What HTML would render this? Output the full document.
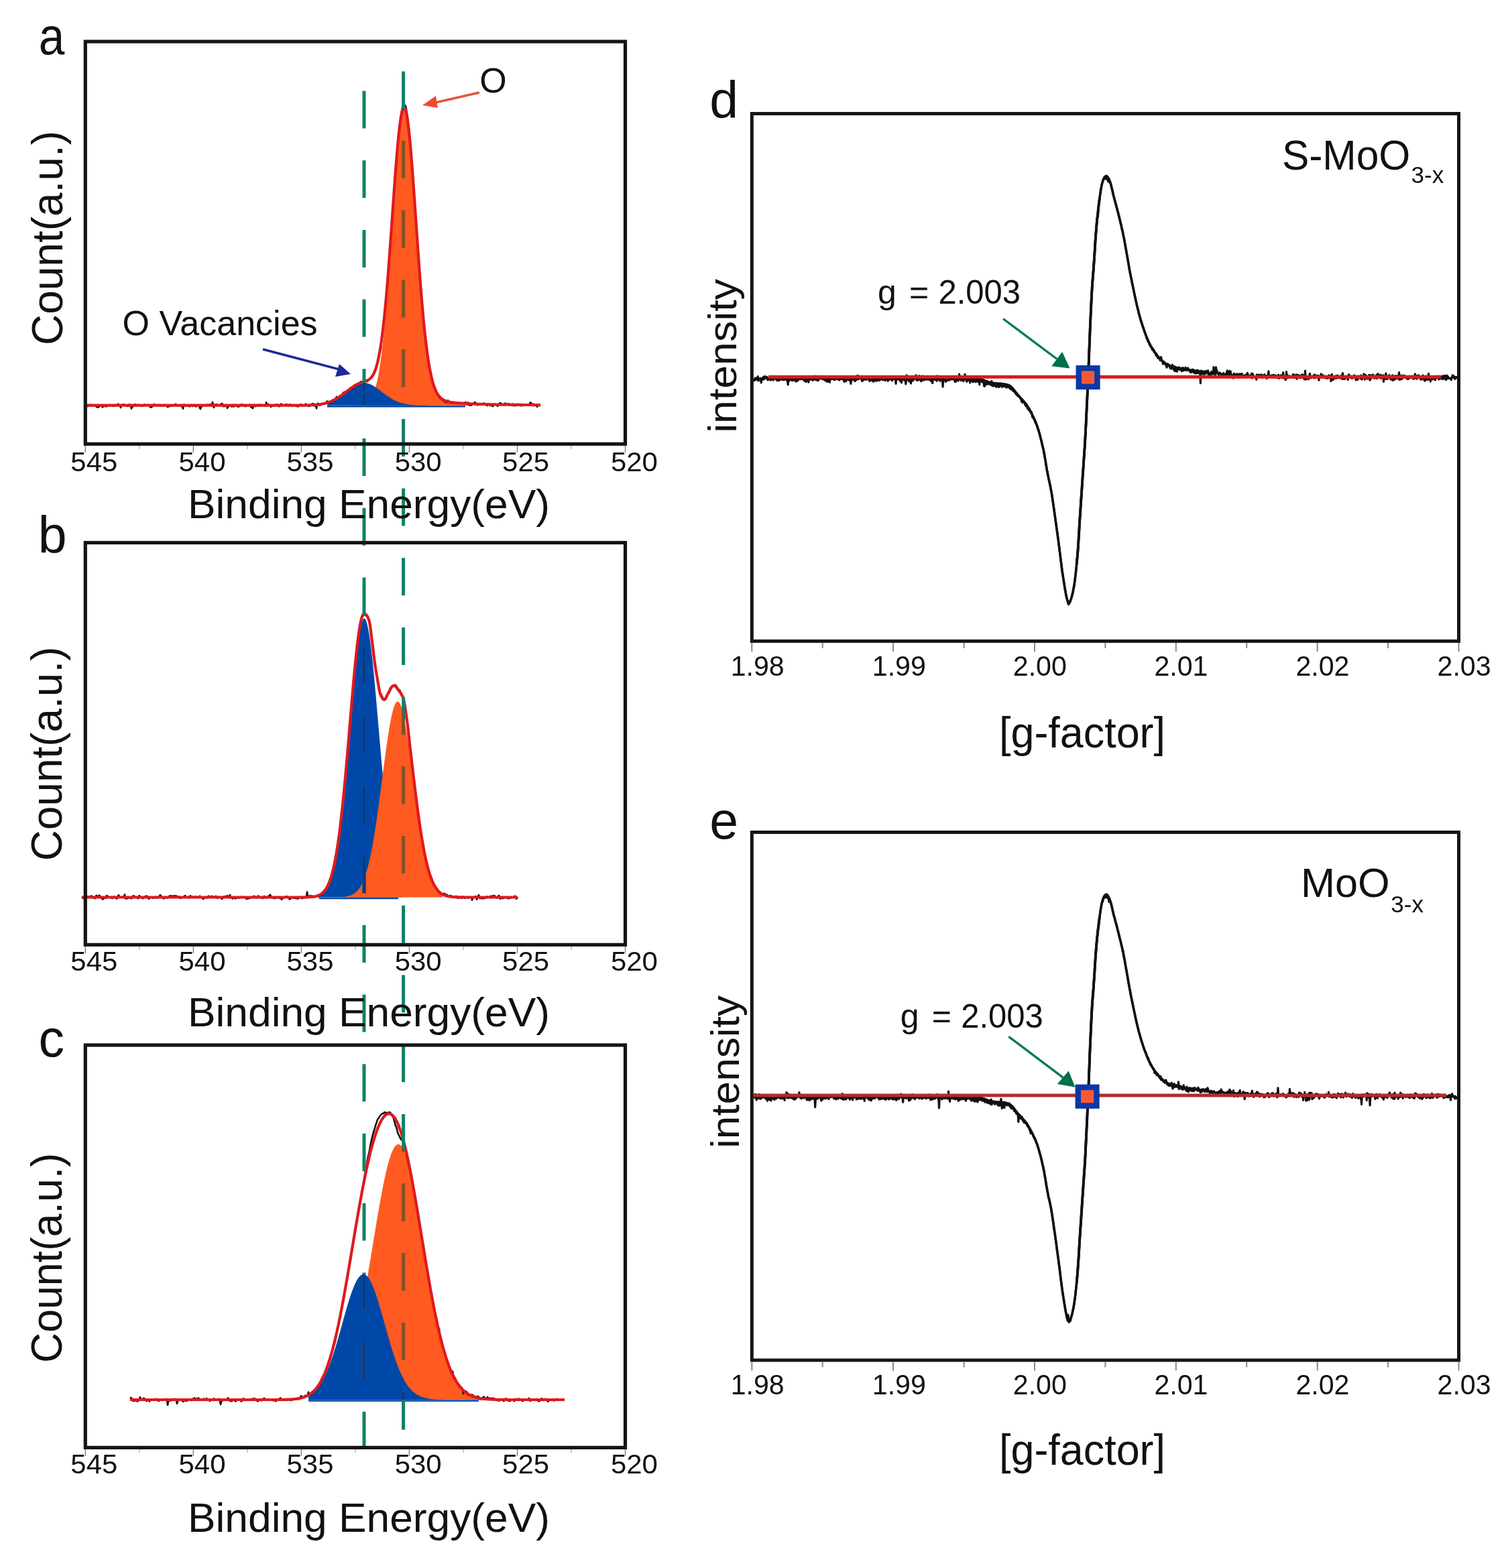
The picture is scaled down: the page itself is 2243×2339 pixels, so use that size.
<!DOCTYPE html><html><head><meta charset="utf-8"><title>XPS and EPR spectra</title><style>html,body{margin:0;padding:0;background:#fff;overflow:hidden;}svg{display:block;}</style></head><body><svg width="2243" height="2339" viewBox="0 0 2243 2339" font-family="'Liberation Sans', Arial, Helvetica, sans-serif">
<rect x="0" y="0" width="2243" height="2339" fill="#fff"/>
<defs><clipPath id="clipOa"><path d="M530.0,604.7 L530.0,604.6 L531.0,604.5 L532.0,604.5 L533.0,604.5 L534.0,604.4 L535.0,604.3 L536.0,604.2 L537.0,604.1 L538.0,604.0 L539.0,603.8 L540.0,603.7 L541.0,603.4 L542.0,603.2 L543.0,602.9 L544.0,602.5 L545.0,602.1 L546.0,601.6 L547.0,601.0 L548.0,600.3 L549.0,599.5 L550.0,598.6 L551.0,597.5 L552.0,596.3 L553.0,594.9 L554.0,593.3 L555.0,591.4 L556.0,589.4 L557.0,587.0 L558.0,584.4 L559.0,581.4 L560.0,578.1 L561.0,574.5 L562.0,570.4 L563.0,565.8 L564.0,560.9 L565.0,555.4 L566.0,549.4 L567.0,542.9 L568.0,535.8 L569.0,528.2 L570.0,519.9 L571.0,511.1 L572.0,501.7 L573.0,491.6 L574.0,481.0 L575.0,469.7 L576.0,457.9 L577.0,445.6 L578.0,432.7 L579.0,419.4 L580.0,405.7 L581.0,391.6 L582.0,377.2 L583.0,362.6 L584.0,347.8 L585.0,332.9 L586.0,318.1 L587.0,303.4 L588.0,288.9 L589.0,274.7 L590.0,261.0 L591.0,247.8 L592.0,235.2 L593.0,223.3 L594.0,212.2 L595.0,202.1 L596.0,193.0 L597.0,184.9 L598.0,178.1 L599.0,172.4 L600.0,168.0 L601.0,164.9 L602.0,163.1 L603.0,162.7 L604.0,163.7 L605.0,166.1 L606.0,169.9 L607.0,175.1 L608.0,181.5 L609.0,189.1 L610.0,197.9 L611.0,207.7 L612.0,218.5 L613.0,230.0 L614.0,242.4 L615.0,255.3 L616.0,268.7 L617.0,282.6 L618.0,296.8 L619.0,311.2 L620.0,325.7 L621.0,340.2 L622.0,354.6 L623.0,368.9 L624.0,383.0 L625.0,396.8 L626.0,410.2 L627.0,423.3 L628.0,435.9 L629.0,448.0 L630.0,459.7 L631.0,470.7 L632.0,481.3 L633.0,491.2 L634.0,500.6 L635.0,509.4 L636.0,517.7 L637.0,525.3 L638.0,532.5 L639.0,539.1 L640.0,545.2 L641.0,550.8 L642.0,555.9 L643.0,560.6 L644.0,564.8 L645.0,568.7 L646.0,572.2 L647.0,575.4 L648.0,578.2 L649.0,580.7 L650.0,583.0 L651.0,585.1 L652.0,586.9 L653.0,588.5 L654.0,589.9 L655.0,591.2 L656.0,592.4 L657.0,593.4 L658.0,594.2 L659.0,595.0 L660.0,595.7 L661.0,596.3 L662.0,596.9 L663.0,597.3 L664.0,597.8 L665.0,598.1 L666.0,598.5 L667.0,598.8 L668.0,599.0 L669.0,599.3 L670.0,599.5 L671.0,599.7 L672.0,599.9 L673.0,600.0 L674.0,600.2 L675.0,600.3 L676.0,600.5 L677.0,600.6 L678.0,600.7 L679.0,600.8 L680.0,600.9 L681.0,601.0 L682.0,601.1 L683.0,601.2 L684.0,601.3 L685.0,601.4 L686.0,601.4 L687.0,601.5 L688.0,601.6 L689.0,601.7 L690.0,601.7 L691.0,601.8 L692.0,601.8 L693.0,601.9 L694.0,602.0 L695.0,602.0 L696.0,602.1 L697.0,602.1 L698.0,602.2 L699.0,602.2 L700.0,602.3 L700.0,604.7 Z"/></clipPath><clipPath id="clipBa"><path d="M488.0,604.7 L488.0,600.8 L489.0,600.4 L490.0,600.1 L491.0,599.7 L492.0,599.4 L493.0,599.0 L494.0,598.6 L495.0,598.1 L496.0,597.7 L497.0,597.2 L498.0,596.7 L499.0,596.2 L500.0,595.6 L501.0,595.0 L502.0,594.5 L503.0,593.9 L504.0,593.2 L505.0,592.6 L506.0,591.9 L507.0,591.2 L508.0,590.6 L509.0,589.8 L510.0,589.1 L511.0,588.4 L512.0,587.7 L513.0,586.9 L514.0,586.1 L515.0,585.4 L516.0,584.6 L517.0,583.8 L518.0,583.1 L519.0,582.3 L520.0,581.6 L521.0,580.8 L522.0,580.1 L523.0,579.4 L524.0,578.7 L525.0,578.0 L526.0,577.3 L527.0,576.7 L528.0,576.0 L529.0,575.4 L530.0,574.9 L531.0,574.4 L532.0,573.9 L533.0,573.4 L534.0,573.0 L535.0,572.6 L536.0,572.3 L537.0,572.0 L538.0,571.7 L539.0,571.5 L540.0,571.4 L541.0,571.3 L542.0,571.2 L543.0,571.2 L544.0,571.2 L545.0,571.3 L546.0,571.4 L547.0,571.6 L548.0,571.8 L549.0,572.1 L550.0,572.4 L551.0,572.8 L552.0,573.2 L553.0,573.6 L554.0,574.1 L555.0,574.6 L556.0,575.1 L557.0,575.7 L558.0,576.3 L559.0,576.9 L560.0,577.6 L561.0,578.2 L562.0,578.9 L563.0,579.6 L564.0,580.4 L565.0,581.1 L566.0,581.9 L567.0,582.6 L568.0,583.4 L569.0,584.2 L570.0,584.9 L571.0,585.7 L572.0,586.4 L573.0,587.2 L574.0,587.9 L575.0,588.7 L576.0,589.4 L577.0,590.1 L578.0,590.8 L579.0,591.5 L580.0,592.2 L581.0,592.8 L582.0,593.5 L583.0,594.1 L584.0,594.7 L585.0,595.3 L586.0,595.8 L587.0,596.4 L588.0,596.9 L589.0,597.4 L590.0,597.8 L591.0,598.3 L592.0,598.7 L593.0,599.1 L594.0,599.5 L595.0,599.9 L596.0,600.2 L597.0,600.6 L598.0,600.9 L599.0,601.2 L600.0,601.4 L601.0,601.7 L602.0,601.9 L603.0,602.2 L604.0,602.4 L605.0,602.6 L606.0,602.8 L607.0,602.9 L608.0,603.1 L609.0,603.2 L610.0,603.4 L611.0,603.5 L612.0,603.6 L613.0,603.7 L614.0,603.8 L615.0,603.9 L616.0,604.0 L617.0,604.0 L618.0,604.1 L619.0,604.2 L620.0,604.2 L621.0,604.3 L622.0,604.3 L623.0,604.4 L624.0,604.4 L625.0,604.4 L626.0,604.5 L627.0,604.5 L628.0,604.5 L629.0,604.5 L630.0,604.6 L631.0,604.6 L632.0,604.6 L633.0,604.6 L634.0,604.6 L635.0,604.6 L636.0,604.6 L637.0,604.6 L638.0,604.6 L639.0,604.7 L640.0,604.7 L641.0,604.7 L642.0,604.7 L643.0,604.7 L644.0,604.7 L645.0,604.7 L646.0,604.7 L647.0,604.7 L648.0,604.7 L649.0,604.7 L650.0,604.7 L651.0,604.7 L652.0,604.7 L653.0,604.7 L654.0,604.7 L655.0,604.7 L656.0,604.7 L657.0,604.7 L658.0,604.7 L659.0,604.7 L660.0,604.7 L661.0,604.7 L662.0,604.7 L663.0,604.7 L664.0,604.7 L665.0,604.7 L666.0,604.7 L667.0,604.7 L668.0,604.7 L669.0,604.7 L670.0,604.7 L671.0,604.7 L672.0,604.7 L673.0,604.7 L674.0,604.7 L675.0,604.7 L676.0,604.7 L677.0,604.7 L678.0,604.7 L679.0,604.7 L680.0,604.7 L681.0,604.7 L682.0,604.7 L683.0,604.7 L684.0,604.7 L685.0,604.7 L686.0,604.7 L687.0,604.7 L688.0,604.7 L689.0,604.7 L690.0,604.7 L691.0,604.7 L692.0,604.7 L693.0,604.7 L694.0,604.7 L695.0,604.7 L696.0,604.7 L697.0,604.7 L698.0,604.7 L699.0,604.7 L700.0,604.7 L700.0,604.7 Z"/></clipPath><clipPath id="clipOb"><path d="M515.0,1338.5 L515.0,1337.6 L516.0,1337.4 L517.0,1337.3 L518.0,1337.1 L519.0,1336.8 L520.0,1336.6 L521.0,1336.3 L522.0,1336.0 L523.0,1335.7 L524.0,1335.3 L525.0,1334.8 L526.0,1334.3 L527.0,1333.7 L528.0,1333.1 L529.0,1332.4 L530.0,1331.6 L531.0,1330.8 L532.0,1329.8 L533.0,1328.8 L534.0,1327.6 L535.0,1326.4 L536.0,1325.0 L537.0,1323.4 L538.0,1321.8 L539.0,1319.9 L540.0,1318.0 L541.0,1315.8 L542.0,1313.5 L543.0,1311.0 L544.0,1308.3 L545.0,1305.4 L546.0,1302.3 L547.0,1299.0 L548.0,1295.4 L549.0,1291.7 L550.0,1287.6 L551.0,1283.4 L552.0,1278.9 L553.0,1274.1 L554.0,1269.2 L555.0,1263.9 L556.0,1258.4 L557.0,1252.7 L558.0,1246.8 L559.0,1240.6 L560.0,1234.2 L561.0,1227.6 L562.0,1220.8 L563.0,1213.8 L564.0,1206.6 L565.0,1199.3 L566.0,1191.9 L567.0,1184.4 L568.0,1176.8 L569.0,1169.1 L570.0,1161.4 L571.0,1153.7 L572.0,1146.0 L573.0,1138.4 L574.0,1130.9 L575.0,1123.5 L576.0,1116.3 L577.0,1109.3 L578.0,1102.4 L579.0,1095.9 L580.0,1089.6 L581.0,1083.7 L582.0,1078.1 L583.0,1072.8 L584.0,1068.0 L585.0,1063.6 L586.0,1059.7 L587.0,1056.3 L588.0,1053.3 L589.0,1050.9 L590.0,1049.0 L591.0,1047.6 L592.0,1046.8 L593.0,1046.5 L594.0,1046.8 L595.0,1047.6 L596.0,1049.0 L597.0,1050.9 L598.0,1053.3 L599.0,1056.3 L600.0,1059.7 L601.0,1063.6 L602.0,1068.0 L603.0,1072.8 L604.0,1078.1 L605.0,1083.7 L606.0,1089.6 L607.0,1095.9 L608.0,1102.4 L609.0,1109.3 L610.0,1116.3 L611.0,1123.5 L612.0,1130.9 L613.0,1138.4 L614.0,1146.0 L615.0,1153.7 L616.0,1161.4 L617.0,1169.1 L618.0,1176.8 L619.0,1184.4 L620.0,1191.9 L621.0,1199.3 L622.0,1206.6 L623.0,1213.8 L624.0,1220.8 L625.0,1227.6 L626.0,1234.2 L627.0,1240.6 L628.0,1246.8 L629.0,1252.7 L630.0,1258.4 L631.0,1263.9 L632.0,1269.2 L633.0,1274.1 L634.0,1278.9 L635.0,1283.4 L636.0,1287.6 L637.0,1291.7 L638.0,1295.4 L639.0,1299.0 L640.0,1302.3 L641.0,1305.4 L642.0,1308.3 L643.0,1311.0 L644.0,1313.5 L645.0,1315.8 L646.0,1318.0 L647.0,1319.9 L648.0,1321.8 L649.0,1323.4 L650.0,1325.0 L651.0,1326.4 L652.0,1327.6 L653.0,1328.8 L654.0,1329.8 L655.0,1330.8 L656.0,1331.6 L657.0,1332.4 L658.0,1333.1 L659.0,1333.7 L660.0,1334.3 L660.0,1338.5 Z"/></clipPath><clipPath id="clipBb"><path d="M476.0,1338.5 L476.0,1335.4 L477.0,1334.9 L478.0,1334.3 L479.0,1333.7 L480.0,1333.0 L481.0,1332.2 L482.0,1331.3 L483.0,1330.2 L484.0,1329.1 L485.0,1327.8 L486.0,1326.4 L487.0,1324.8 L488.0,1323.1 L489.0,1321.2 L490.0,1319.0 L491.0,1316.7 L492.0,1314.1 L493.0,1311.3 L494.0,1308.2 L495.0,1304.8 L496.0,1301.1 L497.0,1297.2 L498.0,1292.9 L499.0,1288.2 L500.0,1283.2 L501.0,1277.9 L502.0,1272.2 L503.0,1266.1 L504.0,1259.6 L505.0,1252.7 L506.0,1245.4 L507.0,1237.7 L508.0,1229.6 L509.0,1221.1 L510.0,1212.2 L511.0,1203.0 L512.0,1193.4 L513.0,1183.4 L514.0,1173.1 L515.0,1162.5 L516.0,1151.6 L517.0,1140.5 L518.0,1129.2 L519.0,1117.7 L520.0,1106.1 L521.0,1094.4 L522.0,1082.7 L523.0,1070.9 L524.0,1059.3 L525.0,1047.8 L526.0,1036.4 L527.0,1025.3 L528.0,1014.5 L529.0,1004.0 L530.0,994.0 L531.0,984.4 L532.0,975.3 L533.0,966.8 L534.0,958.9 L535.0,951.7 L536.0,945.2 L537.0,939.4 L538.0,934.5 L539.0,930.4 L540.0,927.1 L541.0,924.7 L542.0,923.1 L543.0,922.5 L544.0,922.8 L545.0,924.0 L546.0,926.0 L547.0,928.9 L548.0,932.7 L549.0,937.4 L550.0,942.8 L551.0,949.0 L552.0,955.9 L553.0,963.5 L554.0,971.8 L555.0,980.7 L556.0,990.1 L557.0,999.9 L558.0,1010.3 L559.0,1020.9 L560.0,1031.9 L561.0,1043.2 L562.0,1054.7 L563.0,1066.3 L564.0,1078.0 L565.0,1089.7 L566.0,1101.4 L567.0,1113.1 L568.0,1124.6 L569.0,1136.0 L570.0,1147.2 L571.0,1158.2 L572.0,1168.9 L573.0,1179.3 L574.0,1189.4 L575.0,1199.2 L576.0,1208.6 L577.0,1217.6 L578.0,1226.2 L579.0,1234.5 L580.0,1242.4 L581.0,1249.8 L582.0,1256.9 L583.0,1263.5 L584.0,1269.8 L585.0,1275.6 L586.0,1281.1 L587.0,1286.3 L588.0,1291.0 L589.0,1295.5 L590.0,1299.6 L591.0,1303.4 L592.0,1306.8 L593.0,1310.1 L594.0,1313.0 L595.0,1315.7 L596.0,1318.1 L597.0,1320.3 L598.0,1322.3 L599.0,1324.2 L600.0,1325.8 L600.0,1338.5 Z"/></clipPath><clipPath id="clipOc"><path d="M500.0,2088.0 L500.0,2070.1 L501.0,2068.9 L502.0,2067.7 L503.0,2066.3 L504.0,2064.9 L505.0,2063.5 L506.0,2061.9 L507.0,2060.3 L508.0,2058.6 L509.0,2056.8 L510.0,2054.9 L511.0,2052.9 L512.0,2050.9 L513.0,2048.7 L514.0,2046.5 L515.0,2044.1 L516.0,2041.7 L517.0,2039.1 L518.0,2036.4 L519.0,2033.7 L520.0,2030.8 L521.0,2027.8 L522.0,2024.7 L523.0,2021.5 L524.0,2018.2 L525.0,2014.7 L526.0,2011.2 L527.0,2007.5 L528.0,2003.7 L529.0,1999.8 L530.0,1995.7 L531.0,1991.6 L532.0,1987.3 L533.0,1983.0 L534.0,1978.5 L535.0,1973.9 L536.0,1969.1 L537.0,1964.3 L538.0,1959.4 L539.0,1954.3 L540.0,1949.2 L541.0,1944.0 L542.0,1938.6 L543.0,1933.2 L544.0,1927.7 L545.0,1922.1 L546.0,1916.4 L547.0,1910.7 L548.0,1904.9 L549.0,1899.0 L550.0,1893.1 L551.0,1887.1 L552.0,1881.1 L553.0,1875.1 L554.0,1869.1 L555.0,1863.0 L556.0,1856.9 L557.0,1850.8 L558.0,1844.8 L559.0,1838.7 L560.0,1832.7 L561.0,1826.7 L562.0,1820.7 L563.0,1814.8 L564.0,1809.0 L565.0,1803.3 L566.0,1797.6 L567.0,1792.0 L568.0,1786.5 L569.0,1781.1 L570.0,1775.9 L571.0,1770.8 L572.0,1765.8 L573.0,1761.0 L574.0,1756.3 L575.0,1751.8 L576.0,1747.4 L577.0,1743.3 L578.0,1739.3 L579.0,1735.6 L580.0,1732.0 L581.0,1728.7 L582.0,1725.5 L583.0,1722.6 L584.0,1720.0 L585.0,1717.5 L586.0,1715.4 L587.0,1713.4 L588.0,1711.7 L589.0,1710.3 L590.0,1709.1 L591.0,1708.2 L592.0,1707.5 L593.0,1707.1 L594.0,1707.0 L595.0,1707.1 L596.0,1707.5 L597.0,1708.2 L598.0,1709.1 L599.0,1710.3 L600.0,1711.7 L601.0,1713.4 L602.0,1715.4 L603.0,1717.5 L604.0,1720.0 L605.0,1722.6 L606.0,1725.5 L607.0,1728.7 L608.0,1732.0 L609.0,1735.6 L610.0,1739.3 L611.0,1743.3 L612.0,1747.4 L613.0,1751.8 L614.0,1756.3 L615.0,1761.0 L616.0,1765.8 L617.0,1770.8 L618.0,1775.9 L619.0,1781.1 L620.0,1786.5 L621.0,1792.0 L622.0,1797.6 L623.0,1803.3 L624.0,1809.0 L625.0,1814.8 L626.0,1820.7 L627.0,1826.7 L628.0,1832.7 L629.0,1838.7 L630.0,1844.8 L631.0,1850.8 L632.0,1856.9 L633.0,1863.0 L634.0,1869.1 L635.0,1875.1 L636.0,1881.1 L637.0,1887.1 L638.0,1893.1 L639.0,1899.0 L640.0,1904.9 L641.0,1910.7 L642.0,1916.4 L643.0,1922.1 L644.0,1927.7 L645.0,1933.2 L646.0,1938.6 L647.0,1944.0 L648.0,1949.2 L649.0,1954.3 L650.0,1959.4 L651.0,1964.3 L652.0,1969.1 L653.0,1973.9 L654.0,1978.5 L655.0,1983.0 L656.0,1987.3 L657.0,1991.6 L658.0,1995.7 L659.0,1999.8 L660.0,2003.7 L661.0,2007.5 L662.0,2011.2 L663.0,2014.7 L664.0,2018.2 L665.0,2021.5 L666.0,2024.7 L667.0,2027.8 L668.0,2030.8 L669.0,2033.7 L670.0,2036.4 L671.0,2039.1 L672.0,2041.7 L673.0,2044.1 L674.0,2046.5 L675.0,2048.7 L676.0,2050.9 L677.0,2052.9 L678.0,2054.9 L679.0,2056.8 L680.0,2058.6 L681.0,2060.3 L682.0,2061.9 L683.0,2063.5 L684.0,2064.9 L685.0,2066.3 L686.0,2067.7 L687.0,2068.9 L688.0,2070.1 L689.0,2071.3 L690.0,2072.3 L691.0,2073.3 L692.0,2074.3 L693.0,2075.2 L694.0,2076.1 L695.0,2076.9 L696.0,2077.6 L697.0,2078.3 L698.0,2079.0 L699.0,2079.6 L700.0,2080.2 L701.0,2080.8 L702.0,2081.3 L703.0,2081.8 L704.0,2082.2 L705.0,2082.7 L706.0,2083.1 L707.0,2083.4 L708.0,2083.8 L709.0,2084.1 L710.0,2084.4 L711.0,2084.7 L712.0,2084.9 L713.0,2085.2 L714.0,2085.4 L715.0,2085.6 L716.0,2085.8 L717.0,2086.0 L718.0,2086.1 L719.0,2086.3 L720.0,2086.4 L721.0,2086.6 L722.0,2086.7 L722.0,2088.0 Z"/></clipPath><clipPath id="clipBc"><path d="M460.0,2088.0 L460.0,2081.5 L461.0,2081.0 L462.0,2080.4 L463.0,2079.8 L464.0,2079.1 L465.0,2078.4 L466.0,2077.6 L467.0,2076.8 L468.0,2075.9 L469.0,2075.0 L470.0,2074.1 L471.0,2073.0 L472.0,2071.9 L473.0,2070.8 L474.0,2069.5 L475.0,2068.2 L476.0,2066.9 L477.0,2065.5 L478.0,2063.9 L479.0,2062.4 L480.0,2060.7 L481.0,2059.0 L482.0,2057.2 L483.0,2055.3 L484.0,2053.3 L485.0,2051.2 L486.0,2049.1 L487.0,2046.9 L488.0,2044.6 L489.0,2042.2 L490.0,2039.7 L491.0,2037.2 L492.0,2034.5 L493.0,2031.8 L494.0,2029.0 L495.0,2026.1 L496.0,2023.2 L497.0,2020.2 L498.0,2017.1 L499.0,2013.9 L500.0,2010.7 L501.0,2007.4 L502.0,2004.1 L503.0,2000.7 L504.0,1997.3 L505.0,1993.8 L506.0,1990.3 L507.0,1986.7 L508.0,1983.2 L509.0,1979.6 L510.0,1976.0 L511.0,1972.4 L512.0,1968.8 L513.0,1965.3 L514.0,1961.7 L515.0,1958.2 L516.0,1954.7 L517.0,1951.2 L518.0,1947.9 L519.0,1944.5 L520.0,1941.2 L521.0,1938.1 L522.0,1934.9 L523.0,1931.9 L524.0,1929.0 L525.0,1926.2 L526.0,1923.5 L527.0,1920.9 L528.0,1918.5 L529.0,1916.2 L530.0,1914.0 L531.0,1912.0 L532.0,1910.1 L533.0,1908.4 L534.0,1906.9 L535.0,1905.5 L536.0,1904.3 L537.0,1903.3 L538.0,1902.5 L539.0,1901.8 L540.0,1901.4 L541.0,1901.1 L542.0,1901.0 L543.0,1901.1 L544.0,1901.4 L545.0,1901.8 L546.0,1902.5 L547.0,1903.3 L548.0,1904.3 L549.0,1905.5 L550.0,1906.9 L551.0,1908.4 L552.0,1910.1 L553.0,1912.0 L554.0,1914.0 L555.0,1916.2 L556.0,1918.5 L557.0,1920.9 L558.0,1923.5 L559.0,1926.2 L560.0,1929.0 L561.0,1931.9 L562.0,1934.9 L563.0,1938.1 L564.0,1941.2 L565.0,1944.5 L566.0,1947.9 L567.0,1951.2 L568.0,1954.7 L569.0,1958.2 L570.0,1961.7 L571.0,1965.3 L572.0,1968.8 L573.0,1972.4 L574.0,1976.0 L575.0,1979.6 L576.0,1983.2 L577.0,1986.7 L578.0,1990.3 L579.0,1993.8 L580.0,1997.3 L581.0,2000.7 L582.0,2004.1 L583.0,2007.4 L584.0,2010.7 L585.0,2013.9 L586.0,2017.1 L587.0,2020.2 L588.0,2023.2 L589.0,2026.1 L590.0,2029.0 L591.0,2031.8 L592.0,2034.5 L593.0,2037.2 L594.0,2039.7 L595.0,2042.2 L596.0,2044.6 L597.0,2046.9 L598.0,2049.1 L599.0,2051.2 L600.0,2053.3 L601.0,2055.3 L602.0,2057.2 L603.0,2059.0 L604.0,2060.7 L605.0,2062.4 L606.0,2063.9 L607.0,2065.5 L608.0,2066.9 L609.0,2068.2 L610.0,2069.5 L611.0,2070.8 L612.0,2071.9 L613.0,2073.0 L614.0,2074.1 L615.0,2075.0 L616.0,2075.9 L617.0,2076.8 L618.0,2077.6 L619.0,2078.4 L620.0,2079.1 L621.0,2079.8 L622.0,2080.4 L623.0,2081.0 L624.0,2081.5 L625.0,2082.1 L626.0,2082.5 L627.0,2083.0 L628.0,2083.4 L629.0,2083.8 L630.0,2084.1 L631.0,2084.5 L632.0,2084.8 L633.0,2085.0 L634.0,2085.3 L635.0,2085.5 L636.0,2085.8 L637.0,2086.0 L638.0,2086.1 L639.0,2086.3 L640.0,2086.5 L641.0,2086.6 L642.0,2086.7 L643.0,2086.9 L644.0,2087.0 L645.0,2087.1 L646.0,2087.2 L647.0,2087.3 L648.0,2087.3 L649.0,2087.4 L650.0,2087.5 L651.0,2087.5 L652.0,2087.6 L653.0,2087.6 L654.0,2087.7 L655.0,2087.7 L656.0,2087.7 L657.0,2087.8 L658.0,2087.8 L659.0,2087.8 L660.0,2087.8 L661.0,2087.8 L662.0,2087.9 L663.0,2087.9 L664.0,2087.9 L665.0,2087.9 L666.0,2087.9 L667.0,2087.9 L668.0,2087.9 L669.0,2087.9 L670.0,2087.9 L671.0,2088.0 L672.0,2088.0 L673.0,2088.0 L674.0,2088.0 L675.0,2088.0 L676.0,2088.0 L677.0,2088.0 L678.0,2088.0 L679.0,2088.0 L680.0,2088.0 L681.0,2088.0 L682.0,2088.0 L683.0,2088.0 L684.0,2088.0 L685.0,2088.0 L686.0,2088.0 L687.0,2088.0 L688.0,2088.0 L689.0,2088.0 L690.0,2088.0 L691.0,2088.0 L692.0,2088.0 L693.0,2088.0 L694.0,2088.0 L695.0,2088.0 L696.0,2088.0 L697.0,2088.0 L698.0,2088.0 L699.0,2088.0 L700.0,2088.0 L701.0,2088.0 L702.0,2088.0 L703.0,2088.0 L704.0,2088.0 L705.0,2088.0 L706.0,2088.0 L707.0,2088.0 L708.0,2088.0 L709.0,2088.0 L710.0,2088.0 L711.0,2088.0 L712.0,2088.0 L713.0,2088.0 L714.0,2088.0 L715.0,2088.0 L716.0,2088.0 L717.0,2088.0 L718.0,2088.0 L719.0,2088.0 L720.0,2088.0 L720.0,2088.0 Z"/></clipPath></defs>
<path d="M530.0,604.7 L530.0,604.6 L531.0,604.5 L532.0,604.5 L533.0,604.5 L534.0,604.4 L535.0,604.3 L536.0,604.2 L537.0,604.1 L538.0,604.0 L539.0,603.8 L540.0,603.7 L541.0,603.4 L542.0,603.2 L543.0,602.9 L544.0,602.5 L545.0,602.1 L546.0,601.6 L547.0,601.0 L548.0,600.3 L549.0,599.5 L550.0,598.6 L551.0,597.5 L552.0,596.3 L553.0,594.9 L554.0,593.3 L555.0,591.4 L556.0,589.4 L557.0,587.0 L558.0,584.4 L559.0,581.4 L560.0,578.1 L561.0,574.5 L562.0,570.4 L563.0,565.8 L564.0,560.9 L565.0,555.4 L566.0,549.4 L567.0,542.9 L568.0,535.8 L569.0,528.2 L570.0,519.9 L571.0,511.1 L572.0,501.7 L573.0,491.6 L574.0,481.0 L575.0,469.7 L576.0,457.9 L577.0,445.6 L578.0,432.7 L579.0,419.4 L580.0,405.7 L581.0,391.6 L582.0,377.2 L583.0,362.6 L584.0,347.8 L585.0,332.9 L586.0,318.1 L587.0,303.4 L588.0,288.9 L589.0,274.7 L590.0,261.0 L591.0,247.8 L592.0,235.2 L593.0,223.3 L594.0,212.2 L595.0,202.1 L596.0,193.0 L597.0,184.9 L598.0,178.1 L599.0,172.4 L600.0,168.0 L601.0,164.9 L602.0,163.1 L603.0,162.7 L604.0,163.7 L605.0,166.1 L606.0,169.9 L607.0,175.1 L608.0,181.5 L609.0,189.1 L610.0,197.9 L611.0,207.7 L612.0,218.5 L613.0,230.0 L614.0,242.4 L615.0,255.3 L616.0,268.7 L617.0,282.6 L618.0,296.8 L619.0,311.2 L620.0,325.7 L621.0,340.2 L622.0,354.6 L623.0,368.9 L624.0,383.0 L625.0,396.8 L626.0,410.2 L627.0,423.3 L628.0,435.9 L629.0,448.0 L630.0,459.7 L631.0,470.7 L632.0,481.3 L633.0,491.2 L634.0,500.6 L635.0,509.4 L636.0,517.7 L637.0,525.3 L638.0,532.5 L639.0,539.1 L640.0,545.2 L641.0,550.8 L642.0,555.9 L643.0,560.6 L644.0,564.8 L645.0,568.7 L646.0,572.2 L647.0,575.4 L648.0,578.2 L649.0,580.7 L650.0,583.0 L651.0,585.1 L652.0,586.9 L653.0,588.5 L654.0,589.9 L655.0,591.2 L656.0,592.4 L657.0,593.4 L658.0,594.2 L659.0,595.0 L660.0,595.7 L661.0,596.3 L662.0,596.9 L663.0,597.3 L664.0,597.8 L665.0,598.1 L666.0,598.5 L667.0,598.8 L668.0,599.0 L669.0,599.3 L670.0,599.5 L671.0,599.7 L672.0,599.9 L673.0,600.0 L674.0,600.2 L675.0,600.3 L676.0,600.5 L677.0,600.6 L678.0,600.7 L679.0,600.8 L680.0,600.9 L681.0,601.0 L682.0,601.1 L683.0,601.2 L684.0,601.3 L685.0,601.4 L686.0,601.4 L687.0,601.5 L688.0,601.6 L689.0,601.7 L690.0,601.7 L691.0,601.8 L692.0,601.8 L693.0,601.9 L694.0,602.0 L695.0,602.0 L696.0,602.1 L697.0,602.1 L698.0,602.2 L699.0,602.2 L700.0,602.3 L700.0,604.7 Z" fill="#ff5a1f"/>
<path d="M488.0,604.7 L488.0,600.8 L489.0,600.4 L490.0,600.1 L491.0,599.7 L492.0,599.4 L493.0,599.0 L494.0,598.6 L495.0,598.1 L496.0,597.7 L497.0,597.2 L498.0,596.7 L499.0,596.2 L500.0,595.6 L501.0,595.0 L502.0,594.5 L503.0,593.9 L504.0,593.2 L505.0,592.6 L506.0,591.9 L507.0,591.2 L508.0,590.6 L509.0,589.8 L510.0,589.1 L511.0,588.4 L512.0,587.7 L513.0,586.9 L514.0,586.1 L515.0,585.4 L516.0,584.6 L517.0,583.8 L518.0,583.1 L519.0,582.3 L520.0,581.6 L521.0,580.8 L522.0,580.1 L523.0,579.4 L524.0,578.7 L525.0,578.0 L526.0,577.3 L527.0,576.7 L528.0,576.0 L529.0,575.4 L530.0,574.9 L531.0,574.4 L532.0,573.9 L533.0,573.4 L534.0,573.0 L535.0,572.6 L536.0,572.3 L537.0,572.0 L538.0,571.7 L539.0,571.5 L540.0,571.4 L541.0,571.3 L542.0,571.2 L543.0,571.2 L544.0,571.2 L545.0,571.3 L546.0,571.4 L547.0,571.6 L548.0,571.8 L549.0,572.1 L550.0,572.4 L551.0,572.8 L552.0,573.2 L553.0,573.6 L554.0,574.1 L555.0,574.6 L556.0,575.1 L557.0,575.7 L558.0,576.3 L559.0,576.9 L560.0,577.6 L561.0,578.2 L562.0,578.9 L563.0,579.6 L564.0,580.4 L565.0,581.1 L566.0,581.9 L567.0,582.6 L568.0,583.4 L569.0,584.2 L570.0,584.9 L571.0,585.7 L572.0,586.4 L573.0,587.2 L574.0,587.9 L575.0,588.7 L576.0,589.4 L577.0,590.1 L578.0,590.8 L579.0,591.5 L580.0,592.2 L581.0,592.8 L582.0,593.5 L583.0,594.1 L584.0,594.7 L585.0,595.3 L586.0,595.8 L587.0,596.4 L588.0,596.9 L589.0,597.4 L590.0,597.8 L591.0,598.3 L592.0,598.7 L593.0,599.1 L594.0,599.5 L595.0,599.9 L596.0,600.2 L597.0,600.6 L598.0,600.9 L599.0,601.2 L600.0,601.4 L601.0,601.7 L602.0,601.9 L603.0,602.2 L604.0,602.4 L605.0,602.6 L606.0,602.8 L607.0,602.9 L608.0,603.1 L609.0,603.2 L610.0,603.4 L611.0,603.5 L612.0,603.6 L613.0,603.7 L614.0,603.8 L615.0,603.9 L616.0,604.0 L617.0,604.0 L618.0,604.1 L619.0,604.2 L620.0,604.2 L621.0,604.3 L622.0,604.3 L623.0,604.4 L624.0,604.4 L625.0,604.4 L626.0,604.5 L627.0,604.5 L628.0,604.5 L629.0,604.5 L630.0,604.6 L631.0,604.6 L632.0,604.6 L633.0,604.6 L634.0,604.6 L635.0,604.6 L636.0,604.6 L637.0,604.6 L638.0,604.6 L639.0,604.7 L640.0,604.7 L641.0,604.7 L642.0,604.7 L643.0,604.7 L644.0,604.7 L645.0,604.7 L646.0,604.7 L647.0,604.7 L648.0,604.7 L649.0,604.7 L650.0,604.7 L651.0,604.7 L652.0,604.7 L653.0,604.7 L654.0,604.7 L655.0,604.7 L656.0,604.7 L657.0,604.7 L658.0,604.7 L659.0,604.7 L660.0,604.7 L661.0,604.7 L662.0,604.7 L663.0,604.7 L664.0,604.7 L665.0,604.7 L666.0,604.7 L667.0,604.7 L668.0,604.7 L669.0,604.7 L670.0,604.7 L671.0,604.7 L672.0,604.7 L673.0,604.7 L674.0,604.7 L675.0,604.7 L676.0,604.7 L677.0,604.7 L678.0,604.7 L679.0,604.7 L680.0,604.7 L681.0,604.7 L682.0,604.7 L683.0,604.7 L684.0,604.7 L685.0,604.7 L686.0,604.7 L687.0,604.7 L688.0,604.7 L689.0,604.7 L690.0,604.7 L691.0,604.7 L692.0,604.7 L693.0,604.7 L694.0,604.7 L695.0,604.7 L696.0,604.7 L697.0,604.7 L698.0,604.7 L699.0,604.7 L700.0,604.7 L700.0,604.7 Z" fill="#0048a8"/>
<line x1="488" y1="606.2" x2="694" y2="606.2" stroke="#0048a8" stroke-width="2.5"/>
<path d="M127.0,604.6 L128.0,604.5 L129.0,605.2 L130.0,605.9 L131.0,606.0 L132.0,605.8 L133.0,604.5 L134.0,603.6 L135.0,604.8 L136.0,605.3 L137.0,604.4 L138.0,604.1 L139.0,604.9 L140.0,605.5 L141.0,604.8 L142.0,604.7 L143.0,605.9 L144.0,606.7 L145.0,607.3 L146.0,607.7 L147.0,607.2 L148.0,606.4 L149.0,605.9 L150.0,605.0 L151.0,604.5 L152.0,606.0 L153.0,607.4 L154.0,606.4 L155.0,604.9 L156.0,605.3 L157.0,606.3 L158.0,606.3 L159.0,606.2 L160.0,605.4 L161.0,604.5 L162.0,605.0 L163.0,604.7 L164.0,604.2 L165.0,604.9 L166.0,605.0 L167.0,604.6 L168.0,605.2 L169.0,605.8 L170.0,604.6 L171.0,604.1 L172.0,605.1 L173.0,604.6 L174.0,604.5 L175.0,604.3 L176.0,602.7 L177.0,603.6 L178.0,605.4 L179.0,604.9 L180.0,608.1 L181.0,604.3 L182.0,604.2 L183.0,604.1 L184.0,603.4 L185.0,603.3 L186.0,604.6 L187.0,605.0 L188.0,605.0 L189.0,605.4 L190.0,606.0 L191.0,605.9 L192.0,604.7 L193.0,603.4 L194.0,603.8 L195.0,605.8 L196.0,609.6 L197.0,605.4 L198.0,606.5 L199.0,606.1 L200.0,604.4 L201.0,603.2 L202.0,603.6 L203.0,604.9 L204.0,605.3 L205.0,604.4 L206.0,603.6 L207.0,604.5 L208.0,605.0 L209.0,604.6 L210.0,604.7 L211.0,605.5 L212.0,605.9 L213.0,605.5 L214.0,604.6 L215.0,603.5 L216.0,603.5 L217.0,604.1 L218.0,604.2 L219.0,604.2 L220.0,603.9 L221.0,603.9 L222.0,604.8 L223.0,605.5 L224.0,607.3 L225.0,607.1 L226.0,607.6 L227.0,606.4 L228.0,605.6 L229.0,603.9 L230.0,602.9 L231.0,604.7 L232.0,605.6 L233.0,604.6 L234.0,604.2 L235.0,604.7 L236.0,604.6 L237.0,603.9 L238.0,604.4 L239.0,605.5 L240.0,605.2 L241.0,605.2 L242.0,605.6 L243.0,605.4 L244.0,604.9 L245.0,604.1 L246.0,604.0 L247.0,604.8 L248.0,605.3 L249.0,606.0 L250.0,607.2 L251.0,606.6 L252.0,605.9 L253.0,606.1 L254.0,605.7 L255.0,605.6 L256.0,605.2 L257.0,604.8 L258.0,604.3 L259.0,604.9 L260.0,605.5 L261.0,603.6 L262.0,602.8 L263.0,604.2 L264.0,605.1 L265.0,605.4 L266.0,605.2 L267.0,604.4 L268.0,604.7 L269.0,605.4 L270.0,605.8 L271.0,606.3 L272.0,605.6 L273.0,609.7 L274.0,603.8 L275.0,603.8 L276.0,604.6 L277.0,605.5 L278.0,605.6 L279.0,605.4 L280.0,605.1 L281.0,605.2 L282.0,605.8 L283.0,606.5 L284.0,605.3 L285.0,603.8 L286.0,605.1 L287.0,605.9 L288.0,604.2 L289.0,603.9 L290.0,605.5 L291.0,605.9 L292.0,606.2 L293.0,606.3 L294.0,604.8 L295.0,604.3 L296.0,605.0 L297.0,605.2 L298.0,608.9 L299.0,610.0 L300.0,605.6 L301.0,606.4 L302.0,605.7 L303.0,604.2 L304.0,604.4 L305.0,604.1 L306.0,604.8 L307.0,605.4 L308.0,605.1 L309.0,604.5 L310.0,603.5 L311.0,605.0 L312.0,604.2 L313.0,603.2 L314.0,603.3 L315.0,604.3 L316.0,605.7 L317.0,599.8 L318.0,604.0 L319.0,607.9 L320.0,604.1 L321.0,603.9 L322.0,603.3 L323.0,603.1 L324.0,603.6 L325.0,604.0 L326.0,604.1 L327.0,604.8 L328.0,604.2 L329.0,603.4 L330.0,602.7 L331.0,601.8 L332.0,602.9 L333.0,605.9 L334.0,606.5 L335.0,605.2 L336.0,605.3 L337.0,604.8 L338.0,604.7 L339.0,608.9 L340.0,607.4 L341.0,605.4 L342.0,604.7 L343.0,604.9 L344.0,605.2 L345.0,606.2 L346.0,606.6 L347.0,606.0 L348.0,603.7 L349.0,606.5 L350.0,605.0 L351.0,604.3 L352.0,604.8 L353.0,605.8 L354.0,606.3 L355.0,606.4 L356.0,606.6 L357.0,605.3 L358.0,605.2 L359.0,604.6 L360.0,603.2 L361.0,603.3 L362.0,604.6 L363.0,604.6 L364.0,604.4 L365.0,605.4 L366.0,606.3 L367.0,605.5 L368.0,604.3 L369.0,604.4 L370.0,604.8 L371.0,604.4 L372.0,603.8 L373.0,605.2 L374.0,607.1 L375.0,607.3 L376.0,608.4 L377.0,609.0 L378.0,606.1 L379.0,603.7 L380.0,604.6 L381.0,606.2 L382.0,605.6 L383.0,604.0 L384.0,604.0 L385.0,604.6 L386.0,605.7 L387.0,604.3 L388.0,603.7 L389.0,603.7 L390.0,604.7 L391.0,605.3 L392.0,605.0 L393.0,604.6 L394.0,604.6 L395.0,605.5 L396.0,605.4 L397.0,600.3 L398.0,605.1 L399.0,603.0 L400.0,602.7 L401.0,604.1 L402.0,604.0 L403.0,605.2 L404.0,606.9 L405.0,605.7 L406.0,604.6 L407.0,605.2 L408.0,605.8 L409.0,605.6 L410.0,604.4 L411.0,603.5 L412.0,603.8 L413.0,603.8 L414.0,603.5 L415.0,604.7 L416.0,606.2 L417.0,605.9 L418.0,603.6 L419.0,602.6 L420.0,603.1 L421.0,603.6 L422.0,604.2 L423.0,604.6 L424.0,604.9 L425.0,605.0 L426.0,604.0 L427.0,603.0 L428.0,603.5 L429.0,604.8 L430.0,605.6 L431.0,604.8 L432.0,603.2 L433.0,603.4 L434.0,604.6 L435.0,605.5 L436.0,605.9 L437.0,604.9 L438.0,604.1 L439.0,604.8 L440.0,605.2 L441.0,604.9 L442.0,605.4 L443.0,606.2 L444.0,606.1 L445.0,606.2 L446.0,604.6 L447.0,604.7 L448.0,603.7 L449.0,603.1 L450.0,604.5 L451.0,605.2 L452.0,604.7 L453.0,605.0 L454.0,605.3 L455.0,603.6 L456.0,602.5 L457.0,603.9 L458.0,605.3 L459.0,605.4 L460.0,605.2 L461.0,606.0 L462.0,605.4 L463.0,604.1 L464.0,604.0 L465.0,602.9 L466.0,602.1 L467.0,602.9 L468.0,602.5 L469.0,605.5 L470.0,603.5 L471.0,605.1 L472.0,609.3 L473.0,603.6 L474.0,601.7 L475.0,602.3 L476.0,604.1 L477.0,604.7 L478.0,603.8 L479.0,602.9 L480.0,602.6 L481.0,602.2 L482.0,602.0 L483.0,602.2 L484.0,601.9 L485.0,601.5 L486.0,601.1 L487.0,599.7 L488.0,598.5 L489.0,599.0 L490.0,600.6 L491.0,601.1 L492.0,600.7 L493.0,601.3 L494.0,600.4 L495.0,597.6 L496.0,596.7 L497.0,597.8 L498.0,598.5 L499.0,597.6 L500.0,596.1 L501.0,593.7 L502.0,591.9 L503.0,592.9 L504.0,594.4 L505.0,594.1 L506.0,592.6 L507.0,592.0 L508.0,591.7 L509.0,590.8 L510.0,589.6 L511.0,587.4 L512.0,585.6 L513.0,585.6 L514.0,584.8 L515.0,585.2 L516.0,584.7 L517.0,584.4 L518.0,584.2 L519.0,584.4 L520.0,583.2 L521.0,580.8 L522.0,579.8 L523.0,578.7 L524.0,578.4 L525.0,579.5 L526.0,578.7 L527.0,576.6 L528.0,575.7 L529.0,574.1 L530.0,573.9 L531.0,574.1 L532.0,575.2 L533.0,574.2 L534.0,572.1 L535.0,572.3 L536.0,572.8 L537.0,570.8 L538.0,569.2 L539.0,569.3 L540.0,570.2 L541.0,571.0 L542.0,569.7 L543.0,567.6 L544.0,567.3 L545.0,567.6 L546.0,568.1 L547.0,568.9 L548.0,569.1 L549.0,567.6 L550.0,566.1 L551.0,565.8 L552.0,564.2 L553.0,563.4 L554.0,563.7 L555.0,562.5 L556.0,560.5 L557.0,558.5 L558.0,556.9 L559.0,554.8 L560.0,552.2 L561.0,549.7 L562.0,546.3 L563.0,541.0 L564.0,536.4 L565.0,532.8 L566.0,527.6 L567.0,521.9 L568.0,519.4 L569.0,507.5 L570.0,499.5 L571.0,491.3 L572.0,483.2 L573.0,474.2 L574.0,464.6 L575.0,454.3 L576.0,442.5 L577.0,430.6 L578.0,418.4 L579.0,406.5 L580.0,394.3 L581.0,380.3 L582.0,365.5 L583.0,351.4 L584.0,338.2 L585.0,324.8 L586.0,310.6 L587.0,295.8 L588.0,282.7 L589.0,269.7 L590.0,254.5 L591.0,241.0 L592.0,230.6 L593.0,219.7 L594.0,208.6 L595.0,198.1 L596.0,188.2 L597.0,180.3 L598.0,172.8 L599.0,165.8 L600.0,160.8 L601.0,157.2 L602.0,155.9 L603.0,156.7 L604.0,157.1 L605.0,158.2 L606.0,163.1 L607.0,170.1 L608.0,177.5 L609.0,186.1 L610.0,194.7 L611.0,204.7 L612.0,217.9 L613.0,231.4 L614.0,243.7 L615.0,255.8 L616.0,267.5 L617.0,281.3 L618.0,297.4 L619.0,312.6 L620.0,325.5 L621.0,339.9 L622.0,356.0 L623.0,369.9 L624.0,383.0 L625.0,396.6 L626.0,410.7 L627.0,424.6 L628.0,437.8 L629.0,448.9 L630.0,458.3 L631.0,469.4 L632.0,481.5 L633.0,493.0 L634.0,502.9 L635.0,510.6 L636.0,517.8 L637.0,525.4 L638.0,533.1 L639.0,540.2 L640.0,548.7 L641.0,550.2 L642.0,553.8 L643.0,558.2 L644.0,564.4 L645.0,569.5 L646.0,572.9 L647.0,576.3 L648.0,579.2 L649.0,581.6 L650.0,583.8 L651.0,585.0 L652.0,586.6 L653.0,588.4 L654.0,590.3 L655.0,592.4 L656.0,593.7 L657.0,594.3 L658.0,594.8 L659.0,595.1 L660.0,596.2 L661.0,597.6 L662.0,598.1 L663.0,598.9 L664.0,599.1 L665.0,599.7 L666.0,600.5 L667.0,599.6 L668.0,597.3 L669.0,599.6 L670.0,600.2 L671.0,600.7 L672.0,601.1 L673.0,601.0 L674.0,600.8 L675.0,601.1 L676.0,601.5 L677.0,600.9 L678.0,600.5 L679.0,601.1 L680.0,601.1 L681.0,601.5 L682.0,602.2 L683.0,601.4 L684.0,600.7 L685.0,600.8 L686.0,601.3 L687.0,602.1 L688.0,601.8 L689.0,601.0 L690.0,600.9 L691.0,602.1 L692.0,602.9 L693.0,601.6 L694.0,600.1 L695.0,600.4 L696.0,602.1 L697.0,603.1 L698.0,600.4 L699.0,603.1 L700.0,604.6 L701.0,603.9 L702.0,604.2 L703.0,604.7 L704.0,603.1 L705.0,601.8 L706.0,602.2 L707.0,601.7 L708.0,600.1 L709.0,600.4 L710.0,602.2 L711.0,603.6 L712.0,604.4 L713.0,603.9 L714.0,602.6 L715.0,602.2 L716.0,602.1 L717.0,602.3 L718.0,603.2 L719.0,603.1 L720.0,602.1 L721.0,601.6 L722.0,601.6 L723.0,602.4 L724.0,603.1 L725.0,603.4 L726.0,604.7 L727.0,604.9 L728.0,603.5 L729.0,602.9 L730.0,603.8 L731.0,604.9 L732.0,604.7 L733.0,604.5 L734.0,605.5 L735.0,606.1 L736.0,604.3 L737.0,602.5 L738.0,602.9 L739.0,603.8 L740.0,603.4 L741.0,604.1 L742.0,605.8 L743.0,604.7 L744.0,602.7 L745.0,601.8 L746.0,601.1 L747.0,601.5 L748.0,602.6 L749.0,602.8 L750.0,603.0 L751.0,603.8 L752.0,603.5 L753.0,601.9 L754.0,601.5 L755.0,602.9 L756.0,603.7 L757.0,602.9 L758.0,602.4 L759.0,602.4 L760.0,602.8 L761.0,604.1 L762.0,604.5 L763.0,603.7 L764.0,602.6 L765.0,603.2 L766.0,605.2 L767.0,605.3 L768.0,604.3 L769.0,605.0 L770.0,605.1 L771.0,603.4 L772.0,602.7 L773.0,603.4 L774.0,603.6 L775.0,603.3 L776.0,603.1 L777.0,605.4 L778.0,604.7 L779.0,605.1 L780.0,604.5 L781.0,604.2 L782.0,603.5 L783.0,603.8 L784.0,604.7 L785.0,604.5 L786.0,603.9 L787.0,603.6 L788.0,604.4 L789.0,604.2 L790.0,602.0 L791.0,600.4 L792.0,601.0 L793.0,602.9 L794.0,603.1 L795.0,602.6 L796.0,603.9 L797.0,605.0 L798.0,604.2 L799.0,604.0 L800.0,605.4 L801.0,606.7 L802.0,605.9 L803.0,604.5 L804.0,604.6 L805.0,604.5 L806.0,604.0" fill="none" stroke="#111" stroke-width="2.6" stroke-linejoin="round"/>
<path d="M127.0,604.7 L128.0,604.7 L129.0,604.7 L130.0,604.7 L131.0,604.7 L132.0,604.7 L133.0,604.7 L134.0,604.7 L135.0,604.7 L136.0,604.7 L137.0,604.7 L138.0,604.7 L139.0,604.7 L140.0,604.7 L141.0,604.7 L142.0,604.7 L143.0,604.7 L144.0,604.7 L145.0,604.7 L146.0,604.7 L147.0,604.7 L148.0,604.7 L149.0,604.7 L150.0,604.7 L151.0,604.7 L152.0,604.7 L153.0,604.7 L154.0,604.7 L155.0,604.7 L156.0,604.7 L157.0,604.7 L158.0,604.7 L159.0,604.7 L160.0,604.7 L161.0,604.7 L162.0,604.7 L163.0,604.7 L164.0,604.7 L165.0,604.7 L166.0,604.7 L167.0,604.7 L168.0,604.7 L169.0,604.7 L170.0,604.7 L171.0,604.7 L172.0,604.7 L173.0,604.7 L174.0,604.7 L175.0,604.7 L176.0,604.7 L177.0,604.7 L178.0,604.7 L179.0,604.7 L180.0,604.7 L181.0,604.7 L182.0,604.7 L183.0,604.7 L184.0,604.7 L185.0,604.7 L186.0,604.7 L187.0,604.7 L188.0,604.7 L189.0,604.7 L190.0,604.7 L191.0,604.7 L192.0,604.7 L193.0,604.7 L194.0,604.7 L195.0,604.7 L196.0,604.7 L197.0,604.7 L198.0,604.7 L199.0,604.7 L200.0,604.7 L201.0,604.7 L202.0,604.7 L203.0,604.7 L204.0,604.7 L205.0,604.7 L206.0,604.7 L207.0,604.7 L208.0,604.7 L209.0,604.7 L210.0,604.7 L211.0,604.7 L212.0,604.7 L213.0,604.7 L214.0,604.7 L215.0,604.7 L216.0,604.7 L217.0,604.7 L218.0,604.7 L219.0,604.7 L220.0,604.7 L221.0,604.7 L222.0,604.7 L223.0,604.7 L224.0,604.7 L225.0,604.7 L226.0,604.7 L227.0,604.7 L228.0,604.7 L229.0,604.7 L230.0,604.7 L231.0,604.7 L232.0,604.7 L233.0,604.7 L234.0,604.7 L235.0,604.7 L236.0,604.7 L237.0,604.7 L238.0,604.7 L239.0,604.7 L240.0,604.7 L241.0,604.7 L242.0,604.7 L243.0,604.7 L244.0,604.7 L245.0,604.7 L246.0,604.7 L247.0,604.7 L248.0,604.7 L249.0,604.7 L250.0,604.7 L251.0,604.7 L252.0,604.7 L253.0,604.7 L254.0,604.7 L255.0,604.7 L256.0,604.7 L257.0,604.7 L258.0,604.7 L259.0,604.7 L260.0,604.7 L261.0,604.7 L262.0,604.7 L263.0,604.7 L264.0,604.7 L265.0,604.7 L266.0,604.7 L267.0,604.7 L268.0,604.7 L269.0,604.7 L270.0,604.7 L271.0,604.7 L272.0,604.7 L273.0,604.7 L274.0,604.7 L275.0,604.7 L276.0,604.7 L277.0,604.7 L278.0,604.7 L279.0,604.7 L280.0,604.7 L281.0,604.7 L282.0,604.7 L283.0,604.7 L284.0,604.7 L285.0,604.7 L286.0,604.7 L287.0,604.7 L288.0,604.7 L289.0,604.7 L290.0,604.7 L291.0,604.7 L292.0,604.7 L293.0,604.7 L294.0,604.7 L295.0,604.7 L296.0,604.7 L297.0,604.7 L298.0,604.7 L299.0,604.7 L300.0,604.7 L301.0,604.7 L302.0,604.7 L303.0,604.7 L304.0,604.7 L305.0,604.7 L306.0,604.7 L307.0,604.7 L308.0,604.7 L309.0,604.7 L310.0,604.7 L311.0,604.7 L312.0,604.7 L313.0,604.7 L314.0,604.7 L315.0,604.7 L316.0,604.7 L317.0,604.7 L318.0,604.7 L319.0,604.7 L320.0,604.7 L321.0,604.7 L322.0,604.7 L323.0,604.7 L324.0,604.7 L325.0,604.7 L326.0,604.7 L327.0,604.7 L328.0,604.7 L329.0,604.7 L330.0,604.7 L331.0,604.7 L332.0,604.7 L333.0,604.7 L334.0,604.7 L335.0,604.7 L336.0,604.7 L337.0,604.7 L338.0,604.7 L339.0,604.7 L340.0,604.7 L341.0,604.7 L342.0,604.7 L343.0,604.7 L344.0,604.7 L345.0,604.7 L346.0,604.7 L347.0,604.7 L348.0,604.7 L349.0,604.7 L350.0,604.7 L351.0,604.7 L352.0,604.7 L353.0,604.7 L354.0,604.7 L355.0,604.7 L356.0,604.7 L357.0,604.7 L358.0,604.7 L359.0,604.7 L360.0,604.7 L361.0,604.7 L362.0,604.7 L363.0,604.7 L364.0,604.7 L365.0,604.7 L366.0,604.7 L367.0,604.7 L368.0,604.7 L369.0,604.7 L370.0,604.7 L371.0,604.7 L372.0,604.7 L373.0,604.7 L374.0,604.7 L375.0,604.7 L376.0,604.7 L377.0,604.7 L378.0,604.7 L379.0,604.7 L380.0,604.7 L381.0,604.7 L382.0,604.7 L383.0,604.7 L384.0,604.7 L385.0,604.7 L386.0,604.7 L387.0,604.7 L388.0,604.7 L389.0,604.7 L390.0,604.7 L391.0,604.7 L392.0,604.7 L393.0,604.7 L394.0,604.7 L395.0,604.7 L396.0,604.7 L397.0,604.7 L398.0,604.7 L399.0,604.7 L400.0,604.7 L401.0,604.7 L402.0,604.7 L403.0,604.7 L404.0,604.7 L405.0,604.7 L406.0,604.7 L407.0,604.7 L408.0,604.7 L409.0,604.7 L410.0,604.7 L411.0,604.7 L412.0,604.7 L413.0,604.7 L414.0,604.7 L415.0,604.7 L416.0,604.7 L417.0,604.7 L418.0,604.7 L419.0,604.7 L420.0,604.7 L421.0,604.7 L422.0,604.7 L423.0,604.7 L424.0,604.7 L425.0,604.7 L426.0,604.7 L427.0,604.7 L428.0,604.7 L429.0,604.7 L430.0,604.7 L431.0,604.7 L432.0,604.7 L433.0,604.7 L434.0,604.7 L435.0,604.7 L436.0,604.7 L437.0,604.7 L438.0,604.7 L439.0,604.7 L440.0,604.7 L441.0,604.7 L442.0,604.7 L443.0,604.7 L444.0,604.7 L445.0,604.7 L446.0,604.7 L447.0,604.7 L448.0,604.6 L449.0,604.6 L450.0,604.6 L451.0,604.6 L452.0,604.6 L453.0,604.6 L454.0,604.6 L455.0,604.6 L456.0,604.5 L457.0,604.5 L458.0,604.5 L459.0,604.5 L460.0,604.4 L461.0,604.4 L462.0,604.4 L463.0,604.3 L464.0,604.3 L465.0,604.2 L466.0,604.2 L467.0,604.1 L468.0,604.1 L469.0,604.0 L470.0,603.9 L471.0,603.8 L472.0,603.8 L473.0,603.7 L474.0,603.5 L475.0,603.4 L476.0,603.3 L477.0,603.2 L478.0,603.0 L479.0,602.9 L480.0,602.7 L481.0,602.5 L482.0,602.3 L483.0,602.1 L484.0,601.8 L485.0,601.6 L486.0,601.3 L487.0,601.1 L488.0,600.8 L489.0,600.4 L490.0,600.1 L491.0,599.7 L492.0,599.4 L493.0,599.0 L494.0,598.6 L495.0,598.1 L496.0,597.7 L497.0,597.2 L498.0,596.7 L499.0,596.2 L500.0,595.6 L501.0,595.0 L502.0,594.5 L503.0,593.9 L504.0,593.2 L505.0,592.6 L506.0,591.9 L507.0,591.2 L508.0,590.6 L509.0,589.8 L510.0,589.1 L511.0,588.4 L512.0,587.6 L513.0,586.9 L514.0,586.1 L515.0,585.4 L516.0,584.6 L517.0,583.8 L518.0,583.1 L519.0,582.3 L520.0,581.6 L521.0,580.8 L522.0,580.1 L523.0,579.3 L524.0,578.6 L525.0,577.9 L526.0,577.2 L527.0,576.6 L528.0,576.0 L529.0,575.3 L530.0,574.8 L531.0,574.2 L532.0,573.7 L533.0,573.2 L534.0,572.7 L535.0,572.2 L536.0,571.8 L537.0,571.4 L538.0,571.0 L539.0,570.7 L540.0,570.3 L541.0,570.0 L542.0,569.7 L543.0,569.4 L544.0,569.0 L545.0,568.7 L546.0,568.3 L547.0,567.9 L548.0,567.4 L549.0,566.9 L550.0,566.3 L551.0,565.6 L552.0,564.7 L553.0,563.8 L554.0,562.6 L555.0,561.3 L556.0,559.8 L557.0,558.0 L558.0,556.0 L559.0,553.7 L560.0,551.0 L561.0,548.0 L562.0,544.6 L563.0,540.8 L564.0,536.5 L565.0,531.8 L566.0,526.6 L567.0,520.8 L568.0,514.5 L569.0,507.6 L570.0,500.1 L571.0,492.1 L572.0,483.4 L573.0,474.1 L574.0,464.2 L575.0,453.7 L576.0,442.7 L577.0,431.0 L578.0,418.9 L579.0,406.2 L580.0,393.2 L581.0,379.7 L582.0,366.0 L583.0,352.0 L584.0,337.8 L585.0,323.5 L586.0,309.2 L587.0,295.1 L588.0,281.1 L589.0,267.4 L590.0,254.1 L591.0,241.3 L592.0,229.2 L593.0,217.7 L594.0,207.1 L595.0,197.3 L596.0,188.5 L597.0,180.8 L598.0,174.2 L599.0,168.9 L600.0,164.7 L601.0,161.9 L602.0,160.4 L603.0,160.2 L604.0,161.4 L605.0,164.0 L606.0,168.0 L607.0,173.3 L608.0,179.9 L609.0,187.7 L610.0,196.6 L611.0,206.5 L612.0,217.4 L613.0,229.0 L614.0,241.4 L615.0,254.5 L616.0,268.0 L617.0,281.9 L618.0,296.2 L619.0,310.6 L620.0,325.2 L621.0,339.7 L622.0,354.2 L623.0,368.6 L624.0,382.7 L625.0,396.5 L626.0,410.0 L627.0,423.1 L628.0,435.7 L629.0,447.9 L630.0,459.5 L631.0,470.6 L632.0,481.1 L633.0,491.1 L634.0,500.5 L635.0,509.3 L636.0,517.6 L637.0,525.3 L638.0,532.4 L639.0,539.0 L640.0,545.1 L641.0,550.7 L642.0,555.8 L643.0,560.5 L644.0,564.8 L645.0,568.7 L646.0,572.2 L647.0,575.3 L648.0,578.2 L649.0,580.7 L650.0,583.0 L651.0,585.1 L652.0,586.9 L653.0,588.5 L654.0,589.9 L655.0,591.2 L656.0,592.3 L657.0,593.3 L658.0,594.2 L659.0,595.0 L660.0,595.7 L661.0,596.3 L662.0,596.9 L663.0,597.3 L664.0,597.8 L665.0,598.1 L666.0,598.5 L667.0,598.8 L668.0,599.0 L669.0,599.3 L670.0,599.5 L671.0,599.7 L672.0,599.9 L673.0,600.0 L674.0,600.2 L675.0,600.3 L676.0,600.5 L677.0,600.6 L678.0,600.7 L679.0,600.8 L680.0,600.9 L681.0,601.0 L682.0,601.1 L683.0,601.2 L684.0,601.3 L685.0,601.4 L686.0,601.4 L687.0,601.5 L688.0,601.6 L689.0,601.7 L690.0,601.7 L691.0,601.8 L692.0,601.8 L693.0,601.9 L694.0,602.0 L695.0,602.0 L696.0,602.1 L697.0,602.1 L698.0,602.2 L699.0,602.2 L700.0,602.3 L701.0,602.3 L702.0,602.4 L703.0,602.4 L704.0,602.5 L705.0,602.5 L706.0,602.5 L707.0,602.6 L708.0,602.6 L709.0,602.7 L710.0,602.7 L711.0,602.7 L712.0,602.8 L713.0,602.8 L714.0,602.8 L715.0,602.9 L716.0,602.9 L717.0,602.9 L718.0,603.0 L719.0,603.0 L720.0,603.0 L721.0,603.0 L722.0,603.1 L723.0,603.1 L724.0,603.1 L725.0,603.1 L726.0,603.2 L727.0,603.2 L728.0,603.2 L729.0,603.2 L730.0,603.3 L731.0,603.3 L732.0,603.3 L733.0,603.3 L734.0,603.3 L735.0,603.4 L736.0,603.4 L737.0,603.4 L738.0,603.4 L739.0,603.4 L740.0,603.5 L741.0,603.5 L742.0,603.5 L743.0,603.5 L744.0,603.5 L745.0,603.5 L746.0,603.6 L747.0,603.6 L748.0,603.6 L749.0,603.6 L750.0,603.6 L751.0,603.6 L752.0,603.6 L753.0,603.7 L754.0,603.7 L755.0,603.7 L756.0,603.7 L757.0,603.7 L758.0,603.7 L759.0,603.7 L760.0,603.7 L761.0,603.8 L762.0,603.8 L763.0,603.8 L764.0,603.8 L765.0,603.8 L766.0,603.8 L767.0,603.8 L768.0,603.8 L769.0,603.8 L770.0,603.9 L771.0,603.9 L772.0,603.9 L773.0,603.9 L774.0,603.9 L775.0,603.9 L776.0,603.9 L777.0,603.9 L778.0,603.9 L779.0,603.9 L780.0,603.9 L781.0,604.0 L782.0,604.0 L783.0,604.0 L784.0,604.0 L785.0,604.0 L786.0,604.0 L787.0,604.0 L788.0,604.0 L789.0,604.0 L790.0,604.0 L791.0,604.0 L792.0,604.0 L793.0,604.0 L794.0,604.1 L795.0,604.1 L796.0,604.1 L797.0,604.1 L798.0,604.1 L799.0,604.1 L800.0,604.1 L801.0,604.1 L802.0,604.1 L803.0,604.1 L804.0,604.1 L805.0,604.1 L806.0,604.1" fill="none" stroke="#e0191e" stroke-width="4.2" stroke-linejoin="round"/>
<path d="M476.0,1338.5 L476.0,1335.4 L477.0,1334.9 L478.0,1334.3 L479.0,1333.7 L480.0,1333.0 L481.0,1332.2 L482.0,1331.3 L483.0,1330.2 L484.0,1329.1 L485.0,1327.8 L486.0,1326.4 L487.0,1324.8 L488.0,1323.1 L489.0,1321.2 L490.0,1319.0 L491.0,1316.7 L492.0,1314.1 L493.0,1311.3 L494.0,1308.2 L495.0,1304.8 L496.0,1301.1 L497.0,1297.2 L498.0,1292.9 L499.0,1288.2 L500.0,1283.2 L501.0,1277.9 L502.0,1272.2 L503.0,1266.1 L504.0,1259.6 L505.0,1252.7 L506.0,1245.4 L507.0,1237.7 L508.0,1229.6 L509.0,1221.1 L510.0,1212.2 L511.0,1203.0 L512.0,1193.4 L513.0,1183.4 L514.0,1173.1 L515.0,1162.5 L516.0,1151.6 L517.0,1140.5 L518.0,1129.2 L519.0,1117.7 L520.0,1106.1 L521.0,1094.4 L522.0,1082.7 L523.0,1070.9 L524.0,1059.3 L525.0,1047.8 L526.0,1036.4 L527.0,1025.3 L528.0,1014.5 L529.0,1004.0 L530.0,994.0 L531.0,984.4 L532.0,975.3 L533.0,966.8 L534.0,958.9 L535.0,951.7 L536.0,945.2 L537.0,939.4 L538.0,934.5 L539.0,930.4 L540.0,927.1 L541.0,924.7 L542.0,923.1 L543.0,922.5 L544.0,922.8 L545.0,924.0 L546.0,926.0 L547.0,928.9 L548.0,932.7 L549.0,937.4 L550.0,942.8 L551.0,949.0 L552.0,955.9 L553.0,963.5 L554.0,971.8 L555.0,980.7 L556.0,990.1 L557.0,999.9 L558.0,1010.3 L559.0,1020.9 L560.0,1031.9 L561.0,1043.2 L562.0,1054.7 L563.0,1066.3 L564.0,1078.0 L565.0,1089.7 L566.0,1101.4 L567.0,1113.1 L568.0,1124.6 L569.0,1136.0 L570.0,1147.2 L571.0,1158.2 L572.0,1168.9 L573.0,1179.3 L574.0,1189.4 L575.0,1199.2 L576.0,1208.6 L577.0,1217.6 L578.0,1226.2 L579.0,1234.5 L580.0,1242.4 L581.0,1249.8 L582.0,1256.9 L583.0,1263.5 L584.0,1269.8 L585.0,1275.6 L586.0,1281.1 L587.0,1286.3 L588.0,1291.0 L589.0,1295.5 L590.0,1299.6 L591.0,1303.4 L592.0,1306.8 L593.0,1310.1 L594.0,1313.0 L595.0,1315.7 L596.0,1318.1 L597.0,1320.3 L598.0,1322.3 L599.0,1324.2 L600.0,1325.8 L600.0,1338.5 Z" fill="#0048a8"/>
<path d="M515.0,1338.5 L515.0,1337.6 L516.0,1337.4 L517.0,1337.3 L518.0,1337.1 L519.0,1336.8 L520.0,1336.6 L521.0,1336.3 L522.0,1336.0 L523.0,1335.7 L524.0,1335.3 L525.0,1334.8 L526.0,1334.3 L527.0,1333.7 L528.0,1333.1 L529.0,1332.4 L530.0,1331.6 L531.0,1330.8 L532.0,1329.8 L533.0,1328.8 L534.0,1327.6 L535.0,1326.4 L536.0,1325.0 L537.0,1323.4 L538.0,1321.8 L539.0,1319.9 L540.0,1318.0 L541.0,1315.8 L542.0,1313.5 L543.0,1311.0 L544.0,1308.3 L545.0,1305.4 L546.0,1302.3 L547.0,1299.0 L548.0,1295.4 L549.0,1291.7 L550.0,1287.6 L551.0,1283.4 L552.0,1278.9 L553.0,1274.1 L554.0,1269.2 L555.0,1263.9 L556.0,1258.4 L557.0,1252.7 L558.0,1246.8 L559.0,1240.6 L560.0,1234.2 L561.0,1227.6 L562.0,1220.8 L563.0,1213.8 L564.0,1206.6 L565.0,1199.3 L566.0,1191.9 L567.0,1184.4 L568.0,1176.8 L569.0,1169.1 L570.0,1161.4 L571.0,1153.7 L572.0,1146.0 L573.0,1138.4 L574.0,1130.9 L575.0,1123.5 L576.0,1116.3 L577.0,1109.3 L578.0,1102.4 L579.0,1095.9 L580.0,1089.6 L581.0,1083.7 L582.0,1078.1 L583.0,1072.8 L584.0,1068.0 L585.0,1063.6 L586.0,1059.7 L587.0,1056.3 L588.0,1053.3 L589.0,1050.9 L590.0,1049.0 L591.0,1047.6 L592.0,1046.8 L593.0,1046.5 L594.0,1046.8 L595.0,1047.6 L596.0,1049.0 L597.0,1050.9 L598.0,1053.3 L599.0,1056.3 L600.0,1059.7 L601.0,1063.6 L602.0,1068.0 L603.0,1072.8 L604.0,1078.1 L605.0,1083.7 L606.0,1089.6 L607.0,1095.9 L608.0,1102.4 L609.0,1109.3 L610.0,1116.3 L611.0,1123.5 L612.0,1130.9 L613.0,1138.4 L614.0,1146.0 L615.0,1153.7 L616.0,1161.4 L617.0,1169.1 L618.0,1176.8 L619.0,1184.4 L620.0,1191.9 L621.0,1199.3 L622.0,1206.6 L623.0,1213.8 L624.0,1220.8 L625.0,1227.6 L626.0,1234.2 L627.0,1240.6 L628.0,1246.8 L629.0,1252.7 L630.0,1258.4 L631.0,1263.9 L632.0,1269.2 L633.0,1274.1 L634.0,1278.9 L635.0,1283.4 L636.0,1287.6 L637.0,1291.7 L638.0,1295.4 L639.0,1299.0 L640.0,1302.3 L641.0,1305.4 L642.0,1308.3 L643.0,1311.0 L644.0,1313.5 L645.0,1315.8 L646.0,1318.0 L647.0,1319.9 L648.0,1321.8 L649.0,1323.4 L650.0,1325.0 L651.0,1326.4 L652.0,1327.6 L653.0,1328.8 L654.0,1329.8 L655.0,1330.8 L656.0,1331.6 L657.0,1332.4 L658.0,1333.1 L659.0,1333.7 L660.0,1334.3 L660.0,1338.5 Z" fill="#ff5a1f"/>
<line x1="476" y1="1340.0" x2="594" y2="1340.0" stroke="#0048a8" stroke-width="2.5"/>
<path d="M122.0,1337.6 L123.0,1338.5 L124.0,1340.1 L125.0,1339.4 L126.0,1338.5 L127.0,1339.9 L128.0,1340.9 L129.0,1339.4 L130.0,1337.2 L131.0,1337.7 L132.0,1338.6 L133.0,1337.6 L134.0,1337.9 L135.0,1337.5 L136.0,1336.4 L137.0,1336.9 L138.0,1338.4 L139.0,1339.2 L140.0,1338.8 L141.0,1340.1 L142.0,1339.9 L143.0,1336.7 L144.0,1335.6 L145.0,1336.9 L146.0,1337.8 L147.0,1336.8 L148.0,1335.6 L149.0,1336.3 L150.0,1338.4 L151.0,1339.7 L152.0,1340.3 L153.0,1341.5 L154.0,1341.1 L155.0,1339.7 L156.0,1339.5 L157.0,1339.2 L158.0,1339.8 L159.0,1336.1 L160.0,1336.4 L161.0,1337.4 L162.0,1337.7 L163.0,1338.8 L164.0,1338.8 L165.0,1338.4 L166.0,1339.4 L167.0,1340.0 L168.0,1339.8 L169.0,1338.2 L170.0,1337.3 L171.0,1338.3 L172.0,1339.1 L173.0,1339.8 L174.0,1340.6 L175.0,1339.5 L176.0,1336.6 L177.0,1335.3 L178.0,1337.3 L179.0,1338.6 L180.0,1338.3 L181.0,1338.1 L182.0,1337.8 L183.0,1337.7 L184.0,1337.8 L185.0,1338.1 L186.0,1334.3 L187.0,1340.0 L188.0,1340.5 L189.0,1340.4 L190.0,1340.1 L191.0,1339.8 L192.0,1339.4 L193.0,1338.6 L194.0,1338.7 L195.0,1340.0 L196.0,1340.4 L197.0,1339.4 L198.0,1337.4 L199.0,1336.1 L200.0,1337.0 L201.0,1337.7 L202.0,1338.0 L203.0,1338.5 L204.0,1338.1 L205.0,1339.7 L206.0,1340.2 L207.0,1336.6 L208.0,1336.2 L209.0,1338.7 L210.0,1338.9 L211.0,1338.6 L212.0,1339.2 L213.0,1340.2 L214.0,1339.6 L215.0,1338.3 L216.0,1337.5 L217.0,1337.2 L218.0,1336.7 L219.0,1336.6 L220.0,1337.9 L221.0,1339.5 L222.0,1340.8 L223.0,1340.0 L224.0,1338.3 L225.0,1338.5 L226.0,1338.5 L227.0,1338.8 L228.0,1339.7 L229.0,1339.6 L230.0,1339.4 L231.0,1338.8 L232.0,1337.7 L233.0,1337.8 L234.0,1339.2 L235.0,1339.5 L236.0,1338.7 L237.0,1338.0 L238.0,1336.3 L239.0,1335.1 L240.0,1336.5 L241.0,1338.2 L242.0,1339.1 L243.0,1339.8 L244.0,1340.2 L245.0,1340.1 L246.0,1339.6 L247.0,1338.7 L248.0,1338.2 L249.0,1338.6 L250.0,1339.5 L251.0,1339.0 L252.0,1337.3 L253.0,1336.4 L254.0,1336.2 L255.0,1336.2 L256.0,1336.8 L257.0,1337.7 L258.0,1336.7 L259.0,1336.2 L260.0,1337.8 L261.0,1337.2 L262.0,1336.1 L263.0,1336.9 L264.0,1337.0 L265.0,1337.2 L266.0,1338.3 L267.0,1338.8 L268.0,1337.5 L269.0,1339.9 L270.0,1339.5 L271.0,1338.9 L272.0,1338.2 L273.0,1338.7 L274.0,1338.7 L275.0,1336.7 L276.0,1336.1 L277.0,1337.4 L278.0,1338.5 L279.0,1338.5 L280.0,1337.8 L281.0,1338.7 L282.0,1339.6 L283.0,1337.2 L284.0,1336.2 L285.0,1338.4 L286.0,1338.3 L287.0,1337.7 L288.0,1337.8 L289.0,1337.8 L290.0,1338.9 L291.0,1338.2 L292.0,1337.1 L293.0,1338.2 L294.0,1338.9 L295.0,1338.8 L296.0,1338.1 L297.0,1337.6 L298.0,1336.7 L299.0,1338.7 L300.0,1339.0 L301.0,1338.5 L302.0,1339.5 L303.0,1341.1 L304.0,1340.3 L305.0,1339.8 L306.0,1338.7 L307.0,1337.8 L308.0,1339.4 L309.0,1339.4 L310.0,1337.6 L311.0,1336.9 L312.0,1336.8 L313.0,1337.9 L314.0,1339.2 L315.0,1338.4 L316.0,1336.9 L317.0,1337.0 L318.0,1338.0 L319.0,1338.5 L320.0,1338.9 L321.0,1338.2 L322.0,1336.9 L323.0,1338.1 L324.0,1339.8 L325.0,1339.2 L326.0,1337.7 L327.0,1337.6 L328.0,1338.6 L329.0,1339.2 L330.0,1339.6 L331.0,1340.8 L332.0,1340.2 L333.0,1337.5 L334.0,1338.4 L335.0,1337.8 L336.0,1336.8 L337.0,1337.3 L338.0,1337.1 L339.0,1336.1 L340.0,1337.0 L341.0,1338.2 L342.0,1337.8 L343.0,1335.0 L344.0,1339.1 L345.0,1338.9 L346.0,1339.6 L347.0,1340.6 L348.0,1339.8 L349.0,1339.1 L350.0,1339.9 L351.0,1340.5 L352.0,1339.7 L353.0,1338.7 L354.0,1339.0 L355.0,1339.3 L356.0,1339.0 L357.0,1339.5 L358.0,1338.7 L359.0,1337.7 L360.0,1338.8 L361.0,1338.8 L362.0,1337.9 L363.0,1338.5 L364.0,1338.9 L365.0,1337.9 L366.0,1338.4 L367.0,1340.5 L368.0,1340.9 L369.0,1340.4 L370.0,1340.5 L371.0,1340.3 L372.0,1339.6 L373.0,1339.0 L374.0,1339.2 L375.0,1338.6 L376.0,1338.4 L377.0,1339.0 L378.0,1337.9 L379.0,1336.7 L380.0,1337.7 L381.0,1339.0 L382.0,1339.3 L383.0,1339.3 L384.0,1338.3 L385.0,1336.4 L386.0,1339.0 L387.0,1338.6 L388.0,1337.8 L389.0,1338.4 L390.0,1339.1 L391.0,1339.8 L392.0,1340.0 L393.0,1338.4 L394.0,1336.9 L395.0,1338.1 L396.0,1339.5 L397.0,1339.4 L398.0,1338.6 L399.0,1337.9 L400.0,1337.0 L401.0,1336.4 L402.0,1336.6 L403.0,1334.7 L404.0,1337.3 L405.0,1338.5 L406.0,1339.6 L407.0,1339.3 L408.0,1338.7 L409.0,1339.8 L410.0,1340.2 L411.0,1338.9 L412.0,1338.7 L413.0,1339.2 L414.0,1339.1 L415.0,1338.6 L416.0,1338.8 L417.0,1340.0 L418.0,1339.9 L419.0,1338.6 L420.0,1341.9 L421.0,1339.1 L422.0,1339.6 L423.0,1339.6 L424.0,1338.4 L425.0,1337.9 L426.0,1338.2 L427.0,1337.2 L428.0,1337.2 L429.0,1338.2 L430.0,1338.7 L431.0,1340.3 L432.0,1341.5 L433.0,1340.7 L434.0,1339.7 L435.0,1339.2 L436.0,1339.1 L437.0,1339.7 L438.0,1338.7 L439.0,1339.7 L440.0,1339.9 L441.0,1340.0 L442.0,1339.7 L443.0,1340.4 L444.0,1340.8 L445.0,1340.1 L446.0,1338.7 L447.0,1337.7 L448.0,1338.1 L449.0,1339.5 L450.0,1340.1 L451.0,1339.5 L452.0,1339.4 L453.0,1339.6 L454.0,1338.4 L455.0,1338.7 L456.0,1339.2 L457.0,1337.9 L458.0,1330.5 L459.0,1337.0 L460.0,1337.0 L461.0,1337.0 L462.0,1336.3 L463.0,1336.4 L464.0,1336.8 L465.0,1336.5 L466.0,1336.9 L467.0,1338.0 L468.0,1338.5 L469.0,1337.7 L470.0,1337.2 L471.0,1337.6 L472.0,1336.6 L473.0,1335.7 L474.0,1336.7 L475.0,1337.7 L476.0,1336.1 L477.0,1334.6 L478.0,1334.6 L479.0,1335.0 L480.0,1334.8 L481.0,1332.9 L482.0,1331.0 L483.0,1330.5 L484.0,1329.9 L485.0,1328.0 L486.0,1325.7 L487.0,1324.4 L488.0,1323.6 L489.0,1320.8 L490.0,1317.2 L491.0,1316.3 L492.0,1314.8 L493.0,1311.8 L494.0,1308.2 L495.0,1302.7 L496.0,1298.6 L497.0,1297.1 L498.0,1293.5 L499.0,1286.5 L500.0,1280.2 L501.0,1274.9 L502.0,1269.9 L503.0,1265.1 L504.0,1259.4 L505.0,1253.2 L506.0,1245.2 L507.0,1235.9 L508.0,1226.7 L509.0,1217.1 L510.0,1209.1 L511.0,1200.7 L512.0,1189.4 L513.0,1178.3 L514.0,1169.4 L515.0,1160.1 L516.0,1147.8 L517.0,1135.7 L518.0,1125.6 L519.0,1114.2 L520.0,1101.2 L521.0,1089.9 L522.0,1079.2 L523.0,1067.4 L524.0,1055.0 L525.0,1042.6 L526.0,1030.2 L527.0,1018.2 L528.0,1008.2 L529.0,1000.5 L530.0,987.7 L531.0,977.3 L532.0,967.9 L533.0,959.7 L534.0,952.5 L535.0,945.4 L536.0,938.1 L537.0,933.9 L538.0,929.3 L539.0,923.2 L540.0,920.0 L541.0,918.9 L542.0,918.0 L543.0,917.5 L544.0,917.1 L545.0,916.6 L546.0,917.9 L547.0,919.8 L548.0,920.6 L549.0,923.0 L550.0,925.6 L551.0,927.8 L552.0,934.1 L553.0,941.8 L554.0,948.8 L555.0,957.2 L556.0,965.6 L557.0,970.5 L558.0,981.2 L559.0,988.9 L560.0,995.9 L561.0,1002.2 L562.0,1008.1 L563.0,1014.4 L564.0,1019.7 L565.0,1024.0 L566.0,1029.8 L567.0,1033.6 L568.0,1035.0 L569.0,1038.3 L570.0,1038.5 L571.0,1042.8 L572.0,1043.7 L573.0,1042.7 L574.0,1041.9 L575.0,1042.2 L576.0,1040.8 L577.0,1038.0 L578.0,1036.2 L579.0,1034.8 L580.0,1033.1 L581.0,1032.0 L582.0,1029.7 L583.0,1027.0 L584.0,1025.1 L585.0,1024.2 L586.0,1024.0 L587.0,1023.0 L588.0,1022.8 L589.0,1022.0 L590.0,1025.2 L591.0,1026.0 L592.0,1026.8 L593.0,1028.5 L594.0,1029.1 L595.0,1029.0 L596.0,1029.5 L597.0,1031.3 L598.0,1034.6 L599.0,1036.9 L600.0,1037.6 L601.0,1039.2 L602.0,1042.6 L603.0,1047.3 L604.0,1052.5 L605.0,1058.9 L606.0,1071.2 L607.0,1074.0 L608.0,1081.7 L609.0,1090.6 L610.0,1099.9 L611.0,1109.2 L612.0,1117.8 L613.0,1125.7 L614.0,1134.3 L615.0,1143.2 L616.0,1152.2 L617.0,1160.2 L618.0,1167.6 L619.0,1177.4 L620.0,1187.2 L621.0,1194.9 L622.0,1200.8 L623.0,1206.8 L624.0,1214.5 L625.0,1222.9 L626.0,1230.7 L627.0,1236.8 L628.0,1241.8 L629.0,1248.0 L630.0,1255.2 L631.0,1261.0 L632.0,1266.7 L633.0,1272.8 L634.0,1277.5 L635.0,1282.9 L636.0,1288.0 L637.0,1290.4 L638.0,1293.4 L639.0,1298.5 L640.0,1301.9 L641.0,1303.4 L642.0,1305.9 L643.0,1308.3 L644.0,1311.1 L645.0,1314.5 L646.0,1316.8 L647.0,1319.1 L648.0,1321.4 L649.0,1323.0 L650.0,1323.9 L651.0,1324.8 L652.0,1326.6 L653.0,1328.6 L654.0,1329.6 L655.0,1330.7 L656.0,1332.3 L657.0,1333.1 L658.0,1333.4 L659.0,1334.1 L660.0,1334.7 L661.0,1334.3 L662.0,1332.8 L663.0,1333.1 L664.0,1334.8 L665.0,1335.0 L666.0,1334.3 L667.0,1335.4 L668.0,1336.7 L669.0,1336.8 L670.0,1336.2 L671.0,1336.0 L672.0,1336.0 L673.0,1336.2 L674.0,1337.3 L675.0,1338.2 L676.0,1337.8 L677.0,1337.0 L678.0,1337.6 L679.0,1338.0 L680.0,1336.8 L681.0,1337.2 L682.0,1338.9 L683.0,1339.8 L684.0,1339.8 L685.0,1339.0 L686.0,1338.6 L687.0,1339.1 L688.0,1339.4 L689.0,1339.5 L690.0,1339.1 L691.0,1337.6 L692.0,1337.7 L693.0,1339.6 L694.0,1339.7 L695.0,1338.7 L696.0,1338.7 L697.0,1337.7 L698.0,1339.6 L699.0,1339.2 L700.0,1338.3 L701.0,1338.1 L702.0,1338.4 L703.0,1338.3 L704.0,1342.8 L705.0,1339.8 L706.0,1338.5 L707.0,1338.0 L708.0,1338.0 L709.0,1337.1 L710.0,1337.4 L711.0,1341.8 L712.0,1339.0 L713.0,1336.7 L714.0,1335.1 L715.0,1339.1 L716.0,1340.3 L717.0,1339.9 L718.0,1340.0 L719.0,1340.2 L720.0,1339.8 L721.0,1340.3 L722.0,1339.8 L723.0,1338.5 L724.0,1339.6 L725.0,1338.6 L726.0,1337.5 L727.0,1337.6 L728.0,1338.4 L729.0,1339.0 L730.0,1338.4 L731.0,1336.9 L732.0,1337.6 L733.0,1339.2 L734.0,1336.3 L735.0,1337.6 L736.0,1336.8 L737.0,1335.9 L738.0,1336.6 L739.0,1338.4 L740.0,1339.4 L741.0,1339.6 L742.0,1338.8 L743.0,1337.0 L744.0,1335.8 L745.0,1338.1 L746.0,1340.8 L747.0,1340.1 L748.0,1339.3 L749.0,1340.1 L750.0,1340.1 L751.0,1339.1 L752.0,1338.4 L753.0,1338.9 L754.0,1339.0 L755.0,1338.4 L756.0,1338.9 L757.0,1339.9 L758.0,1340.4 L759.0,1339.6 L760.0,1339.0 L761.0,1339.8 L762.0,1339.0 L763.0,1338.0 L764.0,1338.4 L765.0,1339.0 L766.0,1338.8 L767.0,1337.3 L768.0,1336.7 L769.0,1338.6 L770.0,1340.6 L771.0,1339.9 L772.0,1338.1" fill="none" stroke="#111" stroke-width="2.6" stroke-linejoin="round"/>
<path d="M122.0,1338.5 L123.0,1338.5 L124.0,1338.5 L125.0,1338.5 L126.0,1338.5 L127.0,1338.5 L128.0,1338.5 L129.0,1338.5 L130.0,1338.5 L131.0,1338.5 L132.0,1338.5 L133.0,1338.5 L134.0,1338.5 L135.0,1338.5 L136.0,1338.5 L137.0,1338.5 L138.0,1338.5 L139.0,1338.5 L140.0,1338.5 L141.0,1338.5 L142.0,1338.5 L143.0,1338.5 L144.0,1338.5 L145.0,1338.5 L146.0,1338.5 L147.0,1338.5 L148.0,1338.5 L149.0,1338.5 L150.0,1338.5 L151.0,1338.5 L152.0,1338.5 L153.0,1338.5 L154.0,1338.5 L155.0,1338.5 L156.0,1338.5 L157.0,1338.5 L158.0,1338.5 L159.0,1338.5 L160.0,1338.5 L161.0,1338.5 L162.0,1338.5 L163.0,1338.5 L164.0,1338.5 L165.0,1338.5 L166.0,1338.5 L167.0,1338.5 L168.0,1338.5 L169.0,1338.5 L170.0,1338.5 L171.0,1338.5 L172.0,1338.5 L173.0,1338.5 L174.0,1338.5 L175.0,1338.5 L176.0,1338.5 L177.0,1338.5 L178.0,1338.5 L179.0,1338.5 L180.0,1338.5 L181.0,1338.5 L182.0,1338.5 L183.0,1338.5 L184.0,1338.5 L185.0,1338.5 L186.0,1338.5 L187.0,1338.5 L188.0,1338.5 L189.0,1338.5 L190.0,1338.5 L191.0,1338.5 L192.0,1338.5 L193.0,1338.5 L194.0,1338.5 L195.0,1338.5 L196.0,1338.5 L197.0,1338.5 L198.0,1338.5 L199.0,1338.5 L200.0,1338.5 L201.0,1338.5 L202.0,1338.5 L203.0,1338.5 L204.0,1338.5 L205.0,1338.5 L206.0,1338.5 L207.0,1338.5 L208.0,1338.5 L209.0,1338.5 L210.0,1338.5 L211.0,1338.5 L212.0,1338.5 L213.0,1338.5 L214.0,1338.5 L215.0,1338.5 L216.0,1338.5 L217.0,1338.5 L218.0,1338.5 L219.0,1338.5 L220.0,1338.5 L221.0,1338.5 L222.0,1338.5 L223.0,1338.5 L224.0,1338.5 L225.0,1338.5 L226.0,1338.5 L227.0,1338.5 L228.0,1338.5 L229.0,1338.5 L230.0,1338.5 L231.0,1338.5 L232.0,1338.5 L233.0,1338.5 L234.0,1338.5 L235.0,1338.5 L236.0,1338.5 L237.0,1338.5 L238.0,1338.5 L239.0,1338.5 L240.0,1338.5 L241.0,1338.5 L242.0,1338.5 L243.0,1338.5 L244.0,1338.5 L245.0,1338.5 L246.0,1338.5 L247.0,1338.5 L248.0,1338.5 L249.0,1338.5 L250.0,1338.5 L251.0,1338.5 L252.0,1338.5 L253.0,1338.5 L254.0,1338.5 L255.0,1338.5 L256.0,1338.5 L257.0,1338.5 L258.0,1338.5 L259.0,1338.5 L260.0,1338.5 L261.0,1338.5 L262.0,1338.5 L263.0,1338.5 L264.0,1338.5 L265.0,1338.5 L266.0,1338.5 L267.0,1338.5 L268.0,1338.5 L269.0,1338.5 L270.0,1338.5 L271.0,1338.5 L272.0,1338.5 L273.0,1338.5 L274.0,1338.5 L275.0,1338.5 L276.0,1338.5 L277.0,1338.5 L278.0,1338.5 L279.0,1338.5 L280.0,1338.5 L281.0,1338.5 L282.0,1338.5 L283.0,1338.5 L284.0,1338.5 L285.0,1338.5 L286.0,1338.5 L287.0,1338.5 L288.0,1338.5 L289.0,1338.5 L290.0,1338.5 L291.0,1338.5 L292.0,1338.5 L293.0,1338.5 L294.0,1338.5 L295.0,1338.5 L296.0,1338.5 L297.0,1338.5 L298.0,1338.5 L299.0,1338.5 L300.0,1338.5 L301.0,1338.5 L302.0,1338.5 L303.0,1338.5 L304.0,1338.5 L305.0,1338.5 L306.0,1338.5 L307.0,1338.5 L308.0,1338.5 L309.0,1338.5 L310.0,1338.5 L311.0,1338.5 L312.0,1338.5 L313.0,1338.5 L314.0,1338.5 L315.0,1338.5 L316.0,1338.5 L317.0,1338.5 L318.0,1338.5 L319.0,1338.5 L320.0,1338.5 L321.0,1338.5 L322.0,1338.5 L323.0,1338.5 L324.0,1338.5 L325.0,1338.5 L326.0,1338.5 L327.0,1338.5 L328.0,1338.5 L329.0,1338.5 L330.0,1338.5 L331.0,1338.5 L332.0,1338.5 L333.0,1338.5 L334.0,1338.5 L335.0,1338.5 L336.0,1338.5 L337.0,1338.5 L338.0,1338.5 L339.0,1338.5 L340.0,1338.5 L341.0,1338.5 L342.0,1338.5 L343.0,1338.5 L344.0,1338.5 L345.0,1338.5 L346.0,1338.5 L347.0,1338.5 L348.0,1338.5 L349.0,1338.5 L350.0,1338.5 L351.0,1338.5 L352.0,1338.5 L353.0,1338.5 L354.0,1338.5 L355.0,1338.5 L356.0,1338.5 L357.0,1338.5 L358.0,1338.5 L359.0,1338.5 L360.0,1338.5 L361.0,1338.5 L362.0,1338.5 L363.0,1338.5 L364.0,1338.5 L365.0,1338.5 L366.0,1338.5 L367.0,1338.5 L368.0,1338.5 L369.0,1338.5 L370.0,1338.5 L371.0,1338.5 L372.0,1338.5 L373.0,1338.5 L374.0,1338.5 L375.0,1338.5 L376.0,1338.5 L377.0,1338.5 L378.0,1338.5 L379.0,1338.5 L380.0,1338.5 L381.0,1338.5 L382.0,1338.5 L383.0,1338.5 L384.0,1338.5 L385.0,1338.5 L386.0,1338.5 L387.0,1338.5 L388.0,1338.5 L389.0,1338.5 L390.0,1338.5 L391.0,1338.5 L392.0,1338.5 L393.0,1338.5 L394.0,1338.5 L395.0,1338.5 L396.0,1338.5 L397.0,1338.5 L398.0,1338.5 L399.0,1338.5 L400.0,1338.5 L401.0,1338.5 L402.0,1338.5 L403.0,1338.5 L404.0,1338.5 L405.0,1338.5 L406.0,1338.5 L407.0,1338.5 L408.0,1338.5 L409.0,1338.5 L410.0,1338.5 L411.0,1338.5 L412.0,1338.5 L413.0,1338.5 L414.0,1338.5 L415.0,1338.5 L416.0,1338.5 L417.0,1338.5 L418.0,1338.5 L419.0,1338.5 L420.0,1338.5 L421.0,1338.5 L422.0,1338.5 L423.0,1338.5 L424.0,1338.5 L425.0,1338.5 L426.0,1338.5 L427.0,1338.5 L428.0,1338.5 L429.0,1338.5 L430.0,1338.5 L431.0,1338.5 L432.0,1338.5 L433.0,1338.5 L434.0,1338.5 L435.0,1338.5 L436.0,1338.5 L437.0,1338.5 L438.0,1338.5 L439.0,1338.5 L440.0,1338.5 L441.0,1338.5 L442.0,1338.5 L443.0,1338.5 L444.0,1338.5 L445.0,1338.5 L446.0,1338.5 L447.0,1338.5 L448.0,1338.5 L449.0,1338.5 L450.0,1338.5 L451.0,1338.5 L452.0,1338.4 L453.0,1338.4 L454.0,1338.4 L455.0,1338.4 L456.0,1338.4 L457.0,1338.4 L458.0,1338.3 L459.0,1338.3 L460.0,1338.3 L461.0,1338.2 L462.0,1338.2 L463.0,1338.1 L464.0,1338.0 L465.0,1337.9 L466.0,1337.8 L467.0,1337.7 L468.0,1337.6 L469.0,1337.4 L470.0,1337.2 L471.0,1337.0 L472.0,1336.7 L473.0,1336.4 L474.0,1336.1 L475.0,1335.7 L476.0,1335.3 L477.0,1334.8 L478.0,1334.2 L479.0,1333.6 L480.0,1332.9 L481.0,1332.1 L482.0,1331.1 L483.0,1330.1 L484.0,1328.9 L485.0,1327.6 L486.0,1326.2 L487.0,1324.6 L488.0,1322.8 L489.0,1320.8 L490.0,1318.7 L491.0,1316.3 L492.0,1313.6 L493.0,1310.8 L494.0,1307.6 L495.0,1304.2 L496.0,1300.5 L497.0,1296.4 L498.0,1292.0 L499.0,1287.3 L500.0,1282.2 L501.0,1276.8 L502.0,1271.0 L503.0,1264.8 L504.0,1258.1 L505.0,1251.1 L506.0,1243.7 L507.0,1235.9 L508.0,1227.6 L509.0,1219.0 L510.0,1210.0 L511.0,1200.5 L512.0,1190.7 L513.0,1180.6 L514.0,1170.1 L515.0,1159.3 L516.0,1148.3 L517.0,1137.0 L518.0,1125.4 L519.0,1113.7 L520.0,1101.9 L521.0,1090.0 L522.0,1078.1 L523.0,1066.1 L524.0,1054.3 L525.0,1042.5 L526.0,1031.0 L527.0,1019.7 L528.0,1008.7 L529.0,998.0 L530.0,987.8 L531.0,978.6 L532.0,969.2 L533.0,960.2 L534.0,952.1 L535.0,944.7 L536.0,938.0 L537.0,932.3 L538.0,927.2 L539.0,922.8 L540.0,919.7 L541.0,917.6 L542.0,915.9 L543.0,915.0 L544.0,915.2 L545.0,915.9 L546.0,917.0 L547.0,918.1 L548.0,919.7 L549.0,921.8 L550.0,924.4 L551.0,927.9 L552.0,933.7 L553.0,941.2 L554.0,949.4 L555.0,957.4 L556.0,965.5 L557.0,974.2 L558.0,982.4 L559.0,989.6 L560.0,996.2 L561.0,1002.5 L562.0,1008.4 L563.0,1014.1 L564.0,1019.9 L565.0,1025.8 L566.0,1031.0 L567.0,1034.9 L568.0,1037.3 L569.0,1039.4 L570.0,1041.1 L571.0,1042.5 L572.0,1043.5 L573.0,1043.8 L574.0,1043.3 L575.0,1041.9 L576.0,1040.0 L577.0,1037.9 L578.0,1035.9 L579.0,1034.1 L580.0,1032.2 L581.0,1030.2 L582.0,1028.1 L583.0,1026.3 L584.0,1024.8 L585.0,1023.8 L586.0,1023.3 L587.0,1022.9 L588.0,1022.6 L589.0,1022.5 L590.0,1023.0 L591.0,1024.4 L592.0,1026.1 L593.0,1027.8 L594.0,1029.2 L595.0,1030.5 L596.0,1031.8 L597.0,1033.1 L598.0,1034.5 L599.0,1036.2 L600.0,1038.2 L601.0,1040.5 L602.0,1043.8 L603.0,1048.4 L604.0,1054.1 L605.0,1060.6 L606.0,1067.6 L607.0,1075.0 L608.0,1082.4 L609.0,1091.1 L610.0,1100.7 L611.0,1110.0 L612.0,1118.6 L613.0,1127.1 L614.0,1135.5 L615.0,1144.0 L616.0,1152.5 L617.0,1160.9 L618.0,1169.2 L619.0,1177.4 L620.0,1185.5 L621.0,1193.5 L622.0,1201.2 L623.0,1208.8 L624.0,1216.2 L625.0,1223.4 L626.0,1230.3 L627.0,1237.0 L628.0,1243.5 L629.0,1249.7 L630.0,1255.7 L631.0,1261.4 L632.0,1266.8 L633.0,1272.0 L634.0,1276.9 L635.0,1281.6 L636.0,1286.0 L637.0,1290.1 L638.0,1294.0 L639.0,1297.7 L640.0,1301.1 L641.0,1304.3 L642.0,1307.3 L643.0,1310.1 L644.0,1312.7 L645.0,1315.0 L646.0,1317.2 L647.0,1319.3 L648.0,1321.1 L649.0,1322.9 L650.0,1324.4 L651.0,1325.9 L652.0,1327.2 L653.0,1328.4 L654.0,1329.5 L655.0,1330.4 L656.0,1331.3 L657.0,1332.1 L658.0,1332.8 L659.0,1333.5 L660.0,1334.1 L661.0,1334.6 L662.0,1335.1 L663.0,1335.5 L664.0,1335.8 L665.0,1336.2 L666.0,1336.5 L667.0,1336.7 L668.0,1336.9 L669.0,1337.1 L670.0,1337.3 L671.0,1337.5 L672.0,1337.6 L673.0,1337.7 L674.0,1337.8 L675.0,1337.9 L676.0,1338.0 L677.0,1338.1 L678.0,1338.1 L679.0,1338.2 L680.0,1338.2 L681.0,1338.3 L682.0,1338.3 L683.0,1338.3 L684.0,1338.4 L685.0,1338.4 L686.0,1338.4 L687.0,1338.4 L688.0,1338.4 L689.0,1338.4 L690.0,1338.4 L691.0,1338.4 L692.0,1338.5 L693.0,1338.5 L694.0,1338.5 L695.0,1338.5 L696.0,1338.5 L697.0,1338.5 L698.0,1338.5 L699.0,1338.5 L700.0,1338.5 L701.0,1338.5 L702.0,1338.5 L703.0,1338.5 L704.0,1338.5 L705.0,1338.5 L706.0,1338.5 L707.0,1338.5 L708.0,1338.5 L709.0,1338.5 L710.0,1338.5 L711.0,1338.5 L712.0,1338.5 L713.0,1338.5 L714.0,1338.5 L715.0,1338.5 L716.0,1338.5 L717.0,1338.5 L718.0,1338.5 L719.0,1338.5 L720.0,1338.5 L721.0,1338.5 L722.0,1338.5 L723.0,1338.5 L724.0,1338.5 L725.0,1338.5 L726.0,1338.5 L727.0,1338.5 L728.0,1338.5 L729.0,1338.5 L730.0,1338.5 L731.0,1338.5 L732.0,1338.5 L733.0,1338.5 L734.0,1338.5 L735.0,1338.5 L736.0,1338.5 L737.0,1338.5 L738.0,1338.5 L739.0,1338.5 L740.0,1338.5 L741.0,1338.5 L742.0,1338.5 L743.0,1338.5 L744.0,1338.5 L745.0,1338.5 L746.0,1338.5 L747.0,1338.5 L748.0,1338.5 L749.0,1338.5 L750.0,1338.5 L751.0,1338.5 L752.0,1338.5 L753.0,1338.5 L754.0,1338.5 L755.0,1338.5 L756.0,1338.5 L757.0,1338.5 L758.0,1338.5 L759.0,1338.5 L760.0,1338.5 L761.0,1338.5 L762.0,1338.5 L763.0,1338.5 L764.0,1338.5 L765.0,1338.5 L766.0,1338.5 L767.0,1338.5 L768.0,1338.5 L769.0,1338.5 L770.0,1338.5 L771.0,1338.5 L772.0,1338.5" fill="none" stroke="#e0191e" stroke-width="4.2" stroke-linejoin="round"/>
<path d="M500.0,2088.0 L500.0,2070.1 L501.0,2068.9 L502.0,2067.7 L503.0,2066.3 L504.0,2064.9 L505.0,2063.5 L506.0,2061.9 L507.0,2060.3 L508.0,2058.6 L509.0,2056.8 L510.0,2054.9 L511.0,2052.9 L512.0,2050.9 L513.0,2048.7 L514.0,2046.5 L515.0,2044.1 L516.0,2041.7 L517.0,2039.1 L518.0,2036.4 L519.0,2033.7 L520.0,2030.8 L521.0,2027.8 L522.0,2024.7 L523.0,2021.5 L524.0,2018.2 L525.0,2014.7 L526.0,2011.2 L527.0,2007.5 L528.0,2003.7 L529.0,1999.8 L530.0,1995.7 L531.0,1991.6 L532.0,1987.3 L533.0,1983.0 L534.0,1978.5 L535.0,1973.9 L536.0,1969.1 L537.0,1964.3 L538.0,1959.4 L539.0,1954.3 L540.0,1949.2 L541.0,1944.0 L542.0,1938.6 L543.0,1933.2 L544.0,1927.7 L545.0,1922.1 L546.0,1916.4 L547.0,1910.7 L548.0,1904.9 L549.0,1899.0 L550.0,1893.1 L551.0,1887.1 L552.0,1881.1 L553.0,1875.1 L554.0,1869.1 L555.0,1863.0 L556.0,1856.9 L557.0,1850.8 L558.0,1844.8 L559.0,1838.7 L560.0,1832.7 L561.0,1826.7 L562.0,1820.7 L563.0,1814.8 L564.0,1809.0 L565.0,1803.3 L566.0,1797.6 L567.0,1792.0 L568.0,1786.5 L569.0,1781.1 L570.0,1775.9 L571.0,1770.8 L572.0,1765.8 L573.0,1761.0 L574.0,1756.3 L575.0,1751.8 L576.0,1747.4 L577.0,1743.3 L578.0,1739.3 L579.0,1735.6 L580.0,1732.0 L581.0,1728.7 L582.0,1725.5 L583.0,1722.6 L584.0,1720.0 L585.0,1717.5 L586.0,1715.4 L587.0,1713.4 L588.0,1711.7 L589.0,1710.3 L590.0,1709.1 L591.0,1708.2 L592.0,1707.5 L593.0,1707.1 L594.0,1707.0 L595.0,1707.1 L596.0,1707.5 L597.0,1708.2 L598.0,1709.1 L599.0,1710.3 L600.0,1711.7 L601.0,1713.4 L602.0,1715.4 L603.0,1717.5 L604.0,1720.0 L605.0,1722.6 L606.0,1725.5 L607.0,1728.7 L608.0,1732.0 L609.0,1735.6 L610.0,1739.3 L611.0,1743.3 L612.0,1747.4 L613.0,1751.8 L614.0,1756.3 L615.0,1761.0 L616.0,1765.8 L617.0,1770.8 L618.0,1775.9 L619.0,1781.1 L620.0,1786.5 L621.0,1792.0 L622.0,1797.6 L623.0,1803.3 L624.0,1809.0 L625.0,1814.8 L626.0,1820.7 L627.0,1826.7 L628.0,1832.7 L629.0,1838.7 L630.0,1844.8 L631.0,1850.8 L632.0,1856.9 L633.0,1863.0 L634.0,1869.1 L635.0,1875.1 L636.0,1881.1 L637.0,1887.1 L638.0,1893.1 L639.0,1899.0 L640.0,1904.9 L641.0,1910.7 L642.0,1916.4 L643.0,1922.1 L644.0,1927.7 L645.0,1933.2 L646.0,1938.6 L647.0,1944.0 L648.0,1949.2 L649.0,1954.3 L650.0,1959.4 L651.0,1964.3 L652.0,1969.1 L653.0,1973.9 L654.0,1978.5 L655.0,1983.0 L656.0,1987.3 L657.0,1991.6 L658.0,1995.7 L659.0,1999.8 L660.0,2003.7 L661.0,2007.5 L662.0,2011.2 L663.0,2014.7 L664.0,2018.2 L665.0,2021.5 L666.0,2024.7 L667.0,2027.8 L668.0,2030.8 L669.0,2033.7 L670.0,2036.4 L671.0,2039.1 L672.0,2041.7 L673.0,2044.1 L674.0,2046.5 L675.0,2048.7 L676.0,2050.9 L677.0,2052.9 L678.0,2054.9 L679.0,2056.8 L680.0,2058.6 L681.0,2060.3 L682.0,2061.9 L683.0,2063.5 L684.0,2064.9 L685.0,2066.3 L686.0,2067.7 L687.0,2068.9 L688.0,2070.1 L689.0,2071.3 L690.0,2072.3 L691.0,2073.3 L692.0,2074.3 L693.0,2075.2 L694.0,2076.1 L695.0,2076.9 L696.0,2077.6 L697.0,2078.3 L698.0,2079.0 L699.0,2079.6 L700.0,2080.2 L701.0,2080.8 L702.0,2081.3 L703.0,2081.8 L704.0,2082.2 L705.0,2082.7 L706.0,2083.1 L707.0,2083.4 L708.0,2083.8 L709.0,2084.1 L710.0,2084.4 L711.0,2084.7 L712.0,2084.9 L713.0,2085.2 L714.0,2085.4 L715.0,2085.6 L716.0,2085.8 L717.0,2086.0 L718.0,2086.1 L719.0,2086.3 L720.0,2086.4 L721.0,2086.6 L722.0,2086.7 L722.0,2088.0 Z" fill="#ff5a1f"/>
<path d="M460.0,2088.0 L460.0,2081.5 L461.0,2081.0 L462.0,2080.4 L463.0,2079.8 L464.0,2079.1 L465.0,2078.4 L466.0,2077.6 L467.0,2076.8 L468.0,2075.9 L469.0,2075.0 L470.0,2074.1 L471.0,2073.0 L472.0,2071.9 L473.0,2070.8 L474.0,2069.5 L475.0,2068.2 L476.0,2066.9 L477.0,2065.5 L478.0,2063.9 L479.0,2062.4 L480.0,2060.7 L481.0,2059.0 L482.0,2057.2 L483.0,2055.3 L484.0,2053.3 L485.0,2051.2 L486.0,2049.1 L487.0,2046.9 L488.0,2044.6 L489.0,2042.2 L490.0,2039.7 L491.0,2037.2 L492.0,2034.5 L493.0,2031.8 L494.0,2029.0 L495.0,2026.1 L496.0,2023.2 L497.0,2020.2 L498.0,2017.1 L499.0,2013.9 L500.0,2010.7 L501.0,2007.4 L502.0,2004.1 L503.0,2000.7 L504.0,1997.3 L505.0,1993.8 L506.0,1990.3 L507.0,1986.7 L508.0,1983.2 L509.0,1979.6 L510.0,1976.0 L511.0,1972.4 L512.0,1968.8 L513.0,1965.3 L514.0,1961.7 L515.0,1958.2 L516.0,1954.7 L517.0,1951.2 L518.0,1947.9 L519.0,1944.5 L520.0,1941.2 L521.0,1938.1 L522.0,1934.9 L523.0,1931.9 L524.0,1929.0 L525.0,1926.2 L526.0,1923.5 L527.0,1920.9 L528.0,1918.5 L529.0,1916.2 L530.0,1914.0 L531.0,1912.0 L532.0,1910.1 L533.0,1908.4 L534.0,1906.9 L535.0,1905.5 L536.0,1904.3 L537.0,1903.3 L538.0,1902.5 L539.0,1901.8 L540.0,1901.4 L541.0,1901.1 L542.0,1901.0 L543.0,1901.1 L544.0,1901.4 L545.0,1901.8 L546.0,1902.5 L547.0,1903.3 L548.0,1904.3 L549.0,1905.5 L550.0,1906.9 L551.0,1908.4 L552.0,1910.1 L553.0,1912.0 L554.0,1914.0 L555.0,1916.2 L556.0,1918.5 L557.0,1920.9 L558.0,1923.5 L559.0,1926.2 L560.0,1929.0 L561.0,1931.9 L562.0,1934.9 L563.0,1938.1 L564.0,1941.2 L565.0,1944.5 L566.0,1947.9 L567.0,1951.2 L568.0,1954.7 L569.0,1958.2 L570.0,1961.7 L571.0,1965.3 L572.0,1968.8 L573.0,1972.4 L574.0,1976.0 L575.0,1979.6 L576.0,1983.2 L577.0,1986.7 L578.0,1990.3 L579.0,1993.8 L580.0,1997.3 L581.0,2000.7 L582.0,2004.1 L583.0,2007.4 L584.0,2010.7 L585.0,2013.9 L586.0,2017.1 L587.0,2020.2 L588.0,2023.2 L589.0,2026.1 L590.0,2029.0 L591.0,2031.8 L592.0,2034.5 L593.0,2037.2 L594.0,2039.7 L595.0,2042.2 L596.0,2044.6 L597.0,2046.9 L598.0,2049.1 L599.0,2051.2 L600.0,2053.3 L601.0,2055.3 L602.0,2057.2 L603.0,2059.0 L604.0,2060.7 L605.0,2062.4 L606.0,2063.9 L607.0,2065.5 L608.0,2066.9 L609.0,2068.2 L610.0,2069.5 L611.0,2070.8 L612.0,2071.9 L613.0,2073.0 L614.0,2074.1 L615.0,2075.0 L616.0,2075.9 L617.0,2076.8 L618.0,2077.6 L619.0,2078.4 L620.0,2079.1 L621.0,2079.8 L622.0,2080.4 L623.0,2081.0 L624.0,2081.5 L625.0,2082.1 L626.0,2082.5 L627.0,2083.0 L628.0,2083.4 L629.0,2083.8 L630.0,2084.1 L631.0,2084.5 L632.0,2084.8 L633.0,2085.0 L634.0,2085.3 L635.0,2085.5 L636.0,2085.8 L637.0,2086.0 L638.0,2086.1 L639.0,2086.3 L640.0,2086.5 L641.0,2086.6 L642.0,2086.7 L643.0,2086.9 L644.0,2087.0 L645.0,2087.1 L646.0,2087.2 L647.0,2087.3 L648.0,2087.3 L649.0,2087.4 L650.0,2087.5 L651.0,2087.5 L652.0,2087.6 L653.0,2087.6 L654.0,2087.7 L655.0,2087.7 L656.0,2087.7 L657.0,2087.8 L658.0,2087.8 L659.0,2087.8 L660.0,2087.8 L661.0,2087.8 L662.0,2087.9 L663.0,2087.9 L664.0,2087.9 L665.0,2087.9 L666.0,2087.9 L667.0,2087.9 L668.0,2087.9 L669.0,2087.9 L670.0,2087.9 L671.0,2088.0 L672.0,2088.0 L673.0,2088.0 L674.0,2088.0 L675.0,2088.0 L676.0,2088.0 L677.0,2088.0 L678.0,2088.0 L679.0,2088.0 L680.0,2088.0 L681.0,2088.0 L682.0,2088.0 L683.0,2088.0 L684.0,2088.0 L685.0,2088.0 L686.0,2088.0 L687.0,2088.0 L688.0,2088.0 L689.0,2088.0 L690.0,2088.0 L691.0,2088.0 L692.0,2088.0 L693.0,2088.0 L694.0,2088.0 L695.0,2088.0 L696.0,2088.0 L697.0,2088.0 L698.0,2088.0 L699.0,2088.0 L700.0,2088.0 L701.0,2088.0 L702.0,2088.0 L703.0,2088.0 L704.0,2088.0 L705.0,2088.0 L706.0,2088.0 L707.0,2088.0 L708.0,2088.0 L709.0,2088.0 L710.0,2088.0 L711.0,2088.0 L712.0,2088.0 L713.0,2088.0 L714.0,2088.0 L715.0,2088.0 L716.0,2088.0 L717.0,2088.0 L718.0,2088.0 L719.0,2088.0 L720.0,2088.0 L720.0,2088.0 Z" fill="#0048a8"/>
<line x1="460" y1="2089.5" x2="714" y2="2089.5" stroke="#0048a8" stroke-width="2.5"/>
<path d="M194.0,2084.6 L195.0,2085.4 L196.0,2085.2 L197.0,2088.8 L198.0,2089.5 L199.0,2089.6 L200.0,2089.5 L201.0,2089.6 L202.0,2089.2 L203.0,2089.0 L204.0,2089.7 L205.0,2090.5 L206.0,2089.8 L207.0,2088.2 L208.0,2087.2 L209.0,2084.2 L210.0,2086.7 L211.0,2087.5 L212.0,2088.2 L213.0,2088.0 L214.0,2085.9 L215.0,2085.9 L216.0,2088.2 L217.0,2089.0 L218.0,2089.1 L219.0,2090.0 L220.0,2089.3 L221.0,2087.6 L222.0,2087.8 L223.0,2090.7 L224.0,2087.8 L225.0,2088.4 L226.0,2088.5 L227.0,2088.7 L228.0,2088.8 L229.0,2088.4 L230.0,2087.8 L231.0,2086.9 L232.0,2086.7 L233.0,2086.9 L234.0,2087.8 L235.0,2088.5 L236.0,2089.5 L237.0,2089.8 L238.0,2088.2 L239.0,2087.9 L240.0,2088.3 L241.0,2087.9 L242.0,2088.1 L243.0,2088.1 L244.0,2087.3 L245.0,2088.1 L246.0,2088.7 L247.0,2087.0 L248.0,2086.9 L249.0,2088.6 L250.0,2096.0 L251.0,2090.7 L252.0,2089.8 L253.0,2088.3 L254.0,2088.6 L255.0,2089.5 L256.0,2088.3 L257.0,2086.9 L258.0,2087.8 L259.0,2088.1 L260.0,2086.8 L261.0,2086.9 L262.0,2088.0 L263.0,2089.3 L264.0,2093.7 L265.0,2090.1 L266.0,2089.1 L267.0,2088.3 L268.0,2087.5 L269.0,2087.2 L270.0,2087.4 L271.0,2088.2 L272.0,2089.9 L273.0,2090.8 L274.0,2090.0 L275.0,2089.5 L276.0,2089.2 L277.0,2089.2 L278.0,2089.8 L279.0,2089.7 L280.0,2088.6 L281.0,2088.2 L282.0,2088.3 L283.0,2087.9 L284.0,2088.5 L285.0,2089.1 L286.0,2087.6 L287.0,2086.5 L288.0,2087.2 L289.0,2086.6 L290.0,2085.4 L291.0,2086.3 L292.0,2087.1 L293.0,2086.4 L294.0,2087.1 L295.0,2088.3 L296.0,2085.3 L297.0,2087.5 L298.0,2087.7 L299.0,2087.5 L300.0,2087.2 L301.0,2088.6 L302.0,2089.0 L303.0,2087.4 L304.0,2086.4 L305.0,2087.1 L306.0,2088.0 L307.0,2087.3 L308.0,2086.2 L309.0,2086.7 L310.0,2088.2 L311.0,2088.5 L312.0,2088.9 L313.0,2090.0 L314.0,2088.9 L315.0,2087.5 L316.0,2088.3 L317.0,2088.5 L318.0,2087.0 L319.0,2086.2 L320.0,2087.0 L321.0,2088.3 L322.0,2087.9 L323.0,2087.4 L324.0,2088.5 L325.0,2088.6 L326.0,2086.8 L327.0,2086.7 L328.0,2089.6 L329.0,2094.9 L330.0,2091.1 L331.0,2089.7 L332.0,2088.3 L333.0,2088.9 L334.0,2088.2 L335.0,2088.7 L336.0,2088.6 L337.0,2088.2 L338.0,2088.8 L339.0,2087.4 L340.0,2085.4 L341.0,2086.3 L342.0,2088.9 L343.0,2089.6 L344.0,2089.7 L345.0,2090.1 L346.0,2089.8 L347.0,2088.6 L348.0,2087.7 L349.0,2088.4 L350.0,2089.6 L351.0,2090.2 L352.0,2089.8 L353.0,2088.7 L354.0,2087.7 L355.0,2087.3 L356.0,2087.6 L357.0,2087.2 L358.0,2087.3 L359.0,2088.8 L360.0,2090.5 L361.0,2089.8 L362.0,2087.2 L363.0,2086.2 L364.0,2086.8 L365.0,2087.4 L366.0,2088.2 L367.0,2088.9 L368.0,2088.3 L369.0,2087.2 L370.0,2087.3 L371.0,2088.2 L372.0,2088.2 L373.0,2087.5 L374.0,2087.8 L375.0,2087.8 L376.0,2086.6 L377.0,2086.9 L378.0,2087.2 L379.0,2086.1 L380.0,2086.4 L381.0,2087.3 L382.0,2088.0 L383.0,2089.1 L384.0,2090.2 L385.0,2089.9 L386.0,2088.8 L387.0,2088.9 L388.0,2088.6 L389.0,2088.9 L390.0,2089.4 L391.0,2088.5 L392.0,2087.5 L393.0,2086.4 L394.0,2085.9 L395.0,2086.4 L396.0,2087.3 L397.0,2087.8 L398.0,2087.5 L399.0,2087.7 L400.0,2088.4 L401.0,2088.3 L402.0,2088.0 L403.0,2087.6 L404.0,2087.8 L405.0,2088.6 L406.0,2088.6 L407.0,2088.4 L408.0,2089.5 L409.0,2088.6 L410.0,2088.1 L411.0,2090.1 L412.0,2089.6 L413.0,2088.4 L414.0,2088.0 L415.0,2087.5 L416.0,2088.5 L417.0,2087.0 L418.0,2085.3 L419.0,2086.4 L420.0,2087.5 L421.0,2088.1 L422.0,2088.2 L423.0,2088.0 L424.0,2088.6 L425.0,2088.1 L426.0,2087.5 L427.0,2088.5 L428.0,2088.5 L429.0,2088.3 L430.0,2088.3 L431.0,2087.0 L432.0,2087.4 L433.0,2088.8 L434.0,2088.6 L435.0,2088.4 L436.0,2088.2 L437.0,2087.8 L438.0,2087.3 L439.0,2086.8 L440.0,2086.7 L441.0,2086.2 L442.0,2085.9 L443.0,2086.0 L444.0,2086.7 L445.0,2087.5 L446.0,2087.1 L447.0,2085.4 L448.0,2083.5 L449.0,2082.3 L450.0,2082.8 L451.0,2084.1 L452.0,2084.5 L453.0,2084.0 L454.0,2083.0 L455.0,2081.7 L456.0,2081.9 L457.0,2083.3 L458.0,2082.6 L459.0,2080.5 L460.0,2076.6 L461.0,2080.0 L462.0,2079.0 L463.0,2079.1 L464.0,2079.1 L465.0,2079.2 L466.0,2078.5 L467.0,2076.6 L468.0,2076.0 L469.0,2075.5 L470.0,2073.5 L471.0,2071.5 L472.0,2070.3 L473.0,2070.1 L474.0,2069.5 L475.0,2068.0 L476.0,2066.2 L477.0,2063.5 L478.0,2061.1 L479.0,2058.7 L480.0,2055.7 L481.0,2054.2 L482.0,2052.9 L483.0,2051.3 L484.0,2049.0 L485.0,2045.6 L486.0,2043.6 L487.0,2042.0 L488.0,2038.5 L489.0,2034.8 L490.0,2031.9 L491.0,2029.9 L492.0,2028.5 L493.0,2024.5 L494.0,2019.0 L495.0,2016.3 L496.0,2014.1 L497.0,2009.7 L498.0,2006.4 L499.0,2004.3 L500.0,2000.9 L501.0,1995.3 L502.0,1989.0 L503.0,1984.0 L504.0,1979.4 L505.0,1974.2 L506.0,1970.1 L507.0,1966.7 L508.0,1961.5 L509.0,1956.2 L510.0,1951.3 L511.0,1945.3 L512.0,1939.2 L513.0,1934.3 L514.0,1929.5 L515.0,1922.3 L516.0,1915.3 L517.0,1911.5 L518.0,1906.9 L519.0,1899.3 L520.0,1892.3 L521.0,1887.1 L522.0,1881.8 L523.0,1875.4 L524.0,1870.3 L525.0,1865.2 L526.0,1858.7 L527.0,1851.6 L528.0,1844.6 L529.0,1838.7 L530.0,1833.0 L531.0,1826.8 L532.0,1820.9 L533.0,1815.8 L534.0,1811.8 L535.0,1806.2 L536.0,1799.3 L537.0,1794.0 L538.0,1788.2 L539.0,1782.0 L540.0,1776.6 L541.0,1770.3 L542.0,1764.8 L543.0,1760.5 L544.0,1752.9 L545.0,1745.5 L546.0,1741.5 L547.0,1736.8 L548.0,1730.2 L549.0,1724.9 L550.0,1721.4 L551.0,1716.6 L552.0,1710.9 L553.0,1705.6 L554.0,1700.7 L555.0,1696.4 L556.0,1692.7 L557.0,1689.1 L558.0,1685.9 L559.0,1682.8 L560.0,1678.8 L561.0,1676.2 L562.0,1673.4 L563.0,1669.8 L564.0,1668.7 L565.0,1667.8 L566.0,1665.5 L567.0,1664.2 L568.0,1663.1 L569.0,1662.0 L570.0,1661.3 L571.0,1661.0 L572.0,1661.0 L573.0,1659.4 L574.0,1659.0 L575.0,1660.8 L576.0,1660.4 L577.0,1659.6 L578.0,1661.1 L579.0,1660.7 L580.0,1659.1 L581.0,1659.2 L582.0,1659.5 L583.0,1661.1 L584.0,1663.4 L585.0,1664.8 L586.0,1666.3 L587.0,1668.4 L588.0,1671.8 L589.0,1675.5 L590.0,1679.9 L591.0,1680.6 L592.0,1684.6 L593.0,1689.3 L594.0,1691.9 L595.0,1693.5 L596.0,1695.8 L597.0,1697.9 L598.0,1699.6 L599.0,1700.5 L600.0,1701.0 L601.0,1702.6 L602.0,1704.7 L603.0,1707.0 L604.0,1709.7 L605.0,1712.2 L606.0,1716.9 L607.0,1723.0 L608.0,1729.7 L609.0,1735.7 L610.0,1738.9 L611.0,1741.4 L612.0,1746.2 L613.0,1752.1 L614.0,1756.9 L615.0,1762.3 L616.0,1769.4 L617.0,1776.4 L618.0,1781.3 L619.0,1785.7 L620.0,1791.1 L621.0,1797.6 L622.0,1804.0 L623.0,1808.7 L624.0,1814.0 L625.0,1820.1 L626.0,1825.8 L627.0,1832.1 L628.0,1839.9 L629.0,1847.8 L630.0,1853.3 L631.0,1857.2 L632.0,1862.9 L633.0,1870.1 L634.0,1876.7 L635.0,1882.5 L636.0,1888.4 L637.0,1894.9 L638.0,1899.9 L639.0,1904.1 L640.0,1910.7 L641.0,1918.4 L642.0,1924.8 L643.0,1929.4 L644.0,1933.2 L645.0,1938.3 L646.0,1944.4 L647.0,1949.9 L648.0,1955.6 L649.0,1960.3 L650.0,1963.8 L651.0,1967.3 L652.0,1971.9 L653.0,1978.2 L654.0,1983.1 L655.0,1981.8 L656.0,1992.1 L657.0,1997.6 L658.0,2001.2 L659.0,2003.8 L660.0,2007.0 L661.0,2010.4 L662.0,2013.1 L663.0,2016.3 L664.0,2020.4 L665.0,2024.3 L666.0,2027.4 L667.0,2029.6 L668.0,2032.1 L669.0,2035.4 L670.0,2038.4 L671.0,2042.0 L672.0,2045.7 L673.0,2047.3 L674.0,2047.8 L675.0,2045.7 L676.0,2050.8 L677.0,2053.6 L678.0,2054.9 L679.0,2056.0 L680.0,2058.6 L681.0,2061.7 L682.0,2063.5 L683.0,2065.0 L684.0,2066.6 L685.0,2066.8 L686.0,2067.6 L687.0,2068.8 L688.0,2069.4 L689.0,2071.4 L690.0,2073.5 L691.0,2078.9 L692.0,2075.5 L693.0,2075.7 L694.0,2075.6 L695.0,2075.5 L696.0,2076.5 L697.0,2078.1 L698.0,2080.0 L699.0,2081.5 L700.0,2081.7 L701.0,2081.5 L702.0,2081.1 L703.0,2080.8 L704.0,2080.6 L705.0,2081.0 L706.0,2082.0 L707.0,2082.9 L708.0,2083.3 L709.0,2083.1 L710.0,2083.7 L711.0,2084.8 L712.0,2083.7 L713.0,2082.6 L714.0,2086.8 L715.0,2084.6 L716.0,2087.4 L717.0,2087.2 L718.0,2085.8 L719.0,2085.6 L720.0,2087.5 L721.0,2083.5 L722.0,2083.9 L723.0,2086.0 L724.0,2086.1 L725.0,2085.8 L726.0,2086.2 L727.0,2083.9 L728.0,2086.3 L729.0,2085.5 L730.0,2085.9 L731.0,2086.2 L732.0,2085.7 L733.0,2085.9 L734.0,2086.6 L735.0,2086.3 L736.0,2085.6 L737.0,2086.4 L738.0,2088.0 L739.0,2087.7 L740.0,2089.0 L741.0,2088.9 L742.0,2088.1 L743.0,2088.5 L744.0,2089.7 L745.0,2088.5 L746.0,2087.2 L747.0,2087.9 L748.0,2088.1 L749.0,2087.5 L750.0,2088.6 L751.0,2089.9 L752.0,2089.5 L753.0,2088.0 L754.0,2086.5 L755.0,2086.3 L756.0,2087.8 L757.0,2089.3 L758.0,2089.6 L759.0,2089.2 L760.0,2089.4 L761.0,2089.7 L762.0,2088.4 L763.0,2087.4 L764.0,2087.6 L765.0,2088.1 L766.0,2089.3 L767.0,2090.1 L768.0,2088.7 L769.0,2086.7 L770.0,2086.7 L771.0,2087.4 L772.0,2087.2 L773.0,2087.0 L774.0,2086.5 L775.0,2087.0 L776.0,2087.8 L777.0,2087.8 L778.0,2088.8 L779.0,2089.9 L780.0,2089.7 L781.0,2088.5 L782.0,2088.0 L783.0,2088.3 L784.0,2087.7 L785.0,2087.0 L786.0,2088.1 L787.0,2088.3 L788.0,2086.5 L789.0,2085.9 L790.0,2087.8 L791.0,2089.8 L792.0,2089.1 L793.0,2087.7 L794.0,2087.0 L795.0,2087.2 L796.0,2088.2 L797.0,2088.3 L798.0,2087.6 L799.0,2087.1 L800.0,2087.0 L801.0,2087.4 L802.0,2088.8 L803.0,2090.2 L804.0,2090.0 L805.0,2089.6 L806.0,2088.7 L807.0,2086.7 L808.0,2086.0 L809.0,2087.6 L810.0,2088.9 L811.0,2088.9 L812.0,2088.0 L813.0,2086.8 L814.0,2086.8 L815.0,2087.6 L816.0,2089.1 L817.0,2090.5 L818.0,2090.2 L819.0,2089.3 L820.0,2088.1 L821.0,2088.1 L822.0,2088.9 L823.0,2088.0 L824.0,2087.2 L825.0,2088.6 L826.0,2089.4 L827.0,2089.0 L828.0,2089.0 L829.0,2088.5 L830.0,2086.9 L831.0,2086.9 L832.0,2088.9 L833.0,2088.8 L834.0,2088.0 L835.0,2088.1 L836.0,2088.4 L837.0,2087.9 L838.0,2087.4 L839.0,2088.0 L840.0,2088.3 L841.0,2088.0 L842.0,2087.9" fill="none" stroke="#111" stroke-width="2.6" stroke-linejoin="round"/>
<path d="M194.0,2088.0 L195.0,2088.0 L196.0,2088.0 L197.0,2088.0 L198.0,2088.0 L199.0,2088.0 L200.0,2088.0 L201.0,2088.0 L202.0,2088.0 L203.0,2088.0 L204.0,2088.0 L205.0,2088.0 L206.0,2088.0 L207.0,2088.0 L208.0,2088.0 L209.0,2088.0 L210.0,2088.0 L211.0,2088.0 L212.0,2088.0 L213.0,2088.0 L214.0,2088.0 L215.0,2088.0 L216.0,2088.0 L217.0,2088.0 L218.0,2088.0 L219.0,2088.0 L220.0,2088.0 L221.0,2088.0 L222.0,2088.0 L223.0,2088.0 L224.0,2088.0 L225.0,2088.0 L226.0,2088.0 L227.0,2088.0 L228.0,2088.0 L229.0,2088.0 L230.0,2088.0 L231.0,2088.0 L232.0,2088.0 L233.0,2088.0 L234.0,2088.0 L235.0,2088.0 L236.0,2088.0 L237.0,2088.0 L238.0,2088.0 L239.0,2088.0 L240.0,2088.0 L241.0,2088.0 L242.0,2088.0 L243.0,2088.0 L244.0,2088.0 L245.0,2088.0 L246.0,2088.0 L247.0,2088.0 L248.0,2088.0 L249.0,2088.0 L250.0,2088.0 L251.0,2088.0 L252.0,2088.0 L253.0,2088.0 L254.0,2088.0 L255.0,2088.0 L256.0,2088.0 L257.0,2088.0 L258.0,2088.0 L259.0,2088.0 L260.0,2088.0 L261.0,2088.0 L262.0,2088.0 L263.0,2088.0 L264.0,2088.0 L265.0,2088.0 L266.0,2088.0 L267.0,2088.0 L268.0,2088.0 L269.0,2088.0 L270.0,2088.0 L271.0,2088.0 L272.0,2088.0 L273.0,2088.0 L274.0,2088.0 L275.0,2088.0 L276.0,2088.0 L277.0,2088.0 L278.0,2088.0 L279.0,2088.0 L280.0,2088.0 L281.0,2088.0 L282.0,2088.0 L283.0,2088.0 L284.0,2088.0 L285.0,2088.0 L286.0,2088.0 L287.0,2088.0 L288.0,2088.0 L289.0,2088.0 L290.0,2088.0 L291.0,2088.0 L292.0,2088.0 L293.0,2088.0 L294.0,2088.0 L295.0,2088.0 L296.0,2088.0 L297.0,2088.0 L298.0,2088.0 L299.0,2088.0 L300.0,2088.0 L301.0,2088.0 L302.0,2088.0 L303.0,2088.0 L304.0,2088.0 L305.0,2088.0 L306.0,2088.0 L307.0,2088.0 L308.0,2088.0 L309.0,2088.0 L310.0,2088.0 L311.0,2088.0 L312.0,2088.0 L313.0,2088.0 L314.0,2088.0 L315.0,2088.0 L316.0,2088.0 L317.0,2088.0 L318.0,2088.0 L319.0,2088.0 L320.0,2088.0 L321.0,2088.0 L322.0,2088.0 L323.0,2088.0 L324.0,2088.0 L325.0,2088.0 L326.0,2088.0 L327.0,2088.0 L328.0,2088.0 L329.0,2088.0 L330.0,2088.0 L331.0,2088.0 L332.0,2088.0 L333.0,2088.0 L334.0,2088.0 L335.0,2088.0 L336.0,2088.0 L337.0,2088.0 L338.0,2088.0 L339.0,2088.0 L340.0,2088.0 L341.0,2088.0 L342.0,2088.0 L343.0,2088.0 L344.0,2088.0 L345.0,2088.0 L346.0,2088.0 L347.0,2088.0 L348.0,2088.0 L349.0,2088.0 L350.0,2088.0 L351.0,2088.0 L352.0,2088.0 L353.0,2088.0 L354.0,2088.0 L355.0,2088.0 L356.0,2088.0 L357.0,2088.0 L358.0,2088.0 L359.0,2088.0 L360.0,2088.0 L361.0,2088.0 L362.0,2088.0 L363.0,2088.0 L364.0,2088.0 L365.0,2088.0 L366.0,2088.0 L367.0,2088.0 L368.0,2088.0 L369.0,2088.0 L370.0,2088.0 L371.0,2088.0 L372.0,2088.0 L373.0,2088.0 L374.0,2088.0 L375.0,2088.0 L376.0,2088.0 L377.0,2088.0 L378.0,2088.0 L379.0,2088.0 L380.0,2088.0 L381.0,2088.0 L382.0,2088.0 L383.0,2088.0 L384.0,2088.0 L385.0,2088.0 L386.0,2088.0 L387.0,2088.0 L388.0,2088.0 L389.0,2088.0 L390.0,2088.0 L391.0,2088.0 L392.0,2088.0 L393.0,2088.0 L394.0,2088.0 L395.0,2088.0 L396.0,2088.0 L397.0,2088.0 L398.0,2088.0 L399.0,2088.0 L400.0,2088.0 L401.0,2088.0 L402.0,2088.0 L403.0,2088.0 L404.0,2088.0 L405.0,2088.0 L406.0,2088.0 L407.0,2088.0 L408.0,2088.0 L409.0,2088.0 L410.0,2088.0 L411.0,2088.0 L412.0,2088.0 L413.0,2088.0 L414.0,2087.9 L415.0,2087.9 L416.0,2087.9 L417.0,2087.9 L418.0,2087.9 L419.0,2087.9 L420.0,2087.9 L421.0,2087.9 L422.0,2087.9 L423.0,2087.8 L424.0,2087.8 L425.0,2087.8 L426.0,2087.8 L427.0,2087.7 L428.0,2087.7 L429.0,2087.7 L430.0,2087.6 L431.0,2087.6 L432.0,2087.5 L433.0,2087.5 L434.0,2087.4 L435.0,2087.4 L436.0,2087.3 L437.0,2087.2 L438.0,2087.1 L439.0,2087.0 L440.0,2086.9 L441.0,2086.8 L442.0,2086.7 L443.0,2086.5 L444.0,2086.4 L445.0,2086.2 L446.0,2086.0 L447.0,2085.8 L448.0,2085.6 L449.0,2085.4 L450.0,2085.1 L451.0,2084.9 L452.0,2084.6 L453.0,2084.2 L454.0,2083.9 L455.0,2083.5 L456.0,2083.1 L457.0,2082.7 L458.0,2082.2 L459.0,2081.7 L460.0,2081.1 L461.0,2080.5 L462.0,2079.9 L463.0,2079.2 L464.0,2078.5 L465.0,2077.7 L466.0,2076.8 L467.0,2076.0 L468.0,2075.0 L469.0,2074.0 L470.0,2072.9 L471.0,2071.8 L472.0,2070.5 L473.0,2069.2 L474.0,2067.9 L475.0,2066.4 L476.0,2064.9 L477.0,2063.3 L478.0,2061.6 L479.0,2059.8 L480.0,2057.9 L481.0,2055.9 L482.0,2053.8 L483.0,2051.6 L484.0,2049.4 L485.0,2047.0 L486.0,2044.4 L487.0,2041.8 L488.0,2039.1 L489.0,2036.2 L490.0,2033.3 L491.0,2030.2 L492.0,2027.0 L493.0,2023.7 L494.0,2020.3 L495.0,2016.7 L496.0,2013.0 L497.0,2009.2 L498.0,2005.3 L499.0,2001.3 L500.0,1997.1 L501.0,1992.8 L502.0,1988.4 L503.0,1983.9 L504.0,1979.3 L505.0,1974.6 L506.0,1969.8 L507.0,1964.8 L508.0,1959.8 L509.0,1954.7 L510.0,1949.4 L511.0,1944.1 L512.0,1938.7 L513.0,1933.3 L514.0,1927.7 L515.0,1922.1 L516.0,1916.4 L517.0,1910.7 L518.0,1904.9 L519.0,1899.1 L520.0,1893.2 L521.0,1887.3 L522.0,1881.4 L523.0,1875.4 L524.0,1869.5 L525.0,1863.5 L526.0,1857.5 L527.0,1851.6 L528.0,1845.6 L529.0,1839.7 L530.0,1833.7 L531.0,1827.9 L532.0,1822.0 L533.0,1816.2 L534.0,1810.4 L535.0,1804.7 L536.0,1799.1 L537.0,1793.5 L538.0,1788.0 L539.0,1782.6 L540.0,1777.2 L541.0,1771.9 L542.0,1766.8 L543.0,1761.7 L544.0,1756.7 L545.0,1751.8 L546.0,1747.0 L547.0,1742.3 L548.0,1737.7 L549.0,1733.3 L550.0,1728.9 L551.0,1724.7 L552.0,1720.6 L553.0,1716.6 L554.0,1712.8 L555.0,1709.0 L556.0,1705.4 L557.0,1701.9 L558.0,1698.6 L559.0,1695.4 L560.0,1692.3 L561.0,1689.4 L562.0,1686.6 L563.0,1683.9 L564.0,1681.4 L565.0,1679.0 L566.0,1676.8 L567.0,1674.7 L568.0,1672.8 L569.0,1671.0 L570.0,1669.3 L571.0,1667.8 L572.0,1666.5 L573.0,1665.3 L574.0,1664.3 L575.0,1663.4 L576.0,1662.7 L577.0,1662.1 L578.0,1661.7 L579.0,1661.4 L580.0,1661.4 L581.0,1661.4 L582.0,1661.7 L583.0,1662.1 L584.0,1662.7 L585.0,1663.5 L586.0,1664.4 L587.0,1665.5 L588.0,1666.8 L589.0,1668.2 L590.0,1669.8 L591.0,1671.6 L592.0,1673.6 L593.0,1675.7 L594.0,1678.0 L595.0,1680.5 L596.0,1683.2 L597.0,1686.0 L598.0,1689.0 L599.0,1692.2 L600.0,1695.5 L601.0,1699.0 L602.0,1702.7 L603.0,1706.5 L604.0,1710.5 L605.0,1714.6 L606.0,1718.9 L607.0,1723.3 L608.0,1727.9 L609.0,1732.6 L610.0,1737.4 L611.0,1742.3 L612.0,1747.4 L613.0,1752.6 L614.0,1757.9 L615.0,1763.3 L616.0,1768.8 L617.0,1774.4 L618.0,1780.0 L619.0,1785.8 L620.0,1791.6 L621.0,1797.5 L622.0,1803.4 L623.0,1809.4 L624.0,1815.4 L625.0,1821.5 L626.0,1827.5 L627.0,1833.7 L628.0,1839.8 L629.0,1845.9 L630.0,1852.0 L631.0,1858.1 L632.0,1864.2 L633.0,1870.3 L634.0,1876.3 L635.0,1882.3 L636.0,1888.3 L637.0,1894.2 L638.0,1900.1 L639.0,1905.9 L640.0,1911.7 L641.0,1917.3 L642.0,1923.0 L643.0,1928.5 L644.0,1933.9 L645.0,1939.3 L646.0,1944.5 L647.0,1949.7 L648.0,1954.8 L649.0,1959.8 L650.0,1964.6 L651.0,1969.4 L652.0,1974.1 L653.0,1978.6 L654.0,1983.1 L655.0,1987.4 L656.0,1991.6 L657.0,1995.7 L658.0,1999.7 L659.0,2003.6 L660.0,2007.3 L661.0,2011.0 L662.0,2014.5 L663.0,2017.9 L664.0,2021.2 L665.0,2024.4 L666.0,2027.5 L667.0,2030.4 L668.0,2033.3 L669.0,2036.1 L670.0,2038.7 L671.0,2041.3 L672.0,2043.7 L673.0,2046.0 L674.0,2048.3 L675.0,2050.5 L676.0,2052.5 L677.0,2054.5 L678.0,2056.4 L679.0,2058.2 L680.0,2059.9 L681.0,2061.5 L682.0,2063.1 L683.0,2064.6 L684.0,2066.0 L685.0,2067.3 L686.0,2068.6 L687.0,2069.8 L688.0,2070.9 L689.0,2072.0 L690.0,2073.0 L691.0,2074.0 L692.0,2074.9 L693.0,2075.8 L694.0,2076.6 L695.0,2077.4 L696.0,2078.1 L697.0,2078.8 L698.0,2079.4 L699.0,2080.0 L700.0,2080.6 L701.0,2081.1 L702.0,2081.6 L703.0,2082.1 L704.0,2082.5 L705.0,2082.9 L706.0,2083.3 L707.0,2083.6 L708.0,2084.0 L709.0,2084.3 L710.0,2084.6 L711.0,2084.8 L712.0,2085.1 L713.0,2085.3 L714.0,2085.5 L715.0,2085.7 L716.0,2085.9 L717.0,2086.1 L718.0,2086.2 L719.0,2086.4 L720.0,2086.5 L721.0,2086.6 L722.0,2086.7 L723.0,2086.9 L724.0,2087.0 L725.0,2087.0 L726.0,2087.1 L727.0,2087.2 L728.0,2087.3 L729.0,2087.3 L730.0,2087.4 L731.0,2087.5 L732.0,2087.5 L733.0,2087.5 L734.0,2087.6 L735.0,2087.6 L736.0,2087.7 L737.0,2087.7 L738.0,2087.7 L739.0,2087.7 L740.0,2087.8 L741.0,2087.8 L742.0,2087.8 L743.0,2087.8 L744.0,2087.8 L745.0,2087.9 L746.0,2087.9 L747.0,2087.9 L748.0,2087.9 L749.0,2087.9 L750.0,2087.9 L751.0,2087.9 L752.0,2087.9 L753.0,2087.9 L754.0,2087.9 L755.0,2088.0 L756.0,2088.0 L757.0,2088.0 L758.0,2088.0 L759.0,2088.0 L760.0,2088.0 L761.0,2088.0 L762.0,2088.0 L763.0,2088.0 L764.0,2088.0 L765.0,2088.0 L766.0,2088.0 L767.0,2088.0 L768.0,2088.0 L769.0,2088.0 L770.0,2088.0 L771.0,2088.0 L772.0,2088.0 L773.0,2088.0 L774.0,2088.0 L775.0,2088.0 L776.0,2088.0 L777.0,2088.0 L778.0,2088.0 L779.0,2088.0 L780.0,2088.0 L781.0,2088.0 L782.0,2088.0 L783.0,2088.0 L784.0,2088.0 L785.0,2088.0 L786.0,2088.0 L787.0,2088.0 L788.0,2088.0 L789.0,2088.0 L790.0,2088.0 L791.0,2088.0 L792.0,2088.0 L793.0,2088.0 L794.0,2088.0 L795.0,2088.0 L796.0,2088.0 L797.0,2088.0 L798.0,2088.0 L799.0,2088.0 L800.0,2088.0 L801.0,2088.0 L802.0,2088.0 L803.0,2088.0 L804.0,2088.0 L805.0,2088.0 L806.0,2088.0 L807.0,2088.0 L808.0,2088.0 L809.0,2088.0 L810.0,2088.0 L811.0,2088.0 L812.0,2088.0 L813.0,2088.0 L814.0,2088.0 L815.0,2088.0 L816.0,2088.0 L817.0,2088.0 L818.0,2088.0 L819.0,2088.0 L820.0,2088.0 L821.0,2088.0 L822.0,2088.0 L823.0,2088.0 L824.0,2088.0 L825.0,2088.0 L826.0,2088.0 L827.0,2088.0 L828.0,2088.0 L829.0,2088.0 L830.0,2088.0 L831.0,2088.0 L832.0,2088.0 L833.0,2088.0 L834.0,2088.0 L835.0,2088.0 L836.0,2088.0 L837.0,2088.0 L838.0,2088.0 L839.0,2088.0 L840.0,2088.0 L841.0,2088.0 L842.0,2088.0" fill="none" stroke="#e0191e" stroke-width="4.2" stroke-linejoin="round"/>
<line x1="543.0" y1="135.5" x2="543.0" y2="2158" stroke="#128168" stroke-width="5" stroke-dasharray="56 47.7"/>
<g clip-path="url(#clipOa)"><line x1="543.0" y1="135.5" x2="543.0" y2="2158" stroke="#8a4f22" stroke-width="5" stroke-dasharray="56 47.7"/></g>
<g clip-path="url(#clipBa)"><line x1="543.0" y1="135.5" x2="543.0" y2="2158" stroke="#0a3a8c" stroke-width="5" stroke-dasharray="56 47.7"/></g>
<g clip-path="url(#clipOb)"><line x1="543.0" y1="135.5" x2="543.0" y2="2158" stroke="#8a4f22" stroke-width="5" stroke-dasharray="56 47.7"/></g>
<g clip-path="url(#clipBb)"><line x1="543.0" y1="135.5" x2="543.0" y2="2158" stroke="#0a3a8c" stroke-width="5" stroke-dasharray="56 47.7"/></g>
<g clip-path="url(#clipOc)"><line x1="543.0" y1="135.5" x2="543.0" y2="2158" stroke="#8a4f22" stroke-width="5" stroke-dasharray="56 47.7"/></g>
<g clip-path="url(#clipBc)"><line x1="543.0" y1="135.5" x2="543.0" y2="2158" stroke="#0a3a8c" stroke-width="5" stroke-dasharray="56 47.7"/></g>
<line x1="601.6" y1="106.4" x2="601.6" y2="2158" stroke="#128168" stroke-width="5" stroke-dasharray="56 47.7"/>
<g clip-path="url(#clipOa)"><line x1="601.6" y1="106.4" x2="601.6" y2="2158" stroke="#8a4f22" stroke-width="5" stroke-dasharray="56 47.7"/></g>
<g clip-path="url(#clipBa)"><line x1="601.6" y1="106.4" x2="601.6" y2="2158" stroke="#0a3a8c" stroke-width="5" stroke-dasharray="56 47.7"/></g>
<g clip-path="url(#clipOb)"><line x1="601.6" y1="106.4" x2="601.6" y2="2158" stroke="#8a4f22" stroke-width="5" stroke-dasharray="56 47.7"/></g>
<g clip-path="url(#clipBb)"><line x1="601.6" y1="106.4" x2="601.6" y2="2158" stroke="#0a3a8c" stroke-width="5" stroke-dasharray="56 47.7"/></g>
<g clip-path="url(#clipOc)"><line x1="601.6" y1="106.4" x2="601.6" y2="2158" stroke="#8a4f22" stroke-width="5" stroke-dasharray="56 47.7"/></g>
<g clip-path="url(#clipBc)"><line x1="601.6" y1="106.4" x2="601.6" y2="2158" stroke="#0a3a8c" stroke-width="5" stroke-dasharray="56 47.7"/></g>
<rect x="127.3" y="62.0" width="805.2" height="600.3" fill="none" stroke="#151515" stroke-width="5.2"/>
<line x1="127.3" y1="664.9" x2="127.3" y2="674.9" stroke="#777" stroke-width="1.3"/>
<line x1="207.8" y1="664.9" x2="207.8" y2="669.9" stroke="#aaa" stroke-width="1.3"/>
<line x1="288.3" y1="664.9" x2="288.3" y2="674.9" stroke="#777" stroke-width="1.3"/>
<line x1="368.9" y1="664.9" x2="368.9" y2="669.9" stroke="#aaa" stroke-width="1.3"/>
<line x1="449.4" y1="664.9" x2="449.4" y2="674.9" stroke="#777" stroke-width="1.3"/>
<line x1="529.9" y1="664.9" x2="529.9" y2="669.9" stroke="#aaa" stroke-width="1.3"/>
<line x1="610.4" y1="664.9" x2="610.4" y2="674.9" stroke="#777" stroke-width="1.3"/>
<line x1="690.9" y1="664.9" x2="690.9" y2="669.9" stroke="#aaa" stroke-width="1.3"/>
<line x1="771.5" y1="664.9" x2="771.5" y2="674.9" stroke="#777" stroke-width="1.3"/>
<line x1="852.0" y1="664.9" x2="852.0" y2="669.9" stroke="#aaa" stroke-width="1.3"/>
<line x1="932.5" y1="664.9" x2="932.5" y2="674.9" stroke="#777" stroke-width="1.3"/>
<text x="140.3" y="702.6999999999999" font-size="40" text-anchor="middle" fill="#111" textLength="70" lengthAdjust="spacingAndGlyphs">545</text>
<text x="301.5" y="702.6999999999999" font-size="40" text-anchor="middle" fill="#111" textLength="70" lengthAdjust="spacingAndGlyphs">540</text>
<text x="462.5" y="702.6999999999999" font-size="40" text-anchor="middle" fill="#111" textLength="70" lengthAdjust="spacingAndGlyphs">535</text>
<text x="623.7" y="702.6999999999999" font-size="40" text-anchor="middle" fill="#111" textLength="70" lengthAdjust="spacingAndGlyphs">530</text>
<text x="784.1" y="702.6999999999999" font-size="40" text-anchor="middle" fill="#111" textLength="70" lengthAdjust="spacingAndGlyphs">525</text>
<text x="945.9" y="702.6999999999999" font-size="40" text-anchor="middle" fill="#111" textLength="70" lengthAdjust="spacingAndGlyphs">520</text>
<text x="550" y="772.6" font-size="61.5" text-anchor="middle" fill="#111" textLength="540" lengthAdjust="spacingAndGlyphs">Binding Energy(eV)</text>
<text transform="translate(92.5,355.0) rotate(-90)" x="0" y="0" font-size="64" text-anchor="middle" fill="#111" textLength="320.0" lengthAdjust="spacingAndGlyphs">Count(a.u.)</text>
<text transform="translate(57.7,81.2) scale(0.9,1)" x="0" y="0" font-size="77" fill="#111">a</text>
<rect x="127.3" y="809.5" width="805.2" height="599.8" fill="none" stroke="#151515" stroke-width="5.2"/>
<line x1="127.3" y1="1411.8999999999999" x2="127.3" y2="1421.8999999999999" stroke="#777" stroke-width="1.3"/>
<line x1="207.8" y1="1411.8999999999999" x2="207.8" y2="1416.8999999999999" stroke="#aaa" stroke-width="1.3"/>
<line x1="288.3" y1="1411.8999999999999" x2="288.3" y2="1421.8999999999999" stroke="#777" stroke-width="1.3"/>
<line x1="368.9" y1="1411.8999999999999" x2="368.9" y2="1416.8999999999999" stroke="#aaa" stroke-width="1.3"/>
<line x1="449.4" y1="1411.8999999999999" x2="449.4" y2="1421.8999999999999" stroke="#777" stroke-width="1.3"/>
<line x1="529.9" y1="1411.8999999999999" x2="529.9" y2="1416.8999999999999" stroke="#aaa" stroke-width="1.3"/>
<line x1="610.4" y1="1411.8999999999999" x2="610.4" y2="1421.8999999999999" stroke="#777" stroke-width="1.3"/>
<line x1="690.9" y1="1411.8999999999999" x2="690.9" y2="1416.8999999999999" stroke="#aaa" stroke-width="1.3"/>
<line x1="771.5" y1="1411.8999999999999" x2="771.5" y2="1421.8999999999999" stroke="#777" stroke-width="1.3"/>
<line x1="852.0" y1="1411.8999999999999" x2="852.0" y2="1416.8999999999999" stroke="#aaa" stroke-width="1.3"/>
<line x1="932.5" y1="1411.8999999999999" x2="932.5" y2="1421.8999999999999" stroke="#777" stroke-width="1.3"/>
<text x="140.3" y="1447.8999999999999" font-size="40" text-anchor="middle" fill="#111" textLength="70" lengthAdjust="spacingAndGlyphs">545</text>
<text x="301.5" y="1447.8999999999999" font-size="40" text-anchor="middle" fill="#111" textLength="70" lengthAdjust="spacingAndGlyphs">540</text>
<text x="462.5" y="1447.8999999999999" font-size="40" text-anchor="middle" fill="#111" textLength="70" lengthAdjust="spacingAndGlyphs">535</text>
<text x="623.7" y="1447.8999999999999" font-size="40" text-anchor="middle" fill="#111" textLength="70" lengthAdjust="spacingAndGlyphs">530</text>
<text x="784.1" y="1447.8999999999999" font-size="40" text-anchor="middle" fill="#111" textLength="70" lengthAdjust="spacingAndGlyphs">525</text>
<text x="945.9" y="1447.8999999999999" font-size="40" text-anchor="middle" fill="#111" textLength="70" lengthAdjust="spacingAndGlyphs">520</text>
<text x="550" y="1531.1" font-size="61.5" text-anchor="middle" fill="#111" textLength="540" lengthAdjust="spacingAndGlyphs">Binding Energy(eV)</text>
<text transform="translate(91.6,1124.4) rotate(-90)" x="0" y="0" font-size="64" text-anchor="middle" fill="#111" textLength="319.6" lengthAdjust="spacingAndGlyphs">Count(a.u.)</text>
<text x="56.8" y="825.4" font-size="77" fill="#111">b</text>
<rect x="127.3" y="1559.0" width="805.2" height="600.4000000000001" fill="none" stroke="#151515" stroke-width="5.2"/>
<line x1="127.3" y1="2162.0" x2="127.3" y2="2172.0" stroke="#777" stroke-width="1.3"/>
<line x1="207.8" y1="2162.0" x2="207.8" y2="2167.0" stroke="#aaa" stroke-width="1.3"/>
<line x1="288.3" y1="2162.0" x2="288.3" y2="2172.0" stroke="#777" stroke-width="1.3"/>
<line x1="368.9" y1="2162.0" x2="368.9" y2="2167.0" stroke="#aaa" stroke-width="1.3"/>
<line x1="449.4" y1="2162.0" x2="449.4" y2="2172.0" stroke="#777" stroke-width="1.3"/>
<line x1="529.9" y1="2162.0" x2="529.9" y2="2167.0" stroke="#aaa" stroke-width="1.3"/>
<line x1="610.4" y1="2162.0" x2="610.4" y2="2172.0" stroke="#777" stroke-width="1.3"/>
<line x1="690.9" y1="2162.0" x2="690.9" y2="2167.0" stroke="#aaa" stroke-width="1.3"/>
<line x1="771.5" y1="2162.0" x2="771.5" y2="2172.0" stroke="#777" stroke-width="1.3"/>
<line x1="852.0" y1="2162.0" x2="852.0" y2="2167.0" stroke="#aaa" stroke-width="1.3"/>
<line x1="932.5" y1="2162.0" x2="932.5" y2="2172.0" stroke="#777" stroke-width="1.3"/>
<text x="140.3" y="2198.0" font-size="40" text-anchor="middle" fill="#111" textLength="70" lengthAdjust="spacingAndGlyphs">545</text>
<text x="301.5" y="2198.0" font-size="40" text-anchor="middle" fill="#111" textLength="70" lengthAdjust="spacingAndGlyphs">540</text>
<text x="462.5" y="2198.0" font-size="40" text-anchor="middle" fill="#111" textLength="70" lengthAdjust="spacingAndGlyphs">535</text>
<text x="623.7" y="2198.0" font-size="40" text-anchor="middle" fill="#111" textLength="70" lengthAdjust="spacingAndGlyphs">530</text>
<text x="784.1" y="2198.0" font-size="40" text-anchor="middle" fill="#111" textLength="70" lengthAdjust="spacingAndGlyphs">525</text>
<text x="945.9" y="2198.0" font-size="40" text-anchor="middle" fill="#111" textLength="70" lengthAdjust="spacingAndGlyphs">520</text>
<text x="550" y="2285.0" font-size="61.5" text-anchor="middle" fill="#111" textLength="540" lengthAdjust="spacingAndGlyphs">Binding Energy(eV)</text>
<text transform="translate(91.6,1876.5) rotate(-90)" x="0" y="0" font-size="64" text-anchor="middle" fill="#111" textLength="313.1" lengthAdjust="spacingAndGlyphs">Count(a.u.)</text>
<text x="57.6" y="1576" font-size="77" fill="#111">c</text>
<text x="715.3" y="138.4" font-size="52" fill="#111">O</text>
<line x1="715" y1="138" x2="645" y2="154" stroke="#e9533d" stroke-width="3.5"/>
<polygon points="630,157 650,143 653,161" fill="#f04a30"/>
<text x="182.6" y="500.2" font-size="52" fill="#111" textLength="291" lengthAdjust="spacingAndGlyphs">O Vacancies</text>
<line x1="392" y1="521" x2="510" y2="552" stroke="#1b2a98" stroke-width="3.6"/>
<polygon points="523,558 500,562 506,543" fill="#1b2a98"/>
<path d="M1124.0,565.1 L1124.7,567.6 L1125.4,567.4 L1126.1,564.0 L1126.8,566.4 L1127.5,564.0 L1128.2,566.1 L1128.9,564.9 L1129.6,566.4 L1130.3,561.5 L1131.0,568.0 L1131.7,564.8 L1132.4,566.3 L1133.1,564.8 L1133.8,564.3 L1134.5,565.9 L1135.2,570.9 L1135.9,564.6 L1136.6,564.7 L1137.3,566.3 L1138.0,563.4 L1138.7,562.1 L1139.4,565.8 L1140.1,563.7 L1140.8,561.3 L1141.5,563.5 L1142.2,564.1 L1142.9,562.7 L1143.6,562.2 L1144.3,565.1 L1145.0,566.8 L1145.7,564.6 L1146.4,563.6 L1147.1,565.8 L1147.8,566.4 L1148.5,564.5 L1149.2,566.1 L1149.9,567.0 L1150.6,564.6 L1151.3,563.5 L1152.0,565.7 L1152.7,565.5 L1153.4,567.1 L1154.1,562.6 L1154.8,563.8 L1155.5,563.4 L1156.2,561.7 L1156.9,565.3 L1157.6,566.1 L1158.3,563.6 L1159.0,567.7 L1159.7,566.6 L1160.4,566.3 L1161.1,565.8 L1161.8,567.8 L1162.5,562.5 L1163.2,566.2 L1163.9,566.2 L1164.6,561.7 L1165.3,565.7 L1166.0,564.6 L1166.7,566.6 L1167.4,564.2 L1168.1,565.0 L1168.8,566.7 L1169.5,563.4 L1170.2,566.2 L1170.9,564.9 L1171.6,566.0 L1172.3,564.1 L1173.0,567.1 L1173.7,566.2 L1174.4,564.7 L1175.1,573.9 L1175.8,567.5 L1176.5,568.5 L1177.2,562.0 L1177.9,566.8 L1178.6,566.0 L1179.3,564.9 L1180.0,563.1 L1180.7,567.5 L1181.4,562.7 L1182.1,566.2 L1182.8,567.6 L1183.5,562.0 L1184.2,564.5 L1184.9,562.6 L1185.6,565.5 L1186.3,568.0 L1187.0,569.0 L1187.7,561.7 L1188.4,564.0 L1189.1,566.4 L1189.8,568.1 L1190.5,565.9 L1191.2,563.7 L1191.9,565.7 L1192.6,565.1 L1193.3,564.7 L1194.0,563.7 L1194.7,565.8 L1195.4,565.7 L1196.1,564.9 L1196.8,564.7 L1197.5,562.6 L1198.2,564.2 L1198.9,567.4 L1199.6,564.7 L1200.3,562.3 L1201.0,569.1 L1201.7,566.1 L1202.4,569.1 L1203.1,565.2 L1203.8,564.2 L1204.5,562.3 L1205.2,567.6 L1205.9,570.0 L1206.6,563.5 L1207.3,563.9 L1208.0,566.3 L1208.7,563.5 L1209.4,564.6 L1210.1,564.4 L1210.8,565.5 L1211.5,567.2 L1212.2,565.2 L1212.9,566.9 L1213.6,564.3 L1214.3,565.7 L1215.0,561.0 L1215.7,562.3 L1216.4,566.6 L1217.1,564.0 L1217.8,566.2 L1218.5,566.2 L1219.2,567.7 L1219.9,566.7 L1220.6,567.1 L1221.3,564.9 L1222.0,563.8 L1222.7,563.7 L1223.4,564.2 L1224.1,563.0 L1224.8,564.1 L1225.5,564.9 L1226.2,565.6 L1226.9,564.5 L1227.6,561.4 L1228.3,565.0 L1229.0,565.6 L1229.7,567.2 L1230.4,566.2 L1231.1,563.9 L1231.8,563.8 L1232.5,569.0 L1233.2,566.6 L1233.9,568.7 L1234.6,569.2 L1235.3,563.6 L1236.0,565.9 L1236.7,564.1 L1237.4,570.2 L1238.1,566.2 L1238.8,565.5 L1239.5,565.5 L1240.2,562.3 L1240.9,564.8 L1241.6,563.7 L1242.3,565.4 L1243.0,564.3 L1243.7,566.3 L1244.4,566.7 L1245.1,565.8 L1245.8,565.8 L1246.5,565.3 L1247.2,564.3 L1247.9,564.9 L1248.6,562.5 L1249.3,565.9 L1250.0,565.2 L1250.7,566.3 L1251.4,562.6 L1252.1,566.9 L1252.8,563.7 L1253.5,563.8 L1254.2,564.8 L1254.9,564.1 L1255.6,565.7 L1256.3,564.1 L1257.0,563.1 L1257.7,563.6 L1258.4,567.7 L1259.1,569.3 L1259.8,563.0 L1260.5,565.2 L1261.2,562.2 L1261.9,568.6 L1262.6,562.9 L1263.3,566.1 L1264.0,566.2 L1264.7,562.4 L1265.4,565.8 L1266.1,567.1 L1266.8,566.1 L1267.5,565.7 L1268.2,567.0 L1268.9,572.4 L1269.6,565.9 L1270.3,565.0 L1271.0,566.4 L1271.7,563.4 L1272.4,566.7 L1273.1,564.3 L1273.8,563.1 L1274.5,565.9 L1275.2,568.5 L1275.9,567.1 L1276.6,564.2 L1277.3,566.6 L1278.0,564.4 L1278.7,560.3 L1279.4,565.4 L1280.1,560.8 L1280.8,565.6 L1281.5,563.3 L1282.2,563.9 L1282.9,562.4 L1283.6,562.8 L1284.3,563.4 L1285.0,566.8 L1285.7,568.5 L1286.4,565.2 L1287.1,567.4 L1287.8,564.8 L1288.5,561.6 L1289.2,565.6 L1289.9,566.1 L1290.6,564.4 L1291.3,565.9 L1292.0,566.4 L1292.7,563.6 L1293.4,562.4 L1294.1,564.9 L1294.8,564.9 L1295.5,564.6 L1296.2,567.2 L1296.9,568.6 L1297.6,564.5 L1298.3,566.6 L1299.0,567.1 L1299.7,566.7 L1300.4,567.3 L1301.1,564.6 L1301.8,566.7 L1302.5,569.2 L1303.2,566.8 L1303.9,564.1 L1304.6,566.5 L1305.3,567.7 L1306.0,566.0 L1306.7,564.2 L1307.4,568.3 L1308.1,562.9 L1308.8,566.3 L1309.5,565.3 L1310.2,563.0 L1310.9,567.7 L1311.6,566.0 L1312.3,563.1 L1313.0,566.5 L1313.7,564.5 L1314.4,563.8 L1315.1,564.0 L1315.8,565.8 L1316.5,566.5 L1317.2,565.6 L1317.9,565.4 L1318.6,566.2 L1319.3,564.9 L1320.0,567.6 L1320.7,565.6 L1321.4,565.9 L1322.1,566.4 L1322.8,563.3 L1323.5,564.0 L1324.2,568.3 L1324.9,566.0 L1325.6,564.8 L1326.3,566.0 L1327.0,564.4 L1327.7,565.9 L1328.4,564.0 L1329.1,565.8 L1329.8,562.3 L1330.5,567.9 L1331.2,564.3 L1331.9,562.3 L1332.6,564.9 L1333.3,564.6 L1334.0,565.6 L1334.7,563.1 L1335.4,566.1 L1336.1,572.3 L1336.8,562.9 L1337.5,566.0 L1338.2,564.7 L1338.9,565.7 L1339.6,561.8 L1340.3,563.1 L1341.0,566.2 L1341.7,565.2 L1342.4,568.4 L1343.1,563.9 L1343.8,565.6 L1344.5,570.9 L1345.2,563.8 L1345.9,563.6 L1346.6,565.2 L1347.3,565.2 L1348.0,566.9 L1348.7,565.5 L1349.4,563.8 L1350.1,565.7 L1350.8,572.9 L1351.5,567.7 L1352.2,559.9 L1352.9,565.0 L1353.6,563.6 L1354.3,566.5 L1355.0,564.9 L1355.7,569.0 L1356.4,567.1 L1357.1,567.0 L1357.8,565.6 L1358.5,572.0 L1359.2,565.9 L1359.9,567.7 L1360.6,566.3 L1361.3,564.6 L1362.0,567.7 L1362.7,565.6 L1363.4,565.1 L1364.1,563.7 L1364.8,564.2 L1365.5,564.0 L1366.2,559.9 L1366.9,567.2 L1367.6,566.3 L1368.3,564.8 L1369.0,567.3 L1369.7,566.1 L1370.4,566.0 L1371.1,560.5 L1371.8,564.8 L1372.5,566.3 L1373.2,568.3 L1373.9,568.8 L1374.6,568.0 L1375.3,563.0 L1376.0,561.0 L1376.7,566.3 L1377.4,565.3 L1378.1,567.1 L1378.8,565.0 L1379.5,565.7 L1380.2,564.8 L1380.9,566.1 L1381.6,564.4 L1382.3,565.9 L1383.0,566.1 L1383.7,565.0 L1384.4,565.9 L1385.1,565.2 L1385.8,566.7 L1386.5,566.2 L1387.2,564.2 L1387.9,564.1 L1388.6,568.6 L1389.3,565.1 L1390.0,567.2 L1390.7,571.5 L1391.4,564.2 L1392.1,563.8 L1392.8,565.5 L1393.5,565.7 L1394.2,566.4 L1394.9,562.8 L1395.6,564.1 L1396.3,565.1 L1397.0,568.3 L1397.7,560.8 L1398.4,566.1 L1399.1,564.3 L1399.8,566.1 L1400.5,564.4 L1401.2,566.0 L1401.9,568.3 L1402.6,566.0 L1403.3,566.1 L1404.0,566.0 L1404.7,563.9 L1405.4,566.4 L1406.1,576.8 L1406.8,563.8 L1407.5,565.3 L1408.2,564.9 L1408.9,566.8 L1409.6,565.3 L1410.3,569.5 L1411.0,568.2 L1411.7,567.3 L1412.4,567.8 L1413.1,566.6 L1413.8,565.2 L1414.5,564.6 L1415.2,564.9 L1415.9,567.3 L1416.6,565.7 L1417.3,562.6 L1418.0,565.4 L1418.7,562.8 L1419.4,565.8 L1420.1,563.2 L1420.8,563.1 L1421.5,565.7 L1422.2,565.4 L1422.9,562.4 L1423.6,567.0 L1424.3,569.7 L1425.0,562.8 L1425.7,569.1 L1426.4,564.3 L1427.1,564.7 L1427.8,565.3 L1428.5,562.9 L1429.2,568.2 L1429.9,566.6 L1430.6,558.0 L1431.3,565.2 L1432.0,562.9 L1432.7,565.1 L1433.4,567.6 L1434.1,562.6 L1434.8,565.0 L1435.5,566.2 L1436.2,567.9 L1436.9,568.5 L1437.6,565.1 L1438.3,564.6 L1439.0,558.4 L1439.7,565.4 L1440.4,565.5 L1441.1,568.2 L1441.8,569.3 L1442.5,566.7 L1443.2,565.9 L1443.9,567.4 L1444.6,562.8 L1445.3,566.3 L1446.0,564.4 L1446.7,571.0 L1447.4,567.9 L1448.1,566.8 L1448.8,566.2 L1449.5,562.0 L1450.2,568.1 L1450.9,569.9 L1451.6,565.5 L1452.3,568.2 L1453.0,568.4 L1453.7,564.2 L1454.4,568.9 L1455.1,569.7 L1455.8,567.8 L1456.5,567.3 L1457.2,569.0 L1457.9,564.8 L1458.6,567.9 L1459.3,569.8 L1460.0,565.7 L1460.7,573.7 L1461.4,567.5 L1462.1,562.5 L1462.8,568.4 L1463.5,566.9 L1464.2,569.4 L1464.9,568.6 L1465.6,570.1 L1466.3,568.1 L1467.0,570.2 L1467.7,576.0 L1468.4,576.1 L1469.1,572.4 L1469.8,570.9 L1470.5,570.1 L1471.2,568.9 L1471.9,573.4 L1472.6,572.9 L1473.3,571.4 L1474.0,572.6 L1474.7,570.6 L1475.4,570.9 L1476.1,571.5 L1476.8,573.8 L1477.5,573.9 L1478.2,572.1 L1478.9,568.5 L1479.6,575.2 L1480.3,574.2 L1481.0,575.9 L1481.7,573.6 L1482.4,574.0 L1483.1,575.2 L1483.8,574.3 L1484.5,576.0 L1485.2,572.2 L1485.9,577.3 L1486.6,573.2 L1487.3,574.5 L1488.0,572.2 L1488.7,576.0 L1489.4,577.3 L1490.1,577.0 L1490.8,576.6 L1491.5,572.1 L1492.2,573.6 L1492.9,574.3 L1493.6,573.4 L1494.3,577.3 L1495.0,575.6 L1495.7,575.3 L1496.4,576.3 L1497.1,573.7 L1497.8,573.9 L1498.5,574.1 L1499.2,576.8 L1499.9,576.6 L1500.6,577.2 L1501.3,578.2 L1502.0,574.0 L1502.7,577.1 L1503.4,577.0 L1504.1,574.6 L1504.8,576.3 L1505.5,579.2 L1506.2,579.6 L1506.9,580.0 L1507.6,578.8 L1508.3,578.9 L1509.0,581.4 L1509.7,578.5 L1510.4,581.5 L1511.1,583.6 L1511.8,582.2 L1512.5,582.8 L1513.2,584.4 L1513.9,586.2 L1514.6,586.9 L1515.3,587.5 L1516.0,588.9 L1516.7,587.0 L1517.4,588.8 L1518.1,591.0 L1518.8,590.4 L1519.5,590.6 L1520.2,591.5 L1520.9,592.7 L1521.6,594.5 L1522.3,594.1 L1523.0,596.6 L1523.7,599.4 L1524.4,597.6 L1525.1,600.3 L1525.8,599.7 L1526.5,598.6 L1527.2,600.5 L1527.9,600.4 L1528.6,603.5 L1529.3,601.8 L1530.0,605.9 L1530.7,605.8 L1531.4,603.6 L1532.1,608.0 L1532.8,609.9 L1533.5,608.2 L1534.2,611.3 L1534.9,609.3 L1535.6,612.7 L1536.3,611.9 L1537.0,615.4 L1537.7,614.4 L1538.4,614.9 L1539.1,619.2 L1539.8,622.3 L1540.5,621.1 L1541.2,623.8 L1541.9,624.6 L1542.6,625.7 L1543.3,628.0 L1544.0,630.3 L1544.7,629.7 L1545.4,632.6 L1546.1,634.2 L1546.8,635.0 L1547.5,638.5 L1548.2,640.8 L1548.9,641.7 L1549.6,645.4 L1550.3,647.0 L1551.0,649.5 L1551.7,652.9 L1552.4,655.1 L1553.1,657.9 L1553.8,661.4 L1554.5,664.3 L1555.2,667.2 L1555.9,669.3 L1556.6,672.5 L1557.3,677.4 L1558.0,680.3 L1558.7,685.0 L1559.4,688.7 L1560.1,693.5 L1560.8,697.3 L1561.5,702.7 L1562.2,703.3 L1562.9,709.2 L1563.6,712.4 L1564.3,716.3 L1565.0,718.2 L1565.7,722.1 L1566.4,725.3 L1567.1,729.2 L1567.8,733.9 L1568.5,736.6 L1569.2,741.3 L1569.9,745.6 L1570.6,750.8 L1571.3,755.4 L1572.0,760.1 L1572.7,765.4 L1573.4,770.6 L1574.1,776.5 L1574.8,780.2 L1575.5,785.7 L1576.2,791.3 L1576.9,794.8 L1577.6,799.9 L1578.3,805.6 L1579.0,811.4 L1579.7,817.9 L1580.4,822.4 L1581.1,828.6 L1581.8,833.7 L1582.5,838.4 L1583.2,844.0 L1583.9,850.9 L1584.6,855.4 L1585.3,859.2 L1586.0,865.4 L1586.7,867.9 L1587.4,873.6 L1588.1,878.1 L1588.8,881.2 L1589.5,884.9 L1590.2,889.4 L1590.9,891.6 L1591.6,895.3 L1592.3,896.6 L1593.0,900.8 L1593.7,901.5 L1594.4,900.5 L1595.1,898.8 L1595.8,898.6 L1596.5,894.9 L1597.2,893.9 L1597.9,891.6 L1598.6,889.5 L1599.3,885.8 L1600.0,884.1 L1600.7,879.8 L1601.4,875.8 L1602.1,872.8 L1602.8,868.1 L1603.5,861.8 L1604.2,855.5 L1604.9,849.4 L1605.6,842.1 L1606.3,834.9 L1607.0,827.9 L1607.7,818.3 L1608.4,807.6 L1609.1,795.9 L1609.8,783.8 L1610.5,773.0 L1611.2,762.5 L1611.9,751.4 L1612.6,741.2 L1613.3,731.9 L1614.0,720.6 L1614.7,709.9 L1615.4,700.8 L1616.1,689.8 L1616.8,679.2 L1617.5,669.5 L1618.2,657.5 L1618.9,645.3 L1619.6,632.1 L1620.3,617.2 L1621.0,602.0 L1621.7,587.2 L1622.4,571.8 L1623.1,556.5 L1623.8,538.5 L1624.5,520.3 L1625.2,503.3 L1625.9,484.9 L1626.6,470.2 L1627.3,455.5 L1628.0,441.3 L1628.7,428.5 L1629.4,419.2 L1630.1,410.6 L1630.8,401.9 L1631.5,391.7 L1632.2,381.4 L1632.9,370.6 L1633.6,358.7 L1634.3,349.9 L1635.0,340.4 L1635.7,332.0 L1636.4,324.9 L1637.1,323.2 L1637.8,313.1 L1638.5,306.2 L1639.2,301.5 L1639.9,296.0 L1640.6,290.9 L1641.3,286.0 L1642.0,281.2 L1642.7,278.4 L1643.4,274.2 L1644.1,271.8 L1644.8,269.4 L1645.5,267.7 L1646.2,267.7 L1646.9,266.6 L1647.6,264.6 L1648.3,263.7 L1649.0,264.2 L1649.7,267.1 L1650.4,265.2 L1651.1,265.4 L1651.8,265.0 L1652.5,270.7 L1653.2,267.3 L1653.9,266.6 L1654.6,270.9 L1655.3,272.8 L1656.0,272.4 L1656.7,275.6 L1657.4,277.8 L1658.1,280.8 L1658.8,283.6 L1659.5,286.3 L1660.2,290.1 L1660.9,293.3 L1661.6,295.0 L1662.3,298.7 L1663.0,300.1 L1663.7,302.9 L1664.4,306.0 L1665.1,308.4 L1665.8,311.4 L1666.5,313.3 L1667.2,315.9 L1667.9,318.3 L1668.6,321.4 L1669.3,324.3 L1670.0,327.0 L1670.7,330.7 L1671.4,333.1 L1672.1,335.4 L1672.8,340.6 L1673.5,342.1 L1674.2,345.1 L1674.9,349.5 L1675.6,352.9 L1676.3,354.8 L1677.0,359.0 L1677.7,363.1 L1678.4,368.0 L1679.1,371.3 L1679.8,374.9 L1680.5,379.2 L1681.2,383.8 L1681.9,386.6 L1682.6,391.1 L1683.3,394.7 L1684.0,400.4 L1684.7,404.0 L1685.4,407.4 L1686.1,410.5 L1686.8,414.5 L1687.5,416.7 L1688.2,421.3 L1688.9,423.9 L1689.6,427.3 L1690.3,430.9 L1691.0,434.4 L1691.7,438.2 L1692.4,441.5 L1693.1,444.6 L1693.8,447.3 L1694.5,451.2 L1695.2,453.9 L1695.9,457.6 L1696.6,459.5 L1697.3,461.5 L1698.0,465.3 L1698.7,469.2 L1699.4,471.0 L1700.1,473.2 L1700.8,476.2 L1701.5,478.3 L1702.2,480.6 L1702.9,482.4 L1703.6,484.8 L1704.3,487.0 L1705.0,488.7 L1705.7,490.4 L1706.4,493.1 L1707.1,495.6 L1707.8,497.3 L1708.5,499.2 L1709.2,501.0 L1709.9,504.3 L1710.6,504.4 L1711.3,506.8 L1712.0,509.2 L1712.7,509.3 L1713.4,511.0 L1714.1,513.2 L1714.8,515.3 L1715.5,515.4 L1716.2,516.8 L1716.9,517.9 L1717.6,517.7 L1718.3,521.5 L1719.0,521.1 L1719.7,520.5 L1720.4,523.4 L1721.1,522.6 L1721.8,524.5 L1722.5,526.7 L1723.2,526.5 L1723.9,530.0 L1724.6,527.6 L1725.3,530.8 L1726.0,532.0 L1726.7,534.1 L1727.4,534.2 L1728.1,534.0 L1728.8,534.6 L1729.5,535.1 L1730.2,537.5 L1730.9,535.6 L1731.6,532.6 L1732.3,537.8 L1733.0,538.9 L1733.7,538.8 L1734.4,543.0 L1735.1,539.5 L1735.8,541.5 L1736.5,542.1 L1737.2,543.2 L1737.9,543.5 L1738.6,544.0 L1739.3,545.4 L1740.0,548.2 L1740.7,544.7 L1741.4,543.0 L1742.1,545.8 L1742.8,543.8 L1743.5,544.5 L1744.2,544.7 L1744.9,549.1 L1745.6,548.0 L1746.3,547.8 L1747.0,550.2 L1747.7,546.1 L1748.4,544.2 L1749.1,547.4 L1749.8,547.9 L1750.5,550.8 L1751.2,552.6 L1751.9,546.6 L1752.6,553.6 L1753.3,552.1 L1754.0,551.0 L1754.7,550.3 L1755.4,554.2 L1756.1,550.1 L1756.8,549.2 L1757.5,550.5 L1758.2,547.9 L1758.9,551.4 L1759.6,550.5 L1760.3,551.4 L1761.0,551.6 L1761.7,549.1 L1762.4,553.6 L1763.1,549.5 L1763.8,553.1 L1764.5,548.7 L1765.2,552.4 L1765.9,550.3 L1766.6,552.1 L1767.3,550.9 L1768.0,548.2 L1768.7,550.3 L1769.4,552.6 L1770.1,551.6 L1770.8,550.0 L1771.5,548.9 L1772.2,551.3 L1772.9,552.6 L1773.6,551.9 L1774.3,551.7 L1775.0,554.9 L1775.7,555.2 L1776.4,555.4 L1777.1,551.8 L1777.8,553.8 L1778.5,553.4 L1779.2,551.2 L1779.9,555.6 L1780.6,554.2 L1781.3,553.2 L1782.0,556.8 L1782.7,555.7 L1783.4,555.9 L1784.1,556.7 L1784.8,555.8 L1785.5,552.2 L1786.2,553.9 L1786.9,556.6 L1787.6,553.4 L1788.3,555.0 L1789.0,555.7 L1789.7,557.7 L1790.4,571.6 L1791.1,556.9 L1791.8,553.1 L1792.5,557.1 L1793.2,554.8 L1793.9,555.2 L1794.6,558.1 L1795.3,556.6 L1796.0,554.4 L1796.7,558.2 L1797.4,555.4 L1798.1,557.1 L1798.8,553.2 L1799.5,556.1 L1800.2,554.4 L1800.9,554.5 L1801.6,552.8 L1802.3,560.4 L1803.0,557.4 L1803.7,557.0 L1804.4,558.7 L1805.1,556.5 L1805.8,559.4 L1806.5,554.3 L1807.2,557.3 L1807.9,556.2 L1808.6,558.0 L1809.3,557.5 L1810.0,547.6 L1810.7,553.8 L1811.4,555.5 L1812.1,558.8 L1812.8,558.3 L1813.5,547.9 L1814.2,553.8 L1814.9,552.6 L1815.6,556.6 L1816.3,557.2 L1817.0,556.7 L1817.7,558.6 L1818.4,557.7 L1819.1,555.8 L1819.8,556.5 L1820.5,558.4 L1821.2,558.4 L1821.9,558.2 L1822.6,562.6 L1823.3,557.9 L1824.0,558.7 L1824.7,556.6 L1825.4,557.9 L1826.1,559.6 L1826.8,559.7 L1827.5,558.4 L1828.2,559.5 L1828.9,558.9 L1829.6,555.3 L1830.3,552.8 L1831.0,563.3 L1831.7,560.6 L1832.4,559.0 L1833.1,555.9 L1833.8,553.3 L1834.5,561.8 L1835.2,554.0 L1835.9,558.7 L1836.6,561.0 L1837.3,559.7 L1838.0,560.9 L1838.7,559.3 L1839.4,564.1 L1840.1,557.7 L1840.8,557.1 L1841.5,560.2 L1842.2,562.4 L1842.9,559.6 L1843.6,561.8 L1844.3,558.8 L1845.0,557.6 L1845.7,562.5 L1846.4,562.9 L1847.1,562.8 L1847.8,559.1 L1848.5,557.8 L1849.2,557.8 L1849.9,559.6 L1850.6,561.2 L1851.3,561.1 L1852.0,557.4 L1852.7,560.5 L1853.4,560.2 L1854.1,560.4 L1854.8,560.2 L1855.5,559.9 L1856.2,561.4 L1856.9,560.5 L1857.6,560.7 L1858.3,559.0 L1859.0,561.1 L1859.7,560.1 L1860.4,556.4 L1861.1,561.3 L1861.8,559.9 L1862.5,562.2 L1863.2,560.2 L1863.9,560.3 L1864.6,560.9 L1865.3,560.5 L1866.0,559.7 L1866.7,557.2 L1867.4,564.1 L1868.1,557.6 L1868.8,560.0 L1869.5,560.6 L1870.2,561.4 L1870.9,561.8 L1871.6,562.2 L1872.3,563.2 L1873.0,561.4 L1873.7,566.4 L1874.4,558.9 L1875.1,561.3 L1875.8,560.2 L1876.5,559.9 L1877.2,561.5 L1877.9,559.0 L1878.6,559.6 L1879.3,559.7 L1880.0,562.4 L1880.7,562.1 L1881.4,558.8 L1882.1,563.1 L1882.8,561.6 L1883.5,560.5 L1884.2,561.6 L1884.9,560.9 L1885.6,558.6 L1886.3,561.3 L1887.0,560.9 L1887.7,560.8 L1888.4,560.5 L1889.1,564.5 L1889.8,562.7 L1890.5,563.1 L1891.2,560.2 L1891.9,553.8 L1892.6,560.9 L1893.3,561.9 L1894.0,560.8 L1894.7,561.1 L1895.4,560.9 L1896.1,562.1 L1896.8,559.7 L1897.5,559.9 L1898.2,560.3 L1898.9,561.9 L1899.6,559.4 L1900.3,561.3 L1901.0,563.0 L1901.7,561.7 L1902.4,559.9 L1903.1,560.5 L1903.8,561.9 L1904.5,562.6 L1905.2,563.3 L1905.9,561.5 L1906.6,559.2 L1907.3,564.5 L1908.0,562.4 L1908.7,562.6 L1909.4,562.4 L1910.1,559.9 L1910.8,561.2 L1911.5,562.4 L1912.2,563.8 L1912.9,562.0 L1913.6,555.9 L1914.3,561.4 L1915.0,562.6 L1915.7,564.4 L1916.4,563.3 L1917.1,566.7 L1917.8,564.7 L1918.5,554.7 L1919.2,563.8 L1919.9,559.4 L1920.6,563.6 L1921.3,563.2 L1922.0,561.0 L1922.7,563.2 L1923.4,562.9 L1924.1,561.2 L1924.8,561.9 L1925.5,561.6 L1926.2,562.5 L1926.9,561.3 L1927.6,563.2 L1928.3,558.5 L1929.0,561.6 L1929.7,558.9 L1930.4,561.2 L1931.1,563.2 L1931.8,562.2 L1932.5,562.0 L1933.2,558.9 L1933.9,565.2 L1934.6,560.1 L1935.3,563.9 L1936.0,559.3 L1936.7,563.4 L1937.4,562.6 L1938.1,560.6 L1938.8,562.7 L1939.5,563.7 L1940.2,560.0 L1940.9,562.1 L1941.6,561.6 L1942.3,558.6 L1943.0,562.0 L1943.7,559.9 L1944.4,564.9 L1945.1,560.7 L1945.8,565.6 L1946.5,553.1 L1947.2,566.1 L1947.9,563.4 L1948.6,563.2 L1949.3,563.9 L1950.0,564.1 L1950.7,565.1 L1951.4,565.7 L1952.1,561.7 L1952.8,560.0 L1953.5,557.3 L1954.2,561.7 L1954.9,563.9 L1955.6,563.2 L1956.3,562.7 L1957.0,561.8 L1957.7,561.2 L1958.4,561.9 L1959.1,563.2 L1959.8,559.1 L1960.5,563.9 L1961.2,559.7 L1961.9,559.9 L1962.6,561.3 L1963.3,561.8 L1964.0,560.5 L1964.7,560.3 L1965.4,562.1 L1966.1,560.4 L1966.8,567.2 L1967.5,561.7 L1968.2,561.3 L1968.9,561.5 L1969.6,560.5 L1970.3,557.8 L1971.0,562.1 L1971.7,563.1 L1972.4,559.7 L1973.1,562.6 L1973.8,560.2 L1974.5,562.5 L1975.2,563.3 L1975.9,563.5 L1976.6,563.4 L1977.3,561.2 L1978.0,564.3 L1978.7,561.7 L1979.4,563.3 L1980.1,564.0 L1980.8,562.0 L1981.5,560.1 L1982.2,563.8 L1982.9,560.2 L1983.6,560.9 L1984.3,560.5 L1985.0,568.7 L1985.7,562.3 L1986.4,558.3 L1987.1,564.1 L1987.8,566.6 L1988.5,566.1 L1989.2,561.6 L1989.9,562.8 L1990.6,563.6 L1991.3,564.4 L1992.0,562.7 L1992.7,560.6 L1993.4,564.1 L1994.1,563.9 L1994.8,560.1 L1995.5,562.0 L1996.2,563.2 L1996.9,562.7 L1997.6,563.7 L1998.3,564.2 L1999.0,563.7 L1999.7,562.5 L2000.4,560.1 L2001.1,563.9 L2001.8,565.4 L2002.5,556.6 L2003.2,562.7 L2003.9,562.7 L2004.6,565.5 L2005.3,565.5 L2006.0,563.4 L2006.7,564.1 L2007.4,561.3 L2008.1,563.9 L2008.8,561.2 L2009.5,562.5 L2010.2,566.5 L2010.9,561.9 L2011.6,558.7 L2012.3,561.2 L2013.0,560.5 L2013.7,562.7 L2014.4,562.0 L2015.1,563.6 L2015.8,564.1 L2016.5,564.4 L2017.2,561.2 L2017.9,562.8 L2018.6,562.1 L2019.3,561.1 L2020.0,559.9 L2020.7,562.6 L2021.4,561.1 L2022.1,566.9 L2022.8,562.6 L2023.5,562.4 L2024.2,562.1 L2024.9,566.4 L2025.6,561.0 L2026.3,562.5 L2027.0,561.3 L2027.7,562.6 L2028.4,562.8 L2029.1,564.9 L2029.8,560.1 L2030.5,562.8 L2031.2,565.9 L2031.9,561.9 L2032.6,562.5 L2033.3,561.2 L2034.0,557.8 L2034.7,562.7 L2035.4,566.2 L2036.1,562.0 L2036.8,559.3 L2037.5,563.4 L2038.2,563.0 L2038.9,564.8 L2039.6,564.6 L2040.3,562.4 L2041.0,563.7 L2041.7,559.4 L2042.4,565.0 L2043.1,567.2 L2043.8,559.6 L2044.5,564.9 L2045.2,562.4 L2045.9,562.6 L2046.6,561.2 L2047.3,558.9 L2048.0,562.7 L2048.7,563.2 L2049.4,560.8 L2050.1,564.3 L2050.8,563.1 L2051.5,563.8 L2052.2,561.5 L2052.9,559.5 L2053.6,564.4 L2054.3,564.1 L2055.0,557.7 L2055.7,562.1 L2056.4,562.4 L2057.1,562.7 L2057.8,562.0 L2058.5,559.1 L2059.2,564.5 L2059.9,560.1 L2060.6,562.3 L2061.3,561.5 L2062.0,563.5 L2062.7,559.9 L2063.4,569.5 L2064.1,560.8 L2064.8,564.5 L2065.5,565.4 L2066.2,561.5 L2066.9,557.0 L2067.6,563.6 L2068.3,565.5 L2069.0,565.2 L2069.7,562.0 L2070.4,562.8 L2071.1,563.6 L2071.8,559.6 L2072.5,561.7 L2073.2,561.8 L2073.9,566.1 L2074.6,561.8 L2075.3,566.1 L2076.0,563.1 L2076.7,559.8 L2077.4,567.3 L2078.1,561.2 L2078.8,564.2 L2079.5,566.3 L2080.2,562.0 L2080.9,560.7 L2081.6,565.1 L2082.3,563.2 L2083.0,560.7 L2083.7,561.0 L2084.4,562.3 L2085.1,564.9 L2085.8,562.5 L2086.5,555.7 L2087.2,566.3 L2087.9,565.5 L2088.6,565.9 L2089.3,565.5 L2090.0,560.0 L2090.7,565.5 L2091.4,563.7 L2092.1,562.9 L2092.8,561.0 L2093.5,560.1 L2094.2,561.0 L2094.9,563.1 L2095.6,560.9 L2096.3,561.6 L2097.0,561.9 L2097.7,564.4 L2098.4,562.6 L2099.1,562.9 L2099.8,565.7 L2100.5,562.5 L2101.2,564.3 L2101.9,561.1 L2102.6,563.8 L2103.3,563.4 L2104.0,563.5 L2104.7,562.3 L2105.4,561.2 L2106.1,562.6 L2106.8,562.3 L2107.5,565.1 L2108.2,564.9 L2108.9,560.9 L2109.6,564.4 L2110.3,557.9 L2111.0,564.1 L2111.7,562.3 L2112.4,560.4 L2113.1,565.1 L2113.8,564.1 L2114.5,560.8 L2115.2,559.6 L2115.9,562.2 L2116.6,560.9 L2117.3,562.5 L2118.0,564.4 L2118.7,566.0 L2119.4,562.5 L2120.1,565.8 L2120.8,565.4 L2121.5,562.4 L2122.2,560.0 L2122.9,564.9 L2123.6,564.4 L2124.3,567.7 L2125.0,568.1 L2125.7,564.7 L2126.4,566.5 L2127.1,561.2 L2127.8,563.6 L2128.5,562.7 L2129.2,566.6 L2129.9,564.3 L2130.6,557.4 L2131.3,565.9 L2132.0,561.5 L2132.7,564.8 L2133.4,569.1 L2134.1,563.7 L2134.8,564.5 L2135.5,563.7 L2136.2,561.5 L2136.9,566.0 L2137.6,564.1 L2138.3,563.3 L2139.0,561.4 L2139.7,562.3 L2140.4,566.9 L2141.1,563.7 L2141.8,564.0 L2142.5,564.0 L2143.2,561.6 L2143.9,561.1 L2144.6,563.7 L2145.3,564.0 L2146.0,565.9 L2146.7,564.2 L2147.4,561.2 L2148.1,564.3 L2148.8,564.9 L2149.5,563.1 L2150.2,564.0 L2150.9,561.0 L2151.6,565.6 L2152.3,561.9 L2153.0,564.5 L2153.7,560.3 L2154.4,564.8 L2155.1,560.6 L2155.8,565.4 L2156.5,566.7 L2157.2,565.6 L2157.9,560.1 L2158.6,561.6 L2159.3,561.7 L2160.0,564.6 L2160.7,564.0 L2161.4,563.7 L2162.1,564.0 L2162.8,564.5 L2163.5,564.6 L2164.2,566.6 L2164.9,563.3 L2165.6,563.8 L2166.3,559.8 L2167.0,560.9 L2167.7,562.1 L2168.4,561.1 L2169.1,563.8 L2169.8,565.4 L2170.5,562.6 L2171.2,562.5 L2171.9,562.4 L2172.6,563.7 L2173.3,562.4" fill="none" stroke="#111" stroke-width="3.2" stroke-linejoin="round"/>
<path d="M1450.2,564.0 L1450.9,564.1 L1451.6,564.2 L1452.3,564.3 L1453.0,564.3 L1453.7,564.4 L1454.4,564.5 L1455.1,564.6 L1455.8,564.7 L1456.5,564.8 L1457.2,564.9 L1457.9,565.0 L1458.6,565.1 L1459.3,565.2 L1460.0,565.3 L1460.7,565.5 L1461.4,565.7 L1462.1,565.8 L1462.8,566.0 L1463.5,566.1 L1464.2,566.3 L1464.9,566.5 L1465.6,566.7 L1466.3,566.9 L1467.0,567.1 L1467.7,567.3 L1468.4,567.6 L1469.1,567.8 L1469.8,568.1 L1470.5,568.4 L1471.2,568.7 L1471.9,568.9 L1472.6,569.2 L1473.3,569.5 L1474.0,569.7 L1474.7,570.0 L1475.4,570.2 L1476.1,570.4 L1476.8,570.6 L1477.5,570.7 L1478.2,570.9 L1478.9,571.0 L1479.6,571.1 L1480.3,571.2 L1481.0,571.3 L1481.7,571.4 L1482.4,571.5 L1483.1,571.6 L1483.8,571.7 L1484.5,571.8 L1485.2,571.9 L1485.9,571.9 L1486.6,572.0 L1487.3,572.0 L1488.0,572.1 L1488.7,572.1 L1489.4,572.2 L1490.1,572.2 L1490.8,572.3 L1491.5,572.3 L1492.2,572.4 L1492.9,572.4 L1493.6,572.5 L1494.3,572.5 L1495.0,572.6 L1495.7,572.7 L1496.4,572.7 L1497.1,572.8 L1497.8,573.0 L1498.5,573.1 L1499.2,573.2 L1499.9,573.4 L1500.6,573.5 L1501.3,573.7 L1502.0,573.9 L1502.7,574.0 L1503.4,574.3 L1504.1,574.5 L1504.8,574.9 L1505.5,575.2 L1506.2,575.6 L1506.9,576.1 L1507.6,576.6 L1508.3,577.2 L1509.0,577.9 L1509.7,578.6 L1510.4,579.4 L1511.1,580.2 L1511.8,581.1 L1512.5,582.0 L1513.2,582.9 L1513.9,583.8 L1514.6,584.8 L1515.3,585.7 L1516.0,586.6 L1516.7,587.4 L1517.4,588.3 L1518.1,589.1 L1518.8,589.9 L1519.5,590.7 L1520.2,591.4 L1520.9,592.2 L1521.6,593.0 L1522.3,593.7 L1523.0,594.5 L1523.7,595.2 L1524.4,596.0 L1525.1,596.8 L1525.8,597.6 L1526.5,598.4 L1527.2,599.2 L1527.9,600.0 L1528.6,600.9 L1529.3,601.7 L1530.0,602.6 L1530.7,603.6 L1531.4,604.6 L1532.1,605.6 L1532.8,606.7 L1533.5,607.8 L1534.2,608.9 L1534.9,610.1 L1535.6,611.3 L1536.3,612.5 L1537.0,613.8 L1537.7,615.2 L1538.4,616.5 L1539.1,617.9 L1539.8,619.3 L1540.5,620.8 L1541.2,622.2 L1541.9,623.7 L1542.6,625.2 L1543.3,626.8 L1544.0,628.4 L1544.7,630.1 L1545.4,631.8 L1546.1,633.7 L1546.8,635.6 L1547.5,637.7 L1548.2,639.9 L1548.9,642.1 L1549.6,644.5 L1550.3,647.0 L1551.0,649.6 L1551.7,652.2 L1552.4,655.0 L1553.1,657.8 L1553.8,660.7 L1554.5,663.7 L1555.2,666.8 L1555.9,669.9 L1556.6,673.3 L1557.3,676.9 L1558.0,680.8 L1558.7,684.9 L1559.4,689.2 L1560.1,693.6 L1560.8,697.9 L1561.5,702.0 L1562.2,705.7 L1562.9,709.2 L1563.6,712.5 L1564.3,715.7 L1565.0,718.9 L1565.7,722.1 L1566.4,725.4 L1567.1,728.9 L1567.8,732.7 L1568.5,736.8 L1569.2,741.2 L1569.9,745.8 L1570.6,750.5 L1571.3,755.4 L1572.0,760.4 L1572.7,765.5 L1573.4,770.5 L1574.1,775.4 L1574.8,780.5 L1575.5,785.5 L1576.2,790.6 L1576.9,795.8 L1577.6,801.0 L1578.3,806.2 L1579.0,811.4 L1579.7,816.7 L1580.4,822.3 L1581.1,828.0 L1581.8,833.8 L1582.5,839.6 L1583.2,845.1 L1583.9,850.4 L1584.6,855.3 L1585.3,859.8 L1586.0,864.2 L1586.7,868.6 L1587.4,873.1 L1588.1,877.4 L1588.8,881.6 L1589.5,885.4 L1590.2,889.0 L1590.9,892.2 L1591.6,894.9 L1592.3,897.0 L1593.0,898.3 L1593.7,898.9 L1594.4,898.9 L1595.1,898.3 L1595.8,897.3 L1596.5,895.8 L1597.2,894.0 L1597.9,891.7 L1598.6,889.2 L1599.3,886.4 L1600.0,883.3 L1600.7,880.0 L1601.4,876.3 L1602.1,872.1 L1602.8,867.3 L1603.5,861.9 L1604.2,855.9 L1604.9,849.4 L1605.6,842.5 L1606.3,835.1 L1607.0,827.2 L1607.7,818.1 L1608.4,807.5 L1609.1,795.8 L1609.8,783.8 L1610.5,772.6 L1611.2,762.1 L1611.9,751.6 L1612.6,741.2 L1613.3,730.8 L1614.0,720.4 L1614.7,710.0 L1615.4,699.9 L1616.1,689.8 L1616.8,679.7 L1617.5,669.2 L1618.2,658.0 L1618.9,645.5 L1619.6,631.9 L1620.3,617.3 L1621.0,602.3 L1621.7,587.5 L1622.4,572.1 L1623.1,555.9 L1623.8,538.8 L1624.5,520.6 L1625.2,502.3 L1625.9,485.1 L1626.6,469.5 L1627.3,454.8 L1628.0,441.4 L1628.7,429.2 L1629.4,419.0 L1630.1,410.3 L1630.8,401.5 L1631.5,391.6 L1632.2,380.9 L1632.9,369.9 L1633.6,359.2 L1634.3,349.2 L1635.0,340.4 L1635.7,332.3 L1636.4,325.1 L1637.1,318.6 L1637.8,312.6 L1638.5,307.0 L1639.2,301.5 L1639.9,296.1 L1640.6,291.0 L1641.3,286.2 L1642.0,281.9 L1642.7,278.0 L1643.4,274.7 L1644.1,272.0 L1644.8,269.7 L1645.5,267.8 L1646.2,266.2 L1646.9,264.9 L1647.6,263.9 L1648.3,263.2 L1649.0,262.7 L1649.7,262.5 L1650.4,262.6 L1651.1,263.1 L1651.8,263.8 L1652.5,264.8 L1653.2,266.0 L1653.9,267.4 L1654.6,269.0 L1655.3,270.7 L1656.0,272.6 L1656.7,275.0 L1657.4,277.7 L1658.1,280.7 L1658.8,283.9 L1659.5,287.0 L1660.2,290.0 L1660.9,292.8 L1661.6,295.4 L1662.3,298.0 L1663.0,300.6 L1663.7,303.2 L1664.4,305.8 L1665.1,308.4 L1665.8,311.0 L1666.5,313.7 L1667.2,316.4 L1667.9,319.2 L1668.6,322.0 L1669.3,324.8 L1670.0,327.7 L1670.7,330.5 L1671.4,333.5 L1672.1,336.4 L1672.8,339.4 L1673.5,342.5 L1674.2,345.7 L1674.9,348.9 L1675.6,352.4 L1676.3,356.0 L1677.0,359.7 L1677.7,363.5 L1678.4,367.5 L1679.1,371.4 L1679.8,375.3 L1680.5,379.2 L1681.2,383.2 L1681.9,387.3 L1682.6,391.3 L1683.3,395.4 L1684.0,399.3 L1684.7,403.2 L1685.4,406.9 L1686.1,410.6 L1686.8,414.2 L1687.5,417.7 L1688.2,421.2 L1688.9,424.6 L1689.6,428.0 L1690.3,431.3 L1691.0,434.6 L1691.7,437.9 L1692.4,441.2 L1693.1,444.5 L1693.8,447.7 L1694.5,450.9 L1695.2,454.0 L1695.9,457.0 L1696.6,460.0 L1697.3,462.8 L1698.0,465.5 L1698.7,468.2 L1699.4,470.8 L1700.1,473.3 L1700.8,475.7 L1701.5,478.1 L1702.2,480.4 L1702.9,482.6 L1703.6,484.8 L1704.3,486.9 L1705.0,489.0 L1705.7,491.0 L1706.4,493.0 L1707.1,494.9 L1707.8,496.8 L1708.5,498.7 L1709.2,500.5 L1709.9,502.3 L1710.6,504.0 L1711.3,505.7 L1712.0,507.3 L1712.7,508.9 L1713.4,510.4 L1714.1,511.9 L1714.8,513.3 L1715.5,514.7 L1716.2,516.0 L1716.9,517.3 L1717.6,518.5 L1718.3,519.7 L1719.0,520.8 L1719.7,521.9 L1720.4,523.0 L1721.1,524.1 L1721.8,525.1 L1722.5,526.1 L1723.2,527.0 L1723.9,527.9 L1724.6,528.8 L1725.3,529.7 L1726.0,530.5 L1726.7,531.3 L1727.4,532.1 L1728.1,532.9 L1728.8,533.6 L1729.5,534.4 L1730.2,535.1 L1730.9,535.8 L1731.6,536.4 L1732.3,537.1 L1733.0,537.7 L1733.7,538.4 L1734.4,539.0 L1735.1,539.6 L1735.8,540.2 L1736.5,540.8 L1737.2,541.3 L1737.9,541.9 L1738.6,542.4 L1739.3,542.8 L1740.0,543.3 L1740.7,543.7 L1741.4,544.1 L1742.1,544.4 L1742.8,544.8 L1743.5,545.1 L1744.2,545.4 L1744.9,545.7 L1745.6,545.9 L1746.3,546.2 L1747.0,546.4 L1747.7,546.6 L1748.4,546.9 L1749.1,547.1 L1749.8,547.3 L1750.5,547.5 L1751.2,547.6 L1751.9,547.8 L1752.6,548.0 L1753.3,548.2 L1754.0,548.3 L1754.7,548.5 L1755.4,548.6 L1756.1,548.8 L1756.8,548.9 L1757.5,549.1 L1758.2,549.2 L1758.9,549.4 L1759.6,549.5 L1760.3,549.6 L1761.0,549.8 L1761.7,549.9 L1762.4,550.1 L1763.1,550.2 L1763.8,550.3 L1764.5,550.4 L1765.2,550.6 L1765.9,550.7 L1766.6,550.8 L1767.3,550.9 L1768.0,551.1 L1768.7,551.2 L1769.4,551.3 L1770.1,551.4 L1770.8,551.5 L1771.5,551.6 L1772.2,551.7 L1772.9,551.8 L1773.6,551.9 L1774.3,552.0 L1775.0,552.1 L1775.7,552.2 L1776.4,552.3 L1777.1,552.4 L1777.8,552.5 L1778.5,552.6 L1779.2,552.6 L1779.9,552.7 L1780.6,552.8 L1781.3,552.9 L1782.0,553.0 L1782.7,553.1 L1783.4,553.2 L1784.1,553.2 L1784.8,553.3 L1785.5,553.4 L1786.2,553.5 L1786.9,553.6 L1787.6,553.6 L1788.3,553.7 L1789.0,553.8 L1789.7,553.9 L1790.4,554.0 L1791.1,554.0 L1791.8,554.1 L1792.5,554.2 L1793.2,554.3 L1793.9,554.3 L1794.6,554.4 L1795.3,554.5 L1796.0,554.6 L1796.7,554.7 L1797.4,554.7 L1798.1,554.8 L1798.8,554.9 L1799.5,555.0" fill="none" stroke="#111" stroke-width="3.6" stroke-linejoin="round"/>
<line x1="1146" y1="562.2" x2="2149" y2="562.2" stroke="#d41c1c" stroke-width="5"/>
<path d="M1605.6,842.1 L1606.3,834.9 L1607.0,827.9 L1607.7,818.3 L1608.4,807.6 L1609.1,795.9 L1609.8,783.8 L1610.5,773.0 L1611.2,762.5 L1611.9,751.4 L1612.6,741.2 L1613.3,731.9 L1614.0,720.6 L1614.7,709.9 L1615.4,700.8 L1616.1,689.8 L1616.8,679.2 L1617.5,669.5 L1618.2,657.5 L1618.9,645.3 L1619.6,632.1 L1620.3,617.2 L1621.0,602.0 L1621.7,587.2 L1622.4,571.8 L1623.1,556.5 L1623.8,538.5 L1624.5,520.3 L1625.2,503.3 L1625.9,484.9 L1626.6,470.2 L1627.3,455.5 L1628.0,441.3 L1628.7,428.5 L1629.4,419.2 L1630.1,410.6 L1630.8,401.9 L1631.5,391.7 L1632.2,381.4 L1632.9,370.6 L1633.6,358.7 L1634.3,349.9 L1635.0,340.4 L1635.7,332.0 L1636.4,324.9 L1637.1,323.2 L1637.8,313.1 L1638.5,306.2 L1639.2,301.5 L1639.9,296.0" fill="none" stroke="#111" stroke-width="3.8"/>
<rect x="1121.3" y="169.5" width="1054.2" height="786.9" fill="none" stroke="#151515" stroke-width="5"/>
<line x1="1121.3" y1="958.9" x2="1121.3" y2="971.9" stroke="#888" stroke-width="2"/>
<line x1="1226.7" y1="958.9" x2="1226.7" y2="966.9" stroke="#888" stroke-width="2"/>
<line x1="1332.1" y1="958.9" x2="1332.1" y2="971.9" stroke="#888" stroke-width="2"/>
<line x1="1437.6" y1="958.9" x2="1437.6" y2="966.9" stroke="#888" stroke-width="2"/>
<line x1="1543.0" y1="958.9" x2="1543.0" y2="971.9" stroke="#888" stroke-width="2"/>
<line x1="1648.4" y1="958.9" x2="1648.4" y2="966.9" stroke="#888" stroke-width="2"/>
<line x1="1753.8" y1="958.9" x2="1753.8" y2="971.9" stroke="#888" stroke-width="2"/>
<line x1="1859.2" y1="958.9" x2="1859.2" y2="966.9" stroke="#888" stroke-width="2"/>
<line x1="1964.7" y1="958.9" x2="1964.7" y2="971.9" stroke="#888" stroke-width="2"/>
<line x1="2070.1" y1="958.9" x2="2070.1" y2="966.9" stroke="#888" stroke-width="2"/>
<line x1="2175.5" y1="958.9" x2="2175.5" y2="971.9" stroke="#888" stroke-width="2"/>
<text x="1129.7" y="1007.8" font-size="42" text-anchor="middle" fill="#111" textLength="80" lengthAdjust="spacingAndGlyphs">1.98</text>
<text x="1340.8" y="1007.8" font-size="42" text-anchor="middle" fill="#111" textLength="80" lengthAdjust="spacingAndGlyphs">1.99</text>
<text x="1550.8" y="1007.8" font-size="42" text-anchor="middle" fill="#111" textLength="80" lengthAdjust="spacingAndGlyphs">2.00</text>
<text x="1761.4" y="1007.8" font-size="42" text-anchor="middle" fill="#111" textLength="80" lengthAdjust="spacingAndGlyphs">2.01</text>
<text x="1972.4" y="1007.8" font-size="42" text-anchor="middle" fill="#111" textLength="80" lengthAdjust="spacingAndGlyphs">2.02</text>
<text x="2183.6" y="1007.8" font-size="42" text-anchor="middle" fill="#111" textLength="80" lengthAdjust="spacingAndGlyphs">2.03</text>
<text x="1614" y="1115.0" font-size="64" text-anchor="middle" fill="#111" textLength="248" lengthAdjust="spacingAndGlyphs">[g-factor]</text>
<text transform="translate(1098.4,531.0) rotate(-90)" x="0" y="0" font-size="60" text-anchor="middle" fill="#111" textLength="229.7" lengthAdjust="spacingAndGlyphs">intensity</text>
<text x="1911.8999999999999" y="252.6" font-size="63" fill="#111" textLength="191.5" lengthAdjust="spacingAndGlyphs">S-MoO</text>
<text x="2104.6" y="273.3" font-size="35" fill="#111">3-x</text>
<text x="1309.0" y="453.1" font-size="50" fill="#111">g<tspan x="1356.0">=</tspan><tspan x="1399.5" textLength="122.5" lengthAdjust="spacingAndGlyphs">2.003</tspan></text>
<line x1="1496" y1="475.5" x2="1576.2" y2="535.5" stroke="#0a7a5a" stroke-width="3.4"/>
<polygon points="1595.5,549.5 1568.3,546.2 1584.2,524.7" fill="#006f4a"/>
<rect x="1608.8" y="549.2" width="27.6" height="27.6" fill="#f45a36" stroke="#0c38a6" stroke-width="8.5"/>
<text x="1058.3" y="175.5" font-size="77" fill="#111">d</text>
<path d="M1124.0,1637.9 L1124.7,1637.2 L1125.4,1636.7 L1126.1,1632.4 L1126.8,1637.6 L1127.5,1632.7 L1128.2,1640.8 L1128.9,1638.0 L1129.6,1638.4 L1130.3,1638.4 L1131.0,1637.4 L1131.7,1635.8 L1132.4,1632.6 L1133.1,1638.9 L1133.8,1635.7 L1134.5,1639.2 L1135.2,1635.4 L1135.9,1635.8 L1136.6,1636.2 L1137.3,1637.3 L1138.0,1636.3 L1138.7,1636.1 L1139.4,1635.6 L1140.1,1637.0 L1140.8,1634.2 L1141.5,1636.9 L1142.2,1639.3 L1142.9,1635.4 L1143.6,1636.7 L1144.3,1642.2 L1145.0,1634.9 L1145.7,1633.7 L1146.4,1636.0 L1147.1,1640.3 L1147.8,1640.7 L1148.5,1634.5 L1149.2,1634.0 L1149.9,1641.8 L1150.6,1635.7 L1151.3,1633.1 L1152.0,1638.8 L1152.7,1635.2 L1153.4,1637.4 L1154.1,1637.0 L1154.8,1640.4 L1155.5,1639.1 L1156.2,1634.6 L1156.9,1636.3 L1157.6,1638.8 L1158.3,1638.3 L1159.0,1636.1 L1159.7,1637.3 L1160.4,1633.7 L1161.1,1634.5 L1161.8,1633.6 L1162.5,1637.4 L1163.2,1635.8 L1163.9,1638.6 L1164.6,1637.1 L1165.3,1638.0 L1166.0,1636.7 L1166.7,1638.3 L1167.4,1636.7 L1168.1,1635.0 L1168.8,1639.1 L1169.5,1638.7 L1170.2,1641.2 L1170.9,1636.6 L1171.6,1635.7 L1172.3,1634.1 L1173.0,1629.5 L1173.7,1634.4 L1174.4,1637.8 L1175.1,1635.2 L1175.8,1631.9 L1176.5,1638.0 L1177.2,1633.8 L1177.9,1636.2 L1178.6,1636.0 L1179.3,1636.6 L1180.0,1637.8 L1180.7,1633.5 L1181.4,1636.4 L1182.1,1635.9 L1182.8,1639.1 L1183.5,1634.9 L1184.2,1640.0 L1184.9,1638.0 L1185.6,1640.0 L1186.3,1635.5 L1187.0,1638.4 L1187.7,1637.6 L1188.4,1634.0 L1189.1,1636.4 L1189.8,1636.0 L1190.5,1635.0 L1191.2,1635.4 L1191.9,1629.6 L1192.6,1636.0 L1193.3,1637.5 L1194.0,1635.4 L1194.7,1633.9 L1195.4,1638.9 L1196.1,1636.2 L1196.8,1636.9 L1197.5,1636.4 L1198.2,1635.9 L1198.9,1638.0 L1199.6,1635.9 L1200.3,1637.0 L1201.0,1634.1 L1201.7,1633.8 L1202.4,1636.2 L1203.1,1640.6 L1203.8,1637.2 L1204.5,1640.6 L1205.2,1637.8 L1205.9,1637.8 L1206.6,1635.8 L1207.3,1641.5 L1208.0,1640.3 L1208.7,1639.2 L1209.4,1635.7 L1210.1,1636.0 L1210.8,1639.5 L1211.5,1635.9 L1212.2,1638.7 L1212.9,1635.2 L1213.6,1638.1 L1214.3,1639.8 L1215.0,1638.5 L1215.7,1651.6 L1216.4,1637.2 L1217.1,1636.8 L1217.8,1636.9 L1218.5,1639.2 L1219.2,1639.1 L1219.9,1637.7 L1220.6,1634.5 L1221.3,1635.9 L1222.0,1637.5 L1222.7,1637.0 L1223.4,1634.3 L1224.1,1638.2 L1224.8,1641.9 L1225.5,1634.6 L1226.2,1637.1 L1226.9,1640.0 L1227.6,1636.1 L1228.3,1636.2 L1229.0,1637.3 L1229.7,1638.0 L1230.4,1636.2 L1231.1,1638.8 L1231.8,1633.3 L1232.5,1638.2 L1233.2,1637.7 L1233.9,1636.6 L1234.6,1637.7 L1235.3,1637.0 L1236.0,1639.5 L1236.7,1636.1 L1237.4,1636.9 L1238.1,1634.3 L1238.8,1634.8 L1239.5,1636.5 L1240.2,1634.0 L1240.9,1635.3 L1241.6,1634.4 L1242.3,1636.0 L1243.0,1637.2 L1243.7,1638.8 L1244.4,1633.2 L1245.1,1636.6 L1245.8,1638.6 L1246.5,1639.6 L1247.2,1639.7 L1247.9,1634.2 L1248.6,1636.0 L1249.3,1638.1 L1250.0,1638.8 L1250.7,1637.5 L1251.4,1637.5 L1252.1,1637.4 L1252.8,1635.5 L1253.5,1637.3 L1254.2,1638.5 L1254.9,1636.3 L1255.6,1639.2 L1256.3,1631.5 L1257.0,1636.4 L1257.7,1640.3 L1258.4,1638.7 L1259.1,1639.8 L1259.8,1637.3 L1260.5,1634.7 L1261.2,1636.0 L1261.9,1639.9 L1262.6,1633.5 L1263.3,1635.2 L1264.0,1633.7 L1264.7,1637.5 L1265.4,1636.2 L1266.1,1638.1 L1266.8,1635.4 L1267.5,1640.3 L1268.2,1638.3 L1268.9,1636.1 L1269.6,1635.1 L1270.3,1634.1 L1271.0,1637.3 L1271.7,1640.8 L1272.4,1636.7 L1273.1,1635.1 L1273.8,1636.9 L1274.5,1636.0 L1275.2,1635.3 L1275.9,1633.4 L1276.6,1636.9 L1277.3,1639.9 L1278.0,1639.4 L1278.7,1638.9 L1279.4,1637.5 L1280.1,1638.0 L1280.8,1639.0 L1281.5,1637.0 L1282.2,1637.6 L1282.9,1636.3 L1283.6,1639.2 L1284.3,1635.3 L1285.0,1638.4 L1285.7,1638.7 L1286.4,1638.7 L1287.1,1638.4 L1287.8,1636.2 L1288.5,1636.0 L1289.2,1642.4 L1289.9,1636.4 L1290.6,1634.9 L1291.3,1636.2 L1292.0,1635.9 L1292.7,1635.3 L1293.4,1637.8 L1294.1,1635.7 L1294.8,1637.6 L1295.5,1639.9 L1296.2,1640.4 L1296.9,1637.2 L1297.6,1639.1 L1298.3,1636.9 L1299.0,1641.7 L1299.7,1640.3 L1300.4,1639.3 L1301.1,1636.8 L1301.8,1636.7 L1302.5,1638.2 L1303.2,1637.1 L1303.9,1636.7 L1304.6,1638.5 L1305.3,1634.7 L1306.0,1633.3 L1306.7,1635.2 L1307.4,1634.9 L1308.1,1637.0 L1308.8,1635.5 L1309.5,1636.8 L1310.2,1633.2 L1310.9,1640.0 L1311.6,1637.9 L1312.3,1635.5 L1313.0,1637.8 L1313.7,1639.5 L1314.4,1638.8 L1315.1,1637.0 L1315.8,1638.3 L1316.5,1638.9 L1317.2,1634.8 L1317.9,1634.4 L1318.6,1636.0 L1319.3,1639.0 L1320.0,1640.0 L1320.7,1637.4 L1321.4,1640.1 L1322.1,1639.1 L1322.8,1637.0 L1323.5,1635.7 L1324.2,1635.9 L1324.9,1637.3 L1325.6,1639.9 L1326.3,1638.8 L1327.0,1634.6 L1327.7,1634.8 L1328.4,1638.7 L1329.1,1637.5 L1329.8,1635.3 L1330.5,1638.5 L1331.2,1639.8 L1331.9,1638.7 L1332.6,1637.3 L1333.3,1639.7 L1334.0,1636.4 L1334.7,1636.0 L1335.4,1635.4 L1336.1,1640.8 L1336.8,1641.2 L1337.5,1637.1 L1338.2,1638.3 L1338.9,1633.1 L1339.6,1638.9 L1340.3,1639.4 L1341.0,1638.5 L1341.7,1637.0 L1342.4,1636.1 L1343.1,1635.2 L1343.8,1632.1 L1344.5,1636.9 L1345.2,1635.5 L1345.9,1637.2 L1346.6,1644.1 L1347.3,1635.1 L1348.0,1636.2 L1348.7,1637.9 L1349.4,1637.4 L1350.1,1635.4 L1350.8,1635.7 L1351.5,1638.2 L1352.2,1637.6 L1352.9,1637.7 L1353.6,1636.8 L1354.3,1638.5 L1355.0,1637.3 L1355.7,1642.0 L1356.4,1636.2 L1357.1,1635.7 L1357.8,1640.3 L1358.5,1637.0 L1359.2,1635.6 L1359.9,1637.9 L1360.6,1632.6 L1361.3,1637.9 L1362.0,1637.1 L1362.7,1637.6 L1363.4,1635.5 L1364.1,1639.6 L1364.8,1637.7 L1365.5,1637.0 L1366.2,1637.8 L1366.9,1635.5 L1367.6,1636.8 L1368.3,1634.2 L1369.0,1634.9 L1369.7,1637.6 L1370.4,1637.3 L1371.1,1638.5 L1371.8,1635.8 L1372.5,1636.8 L1373.2,1635.7 L1373.9,1637.5 L1374.6,1638.6 L1375.3,1639.1 L1376.0,1638.1 L1376.7,1635.5 L1377.4,1637.4 L1378.1,1635.0 L1378.8,1633.3 L1379.5,1637.4 L1380.2,1637.2 L1380.9,1638.5 L1381.6,1638.6 L1382.3,1634.7 L1383.0,1635.3 L1383.7,1637.0 L1384.4,1637.2 L1385.1,1637.8 L1385.8,1632.8 L1386.5,1636.5 L1387.2,1638.3 L1387.9,1640.7 L1388.6,1634.6 L1389.3,1640.1 L1390.0,1636.5 L1390.7,1634.3 L1391.4,1639.6 L1392.1,1635.0 L1392.8,1634.8 L1393.5,1638.4 L1394.2,1639.0 L1394.9,1637.2 L1395.6,1635.6 L1396.3,1634.2 L1397.0,1637.2 L1397.7,1632.5 L1398.4,1634.2 L1399.1,1639.1 L1399.8,1638.2 L1400.5,1652.8 L1401.2,1637.8 L1401.9,1634.9 L1402.6,1634.1 L1403.3,1633.6 L1404.0,1638.4 L1404.7,1639.7 L1405.4,1635.1 L1406.1,1639.0 L1406.8,1637.1 L1407.5,1636.7 L1408.2,1633.3 L1408.9,1636.8 L1409.6,1638.7 L1410.3,1633.8 L1411.0,1636.2 L1411.7,1635.8 L1412.4,1634.0 L1413.1,1639.1 L1413.8,1637.2 L1414.5,1628.0 L1415.2,1639.0 L1415.9,1635.7 L1416.6,1643.4 L1417.3,1636.3 L1418.0,1635.0 L1418.7,1638.4 L1419.4,1637.9 L1420.1,1635.4 L1420.8,1635.5 L1421.5,1638.9 L1422.2,1637.8 L1422.9,1638.1 L1423.6,1639.0 L1424.3,1636.2 L1425.0,1639.8 L1425.7,1637.4 L1426.4,1638.8 L1427.1,1635.7 L1427.8,1638.9 L1428.5,1638.0 L1429.2,1642.2 L1429.9,1637.2 L1430.6,1640.4 L1431.3,1638.8 L1432.0,1640.6 L1432.7,1638.1 L1433.4,1638.6 L1434.1,1633.5 L1434.8,1635.3 L1435.5,1639.7 L1436.2,1638.6 L1436.9,1639.3 L1437.6,1637.3 L1438.3,1639.3 L1439.0,1637.2 L1439.7,1637.8 L1440.4,1642.1 L1441.1,1640.0 L1441.8,1637.2 L1442.5,1638.1 L1443.2,1638.5 L1443.9,1637.9 L1444.6,1638.0 L1445.3,1636.4 L1446.0,1639.3 L1446.7,1636.3 L1447.4,1636.5 L1448.1,1640.8 L1448.8,1641.8 L1449.5,1641.9 L1450.2,1639.2 L1450.9,1637.6 L1451.6,1640.1 L1452.3,1641.7 L1453.0,1639.1 L1453.7,1643.2 L1454.4,1635.9 L1455.1,1636.0 L1455.8,1642.3 L1456.5,1636.6 L1457.2,1638.1 L1457.9,1644.0 L1458.6,1640.0 L1459.3,1637.3 L1460.0,1640.8 L1460.7,1641.0 L1461.4,1640.2 L1462.1,1639.1 L1462.8,1639.7 L1463.5,1637.0 L1464.2,1641.8 L1464.9,1639.9 L1465.6,1638.6 L1466.3,1641.2 L1467.0,1642.3 L1467.7,1642.2 L1468.4,1642.9 L1469.1,1644.1 L1469.8,1641.4 L1470.5,1642.9 L1471.2,1643.3 L1471.9,1640.6 L1472.6,1645.3 L1473.3,1643.1 L1474.0,1645.0 L1474.7,1644.8 L1475.4,1643.0 L1476.1,1646.2 L1476.8,1646.7 L1477.5,1645.4 L1478.2,1640.0 L1478.9,1647.9 L1479.6,1645.3 L1480.3,1644.4 L1481.0,1644.7 L1481.7,1643.9 L1482.4,1645.3 L1483.1,1647.2 L1483.8,1644.1 L1484.5,1646.6 L1485.2,1645.2 L1485.9,1645.9 L1486.6,1645.8 L1487.3,1647.1 L1488.0,1648.5 L1488.7,1646.6 L1489.4,1648.4 L1490.1,1649.5 L1490.8,1644.0 L1491.5,1648.3 L1492.2,1646.3 L1492.9,1639.3 L1493.6,1648.8 L1494.3,1653.3 L1495.0,1645.9 L1495.7,1649.5 L1496.4,1649.1 L1497.1,1648.0 L1497.8,1652.5 L1498.5,1645.7 L1499.2,1644.7 L1499.9,1647.4 L1500.6,1645.9 L1501.3,1648.7 L1502.0,1647.2 L1502.7,1647.3 L1503.4,1648.6 L1504.1,1647.3 L1504.8,1645.8 L1505.5,1648.1 L1506.2,1650.8 L1506.9,1650.4 L1507.6,1651.9 L1508.3,1653.5 L1509.0,1652.9 L1509.7,1652.1 L1510.4,1651.9 L1511.1,1654.3 L1511.8,1652.4 L1512.5,1657.2 L1513.2,1657.5 L1513.9,1656.2 L1514.6,1658.9 L1515.3,1660.0 L1516.0,1661.6 L1516.7,1659.2 L1517.4,1660.8 L1518.1,1662.8 L1518.8,1673.5 L1519.5,1663.4 L1520.2,1665.7 L1520.9,1665.4 L1521.6,1668.1 L1522.3,1666.6 L1523.0,1668.3 L1523.7,1665.9 L1524.4,1669.9 L1525.1,1669.4 L1525.8,1672.1 L1526.5,1671.7 L1527.2,1674.3 L1527.9,1672.8 L1528.6,1672.4 L1529.3,1675.5 L1530.0,1674.5 L1530.7,1676.0 L1531.4,1675.5 L1532.1,1679.7 L1532.8,1680.1 L1533.5,1681.7 L1534.2,1682.1 L1534.9,1683.1 L1535.6,1686.0 L1536.3,1686.3 L1537.0,1690.4 L1537.7,1686.9 L1538.4,1689.9 L1539.1,1691.3 L1539.8,1691.4 L1540.5,1692.7 L1541.2,1695.7 L1541.9,1696.1 L1542.6,1698.5 L1543.3,1698.4 L1544.0,1700.0 L1544.7,1701.1 L1545.4,1704.0 L1546.1,1705.5 L1546.8,1706.6 L1547.5,1709.6 L1548.2,1711.4 L1548.9,1713.8 L1549.6,1717.0 L1550.3,1719.3 L1551.0,1721.6 L1551.7,1723.9 L1552.4,1726.2 L1553.1,1729.3 L1553.8,1732.3 L1554.5,1736.1 L1555.2,1738.1 L1555.9,1741.5 L1556.6,1745.1 L1557.3,1748.9 L1558.0,1753.1 L1558.7,1757.3 L1559.4,1761.0 L1560.1,1766.3 L1560.8,1770.0 L1561.5,1773.4 L1562.2,1777.1 L1562.9,1780.8 L1563.6,1787.2 L1564.3,1787.9 L1565.0,1790.3 L1565.7,1793.6 L1566.4,1796.8 L1567.1,1800.8 L1567.8,1803.8 L1568.5,1808.8 L1569.2,1812.6 L1569.9,1818.2 L1570.6,1822.5 L1571.3,1827.4 L1572.0,1833.6 L1572.7,1836.8 L1573.4,1841.3 L1574.1,1847.4 L1574.8,1851.2 L1575.5,1856.8 L1576.2,1864.5 L1576.9,1867.5 L1577.6,1873.1 L1578.3,1877.3 L1579.0,1883.7 L1579.7,1889.1 L1580.4,1893.6 L1581.1,1900.4 L1581.8,1906.9 L1582.5,1911.4 L1583.2,1916.5 L1583.9,1921.9 L1584.6,1927.0 L1585.3,1932.1 L1586.0,1936.9 L1586.7,1940.2 L1587.4,1944.8 L1588.1,1948.5 L1588.8,1953.1 L1589.5,1957.5 L1590.2,1959.8 L1590.9,1964.3 L1591.6,1967.1 L1592.3,1970.2 L1593.0,1961.6 L1593.7,1970.4 L1594.4,1972.6 L1595.1,1970.4 L1595.8,1968.3 L1596.5,1970.4 L1597.2,1965.1 L1597.9,1964.5 L1598.6,1961.3 L1599.3,1958.6 L1600.0,1954.5 L1600.7,1952.4 L1601.4,1947.9 L1602.1,1944.3 L1602.8,1938.6 L1603.5,1934.0 L1604.2,1926.9 L1604.9,1921.1 L1605.6,1914.1 L1606.3,1906.2 L1607.0,1899.7 L1607.7,1888.3 L1608.4,1879.1 L1609.1,1867.9 L1609.8,1856.2 L1610.5,1844.3 L1611.2,1834.5 L1611.9,1823.9 L1612.6,1813.3 L1613.3,1803.3 L1614.0,1791.4 L1614.7,1782.4 L1615.4,1771.8 L1616.1,1761.4 L1616.8,1751.4 L1617.5,1741.5 L1618.2,1731.6 L1618.9,1717.7 L1619.6,1703.1 L1620.3,1688.4 L1621.0,1674.2 L1621.7,1659.6 L1622.4,1643.6 L1623.1,1628.2 L1623.8,1612.1 L1624.5,1592.6 L1625.2,1573.7 L1625.9,1557.5 L1626.6,1541.8 L1627.3,1527.3 L1628.0,1513.3 L1628.7,1500.4 L1629.4,1491.0 L1630.1,1482.5 L1630.8,1473.2 L1631.5,1462.9 L1632.2,1452.9 L1632.9,1442.0 L1633.6,1430.4 L1634.3,1420.7 L1635.0,1411.5 L1635.7,1404.3 L1636.4,1397.0 L1637.1,1391.2 L1637.8,1384.0 L1638.5,1379.4 L1639.2,1373.2 L1639.9,1368.0 L1640.6,1362.2 L1641.3,1358.0 L1642.0,1353.4 L1642.7,1349.7 L1643.4,1346.6 L1644.1,1344.1 L1644.8,1344.8 L1645.5,1340.0 L1646.2,1338.0 L1646.9,1339.1 L1647.6,1337.4 L1648.3,1336.0 L1649.0,1339.2 L1649.7,1337.6 L1650.4,1338.1 L1651.1,1334.3 L1651.8,1336.4 L1652.5,1340.3 L1653.2,1339.4 L1653.9,1345.3 L1654.6,1340.8 L1655.3,1342.8 L1656.0,1344.6 L1656.7,1346.8 L1657.4,1349.5 L1658.1,1351.7 L1658.8,1355.3 L1659.5,1358.6 L1660.2,1362.1 L1660.9,1364.8 L1661.6,1367.2 L1662.3,1369.5 L1663.0,1372.1 L1663.7,1375.1 L1664.4,1376.9 L1665.1,1380.1 L1665.8,1383.0 L1666.5,1385.4 L1667.2,1389.0 L1667.9,1390.9 L1668.6,1394.2 L1669.3,1397.4 L1670.0,1399.7 L1670.7,1402.3 L1671.4,1404.6 L1672.1,1409.0 L1672.8,1410.7 L1673.5,1413.3 L1674.2,1418.7 L1674.9,1418.1 L1675.6,1423.6 L1676.3,1427.4 L1677.0,1430.9 L1677.7,1434.3 L1678.4,1439.3 L1679.1,1443.4 L1679.8,1447.4 L1680.5,1451.0 L1681.2,1454.8 L1681.9,1458.8 L1682.6,1463.7 L1683.3,1467.5 L1684.0,1470.9 L1684.7,1475.1 L1685.4,1478.1 L1686.1,1482.6 L1686.8,1486.7 L1687.5,1489.4 L1688.2,1492.8 L1688.9,1495.1 L1689.6,1498.2 L1690.3,1503.0 L1691.0,1506.0 L1691.7,1509.3 L1692.4,1512.9 L1693.1,1516.2 L1693.8,1519.7 L1694.5,1522.7 L1695.2,1526.0 L1695.9,1528.9 L1696.6,1531.1 L1697.3,1533.9 L1698.0,1537.5 L1698.7,1540.2 L1699.4,1542.6 L1700.1,1544.4 L1700.8,1547.2 L1701.5,1549.5 L1702.2,1552.5 L1702.9,1554.0 L1703.6,1555.9 L1704.3,1558.3 L1705.0,1560.9 L1705.7,1563.7 L1706.4,1564.5 L1707.1,1567.5 L1707.8,1568.4 L1708.5,1570.3 L1709.2,1570.6 L1709.9,1574.8 L1710.6,1575.6 L1711.3,1578.4 L1712.0,1579.0 L1712.7,1578.6 L1713.4,1582.7 L1714.1,1584.1 L1714.8,1584.3 L1715.5,1588.2 L1716.2,1588.5 L1716.9,1587.8 L1717.6,1590.8 L1718.3,1591.5 L1719.0,1592.6 L1719.7,1594.7 L1720.4,1594.5 L1721.1,1596.3 L1721.8,1600.3 L1722.5,1598.3 L1723.2,1599.1 L1723.9,1601.6 L1724.6,1600.0 L1725.3,1604.0 L1726.0,1603.1 L1726.7,1602.3 L1727.4,1604.5 L1728.1,1604.5 L1728.8,1607.2 L1729.5,1606.3 L1730.2,1608.7 L1730.9,1605.6 L1731.6,1610.8 L1732.3,1610.5 L1733.0,1611.1 L1733.7,1611.1 L1734.4,1612.7 L1735.1,1613.4 L1735.8,1612.9 L1736.5,1613.8 L1737.2,1615.4 L1737.9,1614.8 L1738.6,1611.0 L1739.3,1613.0 L1740.0,1615.0 L1740.7,1617.6 L1741.4,1616.9 L1742.1,1618.3 L1742.8,1619.3 L1743.5,1618.8 L1744.2,1616.6 L1744.9,1619.9 L1745.6,1616.4 L1746.3,1616.8 L1747.0,1618.5 L1747.7,1615.5 L1748.4,1622.6 L1749.1,1624.1 L1749.8,1619.8 L1750.5,1619.6 L1751.2,1616.7 L1751.9,1621.6 L1752.6,1619.5 L1753.3,1618.8 L1754.0,1618.6 L1754.7,1621.1 L1755.4,1621.0 L1756.1,1621.3 L1756.8,1620.6 L1757.5,1613.9 L1758.2,1624.6 L1758.9,1623.6 L1759.6,1621.2 L1760.3,1620.0 L1761.0,1620.7 L1761.7,1623.9 L1762.4,1623.7 L1763.1,1623.5 L1763.8,1625.6 L1764.5,1622.2 L1765.2,1618.8 L1765.9,1623.8 L1766.6,1622.2 L1767.3,1624.7 L1768.0,1624.4 L1768.7,1625.4 L1769.4,1627.4 L1770.1,1621.2 L1770.8,1624.8 L1771.5,1625.2 L1772.2,1628.6 L1772.9,1625.2 L1773.6,1627.1 L1774.3,1622.8 L1775.0,1622.9 L1775.7,1624.4 L1776.4,1626.1 L1777.1,1627.3 L1777.8,1626.4 L1778.5,1623.3 L1779.2,1627.5 L1779.9,1626.9 L1780.6,1627.6 L1781.3,1622.7 L1782.0,1622.7 L1782.7,1624.6 L1783.4,1625.1 L1784.1,1626.0 L1784.8,1624.1 L1785.5,1624.2 L1786.2,1627.0 L1786.9,1622.4 L1787.6,1624.2 L1788.3,1626.5 L1789.0,1627.9 L1789.7,1627.1 L1790.4,1629.7 L1791.1,1627.3 L1791.8,1628.2 L1792.5,1628.4 L1793.2,1627.1 L1793.9,1624.6 L1794.6,1626.6 L1795.3,1626.8 L1796.0,1625.7 L1796.7,1628.6 L1797.4,1626.5 L1798.1,1624.7 L1798.8,1627.6 L1799.5,1625.8 L1800.2,1628.7 L1800.9,1622.9 L1801.6,1624.7 L1802.3,1628.0 L1803.0,1628.5 L1803.7,1628.2 L1804.4,1631.0 L1805.1,1627.8 L1805.8,1627.3 L1806.5,1629.9 L1807.2,1627.8 L1807.9,1629.3 L1808.6,1630.9 L1809.3,1628.4 L1810.0,1628.5 L1810.7,1627.7 L1811.4,1629.6 L1812.1,1630.1 L1812.8,1631.0 L1813.5,1630.3 L1814.2,1632.9 L1814.9,1629.3 L1815.6,1629.6 L1816.3,1628.9 L1817.0,1631.8 L1817.7,1629.7 L1818.4,1629.1 L1819.1,1627.3 L1819.8,1629.5 L1820.5,1631.4 L1821.2,1625.1 L1821.9,1627.9 L1822.6,1628.3 L1823.3,1628.5 L1824.0,1630.2 L1824.7,1629.5 L1825.4,1630.5 L1826.1,1630.8 L1826.8,1632.9 L1827.5,1629.9 L1828.2,1631.1 L1828.9,1630.1 L1829.6,1630.9 L1830.3,1630.0 L1831.0,1628.5 L1831.7,1631.5 L1832.4,1632.8 L1833.1,1629.1 L1833.8,1625.3 L1834.5,1630.9 L1835.2,1627.0 L1835.9,1634.7 L1836.6,1633.8 L1837.3,1633.3 L1838.0,1633.0 L1838.7,1629.6 L1839.4,1626.7 L1840.1,1631.2 L1840.8,1635.6 L1841.5,1630.9 L1842.2,1630.6 L1842.9,1633.3 L1843.6,1632.9 L1844.3,1631.5 L1845.0,1630.6 L1845.7,1635.8 L1846.4,1633.2 L1847.1,1631.8 L1847.8,1629.2 L1848.5,1628.8 L1849.2,1626.5 L1849.9,1631.3 L1850.6,1632.3 L1851.3,1631.5 L1852.0,1631.8 L1852.7,1632.3 L1853.4,1633.4 L1854.1,1628.6 L1854.8,1629.6 L1855.5,1633.6 L1856.2,1639.7 L1856.9,1632.9 L1857.6,1630.1 L1858.3,1634.9 L1859.0,1632.3 L1859.7,1631.6 L1860.4,1630.4 L1861.1,1631.2 L1861.8,1632.5 L1862.5,1632.0 L1863.2,1635.3 L1863.9,1634.5 L1864.6,1632.2 L1865.3,1631.2 L1866.0,1631.5 L1866.7,1633.0 L1867.4,1627.1 L1868.1,1633.0 L1868.8,1632.0 L1869.5,1636.5 L1870.2,1633.3 L1870.9,1632.2 L1871.6,1632.6 L1872.3,1631.4 L1873.0,1631.3 L1873.7,1632.5 L1874.4,1628.9 L1875.1,1632.7 L1875.8,1629.5 L1876.5,1631.2 L1877.2,1631.4 L1877.9,1634.1 L1878.6,1635.8 L1879.3,1635.5 L1880.0,1631.9 L1880.7,1632.4 L1881.4,1633.0 L1882.1,1633.2 L1882.8,1632.2 L1883.5,1634.2 L1884.2,1633.0 L1884.9,1636.7 L1885.6,1634.7 L1886.3,1636.5 L1887.0,1633.0 L1887.7,1634.2 L1888.4,1633.8 L1889.1,1633.5 L1889.8,1631.2 L1890.5,1633.7 L1891.2,1630.5 L1891.9,1634.0 L1892.6,1636.5 L1893.3,1635.5 L1894.0,1633.9 L1894.7,1632.8 L1895.4,1634.8 L1896.1,1631.4 L1896.8,1631.1 L1897.5,1630.9 L1898.2,1634.2 L1898.9,1630.9 L1899.6,1634.6 L1900.3,1635.4 L1901.0,1634.8 L1901.7,1633.3 L1902.4,1634.3 L1903.1,1631.3 L1903.8,1633.9 L1904.5,1636.7 L1905.2,1636.3 L1905.9,1622.9 L1906.6,1633.5 L1907.3,1633.0 L1908.0,1634.7 L1908.7,1634.2 L1909.4,1633.5 L1910.1,1632.5 L1910.8,1634.0 L1911.5,1633.4 L1912.2,1633.8 L1912.9,1633.4 L1913.6,1631.4 L1914.3,1634.5 L1915.0,1634.6 L1915.7,1634.2 L1916.4,1634.3 L1917.1,1636.1 L1917.8,1635.9 L1918.5,1637.0 L1919.2,1635.1 L1919.9,1635.4 L1920.6,1634.0 L1921.3,1631.9 L1922.0,1631.7 L1922.7,1634.9 L1923.4,1624.6 L1924.1,1634.9 L1924.8,1629.5 L1925.5,1633.5 L1926.2,1634.1 L1926.9,1633.2 L1927.6,1633.4 L1928.3,1630.5 L1929.0,1633.7 L1929.7,1636.3 L1930.4,1631.7 L1931.1,1634.9 L1931.8,1632.5 L1932.5,1634.2 L1933.2,1636.6 L1933.9,1634.0 L1934.6,1634.6 L1935.3,1635.2 L1936.0,1633.9 L1936.7,1636.4 L1937.4,1630.2 L1938.1,1633.4 L1938.8,1630.4 L1939.5,1631.1 L1940.2,1634.0 L1940.9,1631.7 L1941.6,1633.3 L1942.3,1636.6 L1943.0,1635.1 L1943.7,1641.2 L1944.4,1633.9 L1945.1,1634.2 L1945.8,1629.4 L1946.5,1634.1 L1947.2,1633.2 L1947.9,1642.0 L1948.6,1634.2 L1949.3,1632.9 L1950.0,1641.2 L1950.7,1635.6 L1951.4,1632.8 L1952.1,1630.8 L1952.8,1640.5 L1953.5,1630.3 L1954.2,1633.0 L1954.9,1630.2 L1955.6,1633.6 L1956.3,1630.9 L1957.0,1639.7 L1957.7,1636.3 L1958.4,1635.0 L1959.1,1634.8 L1959.8,1637.5 L1960.5,1635.8 L1961.2,1634.0 L1961.9,1632.0 L1962.6,1634.5 L1963.3,1631.8 L1964.0,1633.5 L1964.7,1634.9 L1965.4,1632.1 L1966.1,1635.0 L1966.8,1633.3 L1967.5,1638.8 L1968.2,1633.5 L1968.9,1635.2 L1969.6,1635.4 L1970.3,1634.5 L1971.0,1634.8 L1971.7,1633.7 L1972.4,1634.5 L1973.1,1634.6 L1973.8,1635.9 L1974.5,1636.7 L1975.2,1634.3 L1975.9,1637.0 L1976.6,1634.3 L1977.3,1632.5 L1978.0,1633.5 L1978.7,1633.1 L1979.4,1634.0 L1980.1,1634.5 L1980.8,1634.8 L1981.5,1629.2 L1982.2,1635.9 L1982.9,1633.6 L1983.6,1635.5 L1984.3,1634.3 L1985.0,1635.9 L1985.7,1636.8 L1986.4,1634.2 L1987.1,1635.9 L1987.8,1637.1 L1988.5,1635.2 L1989.2,1632.4 L1989.9,1634.3 L1990.6,1632.8 L1991.3,1636.4 L1992.0,1634.9 L1992.7,1635.1 L1993.4,1637.9 L1994.1,1635.9 L1994.8,1634.8 L1995.5,1631.1 L1996.2,1633.5 L1996.9,1633.2 L1997.6,1634.2 L1998.3,1632.1 L1999.0,1635.7 L1999.7,1636.9 L2000.4,1633.8 L2001.1,1631.7 L2001.8,1634.7 L2002.5,1635.7 L2003.2,1637.0 L2003.9,1634.4 L2004.6,1633.1 L2005.3,1631.9 L2006.0,1634.6 L2006.7,1630.1 L2007.4,1632.4 L2008.1,1635.9 L2008.8,1634.3 L2009.5,1634.5 L2010.2,1634.1 L2010.9,1631.9 L2011.6,1633.8 L2012.3,1635.5 L2013.0,1635.6 L2013.7,1632.6 L2014.4,1634.7 L2015.1,1636.4 L2015.8,1635.1 L2016.5,1637.5 L2017.2,1634.6 L2017.9,1631.5 L2018.6,1634.6 L2019.3,1634.9 L2020.0,1635.9 L2020.7,1635.6 L2021.4,1637.5 L2022.1,1635.8 L2022.8,1635.0 L2023.5,1633.6 L2024.2,1634.2 L2024.9,1637.1 L2025.6,1638.3 L2026.3,1635.3 L2027.0,1635.0 L2027.7,1634.3 L2028.4,1635.1 L2029.1,1638.8 L2029.8,1633.7 L2030.5,1647.3 L2031.2,1632.6 L2031.9,1635.0 L2032.6,1635.0 L2033.3,1635.9 L2034.0,1634.4 L2034.7,1632.9 L2035.4,1634.5 L2036.1,1632.7 L2036.8,1634.0 L2037.5,1633.2 L2038.2,1641.4 L2038.9,1630.6 L2039.6,1632.4 L2040.3,1637.1 L2041.0,1634.3 L2041.7,1632.1 L2042.4,1635.9 L2043.1,1649.0 L2043.8,1634.8 L2044.5,1636.4 L2045.2,1632.2 L2045.9,1633.6 L2046.6,1635.1 L2047.3,1635.1 L2048.0,1633.5 L2048.7,1633.6 L2049.4,1633.6 L2050.1,1633.2 L2050.8,1639.3 L2051.5,1633.7 L2052.2,1635.6 L2052.9,1632.0 L2053.6,1635.7 L2054.3,1638.1 L2055.0,1635.1 L2055.7,1633.9 L2056.4,1633.0 L2057.1,1633.8 L2057.8,1632.5 L2058.5,1635.3 L2059.2,1634.6 L2059.9,1636.2 L2060.6,1635.3 L2061.3,1636.3 L2062.0,1637.7 L2062.7,1636.7 L2063.4,1640.1 L2064.1,1633.4 L2064.8,1634.0 L2065.5,1636.1 L2066.2,1636.4 L2066.9,1635.2 L2067.6,1636.4 L2068.3,1636.1 L2069.0,1637.5 L2069.7,1634.8 L2070.4,1633.2 L2071.1,1634.2 L2071.8,1631.3 L2072.5,1629.9 L2073.2,1632.9 L2073.9,1633.9 L2074.6,1633.6 L2075.3,1637.2 L2076.0,1632.8 L2076.7,1632.6 L2077.4,1638.7 L2078.1,1632.0 L2078.8,1636.4 L2079.5,1639.4 L2080.2,1630.0 L2080.9,1636.8 L2081.6,1634.3 L2082.3,1635.7 L2083.0,1635.4 L2083.7,1635.6 L2084.4,1636.7 L2085.1,1639.1 L2085.8,1635.5 L2086.5,1634.6 L2087.2,1636.7 L2087.9,1635.9 L2088.6,1630.1 L2089.3,1635.8 L2090.0,1634.2 L2090.7,1635.7 L2091.4,1632.2 L2092.1,1638.6 L2092.8,1635.9 L2093.5,1634.1 L2094.2,1634.2 L2094.9,1634.6 L2095.6,1634.8 L2096.3,1636.5 L2097.0,1635.7 L2097.7,1634.0 L2098.4,1634.5 L2099.1,1636.1 L2099.8,1633.1 L2100.5,1634.2 L2101.2,1636.8 L2101.9,1635.0 L2102.6,1637.8 L2103.3,1632.8 L2104.0,1634.2 L2104.7,1633.5 L2105.4,1633.4 L2106.1,1636.5 L2106.8,1637.1 L2107.5,1635.3 L2108.2,1634.9 L2108.9,1638.5 L2109.6,1638.2 L2110.3,1631.2 L2111.0,1635.0 L2111.7,1631.2 L2112.4,1632.2 L2113.1,1633.9 L2113.8,1632.9 L2114.5,1636.3 L2115.2,1634.3 L2115.9,1634.7 L2116.6,1635.0 L2117.3,1638.5 L2118.0,1635.7 L2118.7,1636.9 L2119.4,1636.2 L2120.1,1637.5 L2120.8,1639.5 L2121.5,1635.0 L2122.2,1637.6 L2122.9,1635.5 L2123.6,1632.1 L2124.3,1632.8 L2125.0,1634.3 L2125.7,1636.1 L2126.4,1633.7 L2127.1,1638.0 L2127.8,1636.0 L2128.5,1634.7 L2129.2,1632.8 L2129.9,1636.5 L2130.6,1636.4 L2131.3,1637.2 L2132.0,1637.7 L2132.7,1637.5 L2133.4,1638.0 L2134.1,1635.1 L2134.8,1637.0 L2135.5,1631.3 L2136.2,1636.0 L2136.9,1637.7 L2137.6,1635.0 L2138.3,1636.0 L2139.0,1633.8 L2139.7,1634.8 L2140.4,1633.3 L2141.1,1633.6 L2141.8,1633.0 L2142.5,1635.8 L2143.2,1637.5 L2143.9,1633.3 L2144.6,1632.1 L2145.3,1634.7 L2146.0,1635.9 L2146.7,1635.6 L2147.4,1632.9 L2148.1,1635.1 L2148.8,1633.5 L2149.5,1634.3 L2150.2,1634.9 L2150.9,1634.3 L2151.6,1636.0 L2152.3,1634.2 L2153.0,1638.0 L2153.7,1635.3 L2154.4,1633.0 L2155.1,1637.0 L2155.8,1636.8 L2156.5,1635.6 L2157.2,1635.1 L2157.9,1635.8 L2158.6,1636.8 L2159.3,1634.9 L2160.0,1636.7 L2160.7,1634.2 L2161.4,1636.1 L2162.1,1633.3 L2162.8,1635.8 L2163.5,1641.1 L2164.2,1634.1 L2164.9,1635.9 L2165.6,1631.6 L2166.3,1635.0 L2167.0,1634.7 L2167.7,1636.4 L2168.4,1635.1 L2169.1,1637.1 L2169.8,1638.8 L2170.5,1635.4 L2171.2,1636.9 L2171.9,1638.4 L2172.6,1637.0 L2173.3,1637.3" fill="none" stroke="#111" stroke-width="3.2" stroke-linejoin="round"/>
<path d="M1450.2,1635.8 L1450.9,1635.9 L1451.6,1636.0 L1452.3,1636.1 L1453.0,1636.1 L1453.7,1636.2 L1454.4,1636.3 L1455.1,1636.4 L1455.8,1636.5 L1456.5,1636.6 L1457.2,1636.7 L1457.9,1636.8 L1458.6,1636.9 L1459.3,1637.0 L1460.0,1637.1 L1460.7,1637.3 L1461.4,1637.5 L1462.1,1637.6 L1462.8,1637.8 L1463.5,1637.9 L1464.2,1638.1 L1464.9,1638.3 L1465.6,1638.5 L1466.3,1638.7 L1467.0,1638.9 L1467.7,1639.1 L1468.4,1639.4 L1469.1,1639.6 L1469.8,1639.9 L1470.5,1640.2 L1471.2,1640.5 L1471.9,1640.7 L1472.6,1641.0 L1473.3,1641.3 L1474.0,1641.5 L1474.7,1641.8 L1475.4,1642.0 L1476.1,1642.2 L1476.8,1642.4 L1477.5,1642.5 L1478.2,1642.7 L1478.9,1642.8 L1479.6,1642.9 L1480.3,1643.0 L1481.0,1643.1 L1481.7,1643.2 L1482.4,1643.3 L1483.1,1643.4 L1483.8,1643.5 L1484.5,1643.6 L1485.2,1643.7 L1485.9,1643.7 L1486.6,1643.8 L1487.3,1643.8 L1488.0,1643.9 L1488.7,1643.9 L1489.4,1644.0 L1490.1,1644.0 L1490.8,1644.1 L1491.5,1644.1 L1492.2,1644.2 L1492.9,1644.2 L1493.6,1644.3 L1494.3,1644.3 L1495.0,1644.4 L1495.7,1644.5 L1496.4,1644.5 L1497.1,1644.6 L1497.8,1644.8 L1498.5,1644.9 L1499.2,1645.0 L1499.9,1645.2 L1500.6,1645.3 L1501.3,1645.5 L1502.0,1645.7 L1502.7,1645.8 L1503.4,1646.1 L1504.1,1646.3 L1504.8,1646.7 L1505.5,1647.0 L1506.2,1647.4 L1506.9,1647.9 L1507.6,1648.4 L1508.3,1649.0 L1509.0,1649.7 L1509.7,1650.4 L1510.4,1651.2 L1511.1,1652.0 L1511.8,1652.9 L1512.5,1653.8 L1513.2,1654.7 L1513.9,1655.6 L1514.6,1656.6 L1515.3,1657.5 L1516.0,1658.4 L1516.7,1659.2 L1517.4,1660.1 L1518.1,1660.9 L1518.8,1661.7 L1519.5,1662.5 L1520.2,1663.2 L1520.9,1664.0 L1521.6,1664.8 L1522.3,1665.5 L1523.0,1666.3 L1523.7,1667.0 L1524.4,1667.8 L1525.1,1668.6 L1525.8,1669.4 L1526.5,1670.2 L1527.2,1671.0 L1527.9,1671.8 L1528.6,1672.7 L1529.3,1673.5 L1530.0,1674.4 L1530.7,1675.4 L1531.4,1676.4 L1532.1,1677.4 L1532.8,1678.5 L1533.5,1679.6 L1534.2,1680.7 L1534.9,1681.9 L1535.6,1683.1 L1536.3,1684.3 L1537.0,1685.6 L1537.7,1687.0 L1538.4,1688.3 L1539.1,1689.7 L1539.8,1691.1 L1540.5,1692.6 L1541.2,1694.0 L1541.9,1695.5 L1542.6,1697.0 L1543.3,1698.6 L1544.0,1700.2 L1544.7,1701.9 L1545.4,1703.6 L1546.1,1705.5 L1546.8,1707.4 L1547.5,1709.5 L1548.2,1711.7 L1548.9,1713.9 L1549.6,1716.3 L1550.3,1718.8 L1551.0,1721.4 L1551.7,1724.0 L1552.4,1726.8 L1553.1,1729.6 L1553.8,1732.5 L1554.5,1735.5 L1555.2,1738.6 L1555.9,1741.7 L1556.6,1745.1 L1557.3,1748.7 L1558.0,1752.6 L1558.7,1756.7 L1559.4,1761.0 L1560.1,1765.4 L1560.8,1769.7 L1561.5,1773.8 L1562.2,1777.5 L1562.9,1781.0 L1563.6,1784.3 L1564.3,1787.5 L1565.0,1790.7 L1565.7,1793.9 L1566.4,1797.2 L1567.1,1800.7 L1567.8,1804.5 L1568.5,1808.6 L1569.2,1813.0 L1569.9,1817.6 L1570.6,1822.3 L1571.3,1827.2 L1572.0,1832.2 L1572.7,1837.3 L1573.4,1842.3 L1574.1,1847.2 L1574.8,1852.3 L1575.5,1857.3 L1576.2,1862.4 L1576.9,1867.6 L1577.6,1872.8 L1578.3,1878.0 L1579.0,1883.2 L1579.7,1888.5 L1580.4,1894.1 L1581.1,1899.8 L1581.8,1905.6 L1582.5,1911.4 L1583.2,1916.9 L1583.9,1922.2 L1584.6,1927.1 L1585.3,1931.6 L1586.0,1936.0 L1586.7,1940.4 L1587.4,1944.9 L1588.1,1949.2 L1588.8,1953.4 L1589.5,1957.2 L1590.2,1960.8 L1590.9,1964.0 L1591.6,1966.7 L1592.3,1968.8 L1593.0,1970.1 L1593.7,1970.7 L1594.4,1970.7 L1595.1,1970.1 L1595.8,1969.1 L1596.5,1967.6 L1597.2,1965.8 L1597.9,1963.5 L1598.6,1961.0 L1599.3,1958.2 L1600.0,1955.1 L1600.7,1951.8 L1601.4,1948.1 L1602.1,1943.9 L1602.8,1939.1 L1603.5,1933.7 L1604.2,1927.7 L1604.9,1921.2 L1605.6,1914.3 L1606.3,1906.9 L1607.0,1899.0 L1607.7,1889.9 L1608.4,1879.3 L1609.1,1867.6 L1609.8,1855.6 L1610.5,1844.4 L1611.2,1833.9 L1611.9,1823.4 L1612.6,1813.0 L1613.3,1802.6 L1614.0,1792.2 L1614.7,1781.8 L1615.4,1771.7 L1616.1,1761.6 L1616.8,1751.5 L1617.5,1741.0 L1618.2,1729.8 L1618.9,1717.3 L1619.6,1703.7 L1620.3,1689.1 L1621.0,1674.1 L1621.7,1659.3 L1622.4,1643.9 L1623.1,1627.7 L1623.8,1610.6 L1624.5,1592.4 L1625.2,1574.1 L1625.9,1556.9 L1626.6,1541.3 L1627.3,1526.6 L1628.0,1513.2 L1628.7,1501.0 L1629.4,1490.8 L1630.1,1482.1 L1630.8,1473.3 L1631.5,1463.4 L1632.2,1452.7 L1632.9,1441.7 L1633.6,1431.0 L1634.3,1421.0 L1635.0,1412.2 L1635.7,1404.1 L1636.4,1396.9 L1637.1,1390.4 L1637.8,1384.4 L1638.5,1378.8 L1639.2,1373.3 L1639.9,1367.9 L1640.6,1362.8 L1641.3,1358.0 L1642.0,1353.7 L1642.7,1349.8 L1643.4,1346.5 L1644.1,1343.8 L1644.8,1341.5 L1645.5,1339.6 L1646.2,1338.0 L1646.9,1336.7 L1647.6,1335.7 L1648.3,1335.0 L1649.0,1334.5 L1649.7,1334.3 L1650.4,1334.4 L1651.1,1334.9 L1651.8,1335.6 L1652.5,1336.6 L1653.2,1337.8 L1653.9,1339.2 L1654.6,1340.8 L1655.3,1342.5 L1656.0,1344.4 L1656.7,1346.8 L1657.4,1349.5 L1658.1,1352.5 L1658.8,1355.7 L1659.5,1358.8 L1660.2,1361.8 L1660.9,1364.6 L1661.6,1367.2 L1662.3,1369.8 L1663.0,1372.4 L1663.7,1375.0 L1664.4,1377.6 L1665.1,1380.2 L1665.8,1382.8 L1666.5,1385.5 L1667.2,1388.2 L1667.9,1391.0 L1668.6,1393.8 L1669.3,1396.6 L1670.0,1399.5 L1670.7,1402.3 L1671.4,1405.3 L1672.1,1408.2 L1672.8,1411.2 L1673.5,1414.3 L1674.2,1417.5 L1674.9,1420.7 L1675.6,1424.2 L1676.3,1427.8 L1677.0,1431.5 L1677.7,1435.3 L1678.4,1439.3 L1679.1,1443.2 L1679.8,1447.1 L1680.5,1451.0 L1681.2,1455.0 L1681.9,1459.1 L1682.6,1463.1 L1683.3,1467.2 L1684.0,1471.1 L1684.7,1475.0 L1685.4,1478.7 L1686.1,1482.4 L1686.8,1486.0 L1687.5,1489.5 L1688.2,1493.0 L1688.9,1496.4 L1689.6,1499.8 L1690.3,1503.1 L1691.0,1506.4 L1691.7,1509.7 L1692.4,1513.0 L1693.1,1516.3 L1693.8,1519.5 L1694.5,1522.7 L1695.2,1525.8 L1695.9,1528.8 L1696.6,1531.8 L1697.3,1534.6 L1698.0,1537.3 L1698.7,1540.0 L1699.4,1542.6 L1700.1,1545.1 L1700.8,1547.5 L1701.5,1549.9 L1702.2,1552.2 L1702.9,1554.4 L1703.6,1556.6 L1704.3,1558.7 L1705.0,1560.8 L1705.7,1562.8 L1706.4,1564.8 L1707.1,1566.7 L1707.8,1568.6 L1708.5,1570.5 L1709.2,1572.3 L1709.9,1574.1 L1710.6,1575.8 L1711.3,1577.5 L1712.0,1579.1 L1712.7,1580.7 L1713.4,1582.2 L1714.1,1583.7 L1714.8,1585.1 L1715.5,1586.5 L1716.2,1587.8 L1716.9,1589.1 L1717.6,1590.3 L1718.3,1591.5 L1719.0,1592.6 L1719.7,1593.7 L1720.4,1594.8 L1721.1,1595.9 L1721.8,1596.9 L1722.5,1597.9 L1723.2,1598.8 L1723.9,1599.7 L1724.6,1600.6 L1725.3,1601.5 L1726.0,1602.3 L1726.7,1603.1 L1727.4,1603.9 L1728.1,1604.7 L1728.8,1605.4 L1729.5,1606.2 L1730.2,1606.9 L1730.9,1607.6 L1731.6,1608.2 L1732.3,1608.9 L1733.0,1609.5 L1733.7,1610.2 L1734.4,1610.8 L1735.1,1611.4 L1735.8,1612.0 L1736.5,1612.6 L1737.2,1613.1 L1737.9,1613.7 L1738.6,1614.2 L1739.3,1614.6 L1740.0,1615.1 L1740.7,1615.5 L1741.4,1615.9 L1742.1,1616.2 L1742.8,1616.6 L1743.5,1616.9 L1744.2,1617.2 L1744.9,1617.5 L1745.6,1617.7 L1746.3,1618.0 L1747.0,1618.2 L1747.7,1618.4 L1748.4,1618.7 L1749.1,1618.9 L1749.8,1619.1 L1750.5,1619.3 L1751.2,1619.4 L1751.9,1619.6 L1752.6,1619.8 L1753.3,1620.0 L1754.0,1620.1 L1754.7,1620.3 L1755.4,1620.4 L1756.1,1620.6 L1756.8,1620.7 L1757.5,1620.9 L1758.2,1621.0 L1758.9,1621.2 L1759.6,1621.3 L1760.3,1621.4 L1761.0,1621.6 L1761.7,1621.7 L1762.4,1621.9 L1763.1,1622.0 L1763.8,1622.1 L1764.5,1622.2 L1765.2,1622.4 L1765.9,1622.5 L1766.6,1622.6 L1767.3,1622.7 L1768.0,1622.9 L1768.7,1623.0 L1769.4,1623.1 L1770.1,1623.2 L1770.8,1623.3 L1771.5,1623.4 L1772.2,1623.5 L1772.9,1623.6 L1773.6,1623.7 L1774.3,1623.8 L1775.0,1623.9 L1775.7,1624.0 L1776.4,1624.1 L1777.1,1624.2 L1777.8,1624.3 L1778.5,1624.4 L1779.2,1624.4 L1779.9,1624.5 L1780.6,1624.6 L1781.3,1624.7 L1782.0,1624.8 L1782.7,1624.9 L1783.4,1625.0 L1784.1,1625.0 L1784.8,1625.1 L1785.5,1625.2 L1786.2,1625.3 L1786.9,1625.4 L1787.6,1625.4 L1788.3,1625.5 L1789.0,1625.6 L1789.7,1625.7 L1790.4,1625.8 L1791.1,1625.8 L1791.8,1625.9 L1792.5,1626.0 L1793.2,1626.1 L1793.9,1626.1 L1794.6,1626.2 L1795.3,1626.3 L1796.0,1626.4 L1796.7,1626.5 L1797.4,1626.5 L1798.1,1626.6 L1798.8,1626.7 L1799.5,1626.8" fill="none" stroke="#111" stroke-width="3.6" stroke-linejoin="round"/>
<line x1="1124" y1="1634.0" x2="2157" y2="1634.0" stroke="#b22b2f" stroke-width="5"/>
<path d="M1605.6,1914.1 L1606.3,1906.2 L1607.0,1899.7 L1607.7,1888.3 L1608.4,1879.1 L1609.1,1867.9 L1609.8,1856.2 L1610.5,1844.3 L1611.2,1834.5 L1611.9,1823.9 L1612.6,1813.3 L1613.3,1803.3 L1614.0,1791.4 L1614.7,1782.4 L1615.4,1771.8 L1616.1,1761.4 L1616.8,1751.4 L1617.5,1741.5 L1618.2,1731.6 L1618.9,1717.7 L1619.6,1703.1 L1620.3,1688.4 L1621.0,1674.2 L1621.7,1659.6 L1622.4,1643.6 L1623.1,1628.2 L1623.8,1612.1 L1624.5,1592.6 L1625.2,1573.7 L1625.9,1557.5 L1626.6,1541.8 L1627.3,1527.3 L1628.0,1513.3 L1628.7,1500.4 L1629.4,1491.0 L1630.1,1482.5 L1630.8,1473.2 L1631.5,1462.9 L1632.2,1452.9 L1632.9,1442.0 L1633.6,1430.4 L1634.3,1420.7 L1635.0,1411.5 L1635.7,1404.3 L1636.4,1397.0 L1637.1,1391.2 L1637.8,1384.0 L1638.5,1379.4 L1639.2,1373.2 L1639.9,1368.0" fill="none" stroke="#111" stroke-width="3.8"/>
<rect x="1121.3" y="1241.5" width="1054.2" height="787.5" fill="none" stroke="#151515" stroke-width="5"/>
<line x1="1121.3" y1="2031.5" x2="1121.3" y2="2044.5" stroke="#888" stroke-width="2"/>
<line x1="1226.7" y1="2031.5" x2="1226.7" y2="2039.5" stroke="#888" stroke-width="2"/>
<line x1="1332.1" y1="2031.5" x2="1332.1" y2="2044.5" stroke="#888" stroke-width="2"/>
<line x1="1437.6" y1="2031.5" x2="1437.6" y2="2039.5" stroke="#888" stroke-width="2"/>
<line x1="1543.0" y1="2031.5" x2="1543.0" y2="2044.5" stroke="#888" stroke-width="2"/>
<line x1="1648.4" y1="2031.5" x2="1648.4" y2="2039.5" stroke="#888" stroke-width="2"/>
<line x1="1753.8" y1="2031.5" x2="1753.8" y2="2044.5" stroke="#888" stroke-width="2"/>
<line x1="1859.2" y1="2031.5" x2="1859.2" y2="2039.5" stroke="#888" stroke-width="2"/>
<line x1="1964.7" y1="2031.5" x2="1964.7" y2="2044.5" stroke="#888" stroke-width="2"/>
<line x1="2070.1" y1="2031.5" x2="2070.1" y2="2039.5" stroke="#888" stroke-width="2"/>
<line x1="2175.5" y1="2031.5" x2="2175.5" y2="2044.5" stroke="#888" stroke-width="2"/>
<text x="1129.7" y="2080.4" font-size="42" text-anchor="middle" fill="#111" textLength="80" lengthAdjust="spacingAndGlyphs">1.98</text>
<text x="1340.8" y="2080.4" font-size="42" text-anchor="middle" fill="#111" textLength="80" lengthAdjust="spacingAndGlyphs">1.99</text>
<text x="1550.8" y="2080.4" font-size="42" text-anchor="middle" fill="#111" textLength="80" lengthAdjust="spacingAndGlyphs">2.00</text>
<text x="1761.4" y="2080.4" font-size="42" text-anchor="middle" fill="#111" textLength="80" lengthAdjust="spacingAndGlyphs">2.01</text>
<text x="1972.4" y="2080.4" font-size="42" text-anchor="middle" fill="#111" textLength="80" lengthAdjust="spacingAndGlyphs">2.02</text>
<text x="2183.6" y="2080.4" font-size="42" text-anchor="middle" fill="#111" textLength="80" lengthAdjust="spacingAndGlyphs">2.03</text>
<text x="1614" y="2185.0" font-size="64" text-anchor="middle" fill="#111" textLength="248" lengthAdjust="spacingAndGlyphs">[g-factor]</text>
<text transform="translate(1102.1,1599.0) rotate(-90)" x="0" y="0" font-size="60" text-anchor="middle" fill="#111" textLength="228.1" lengthAdjust="spacingAndGlyphs">intensity</text>
<text x="1939.9" y="1338.2" font-size="62" fill="#111" textLength="132.7" lengthAdjust="spacingAndGlyphs">MoO</text>
<text x="2074.3" y="1360.5" font-size="35" fill="#111">3-x</text>
<text x="1342.7" y="1533.3" font-size="50" fill="#111">g<tspan x="1389.7">=</tspan><tspan x="1433.2" textLength="122.5" lengthAdjust="spacingAndGlyphs">2.003</tspan></text>
<line x1="1504.3" y1="1546.3" x2="1585.3" y2="1607.3" stroke="#0a7a5a" stroke-width="3.4"/>
<polygon points="1603.5,1621.7 1576.9,1617.1 1593.7,1597.5" fill="#006f4a"/>
<rect x="1607.8" y="1621.9" width="27.6" height="27.6" fill="#f45a36" stroke="#0c38a6" stroke-width="8.5"/>
<text x="1058.3" y="1250.6" font-size="77" fill="#111">e</text>
</svg></body></html>
